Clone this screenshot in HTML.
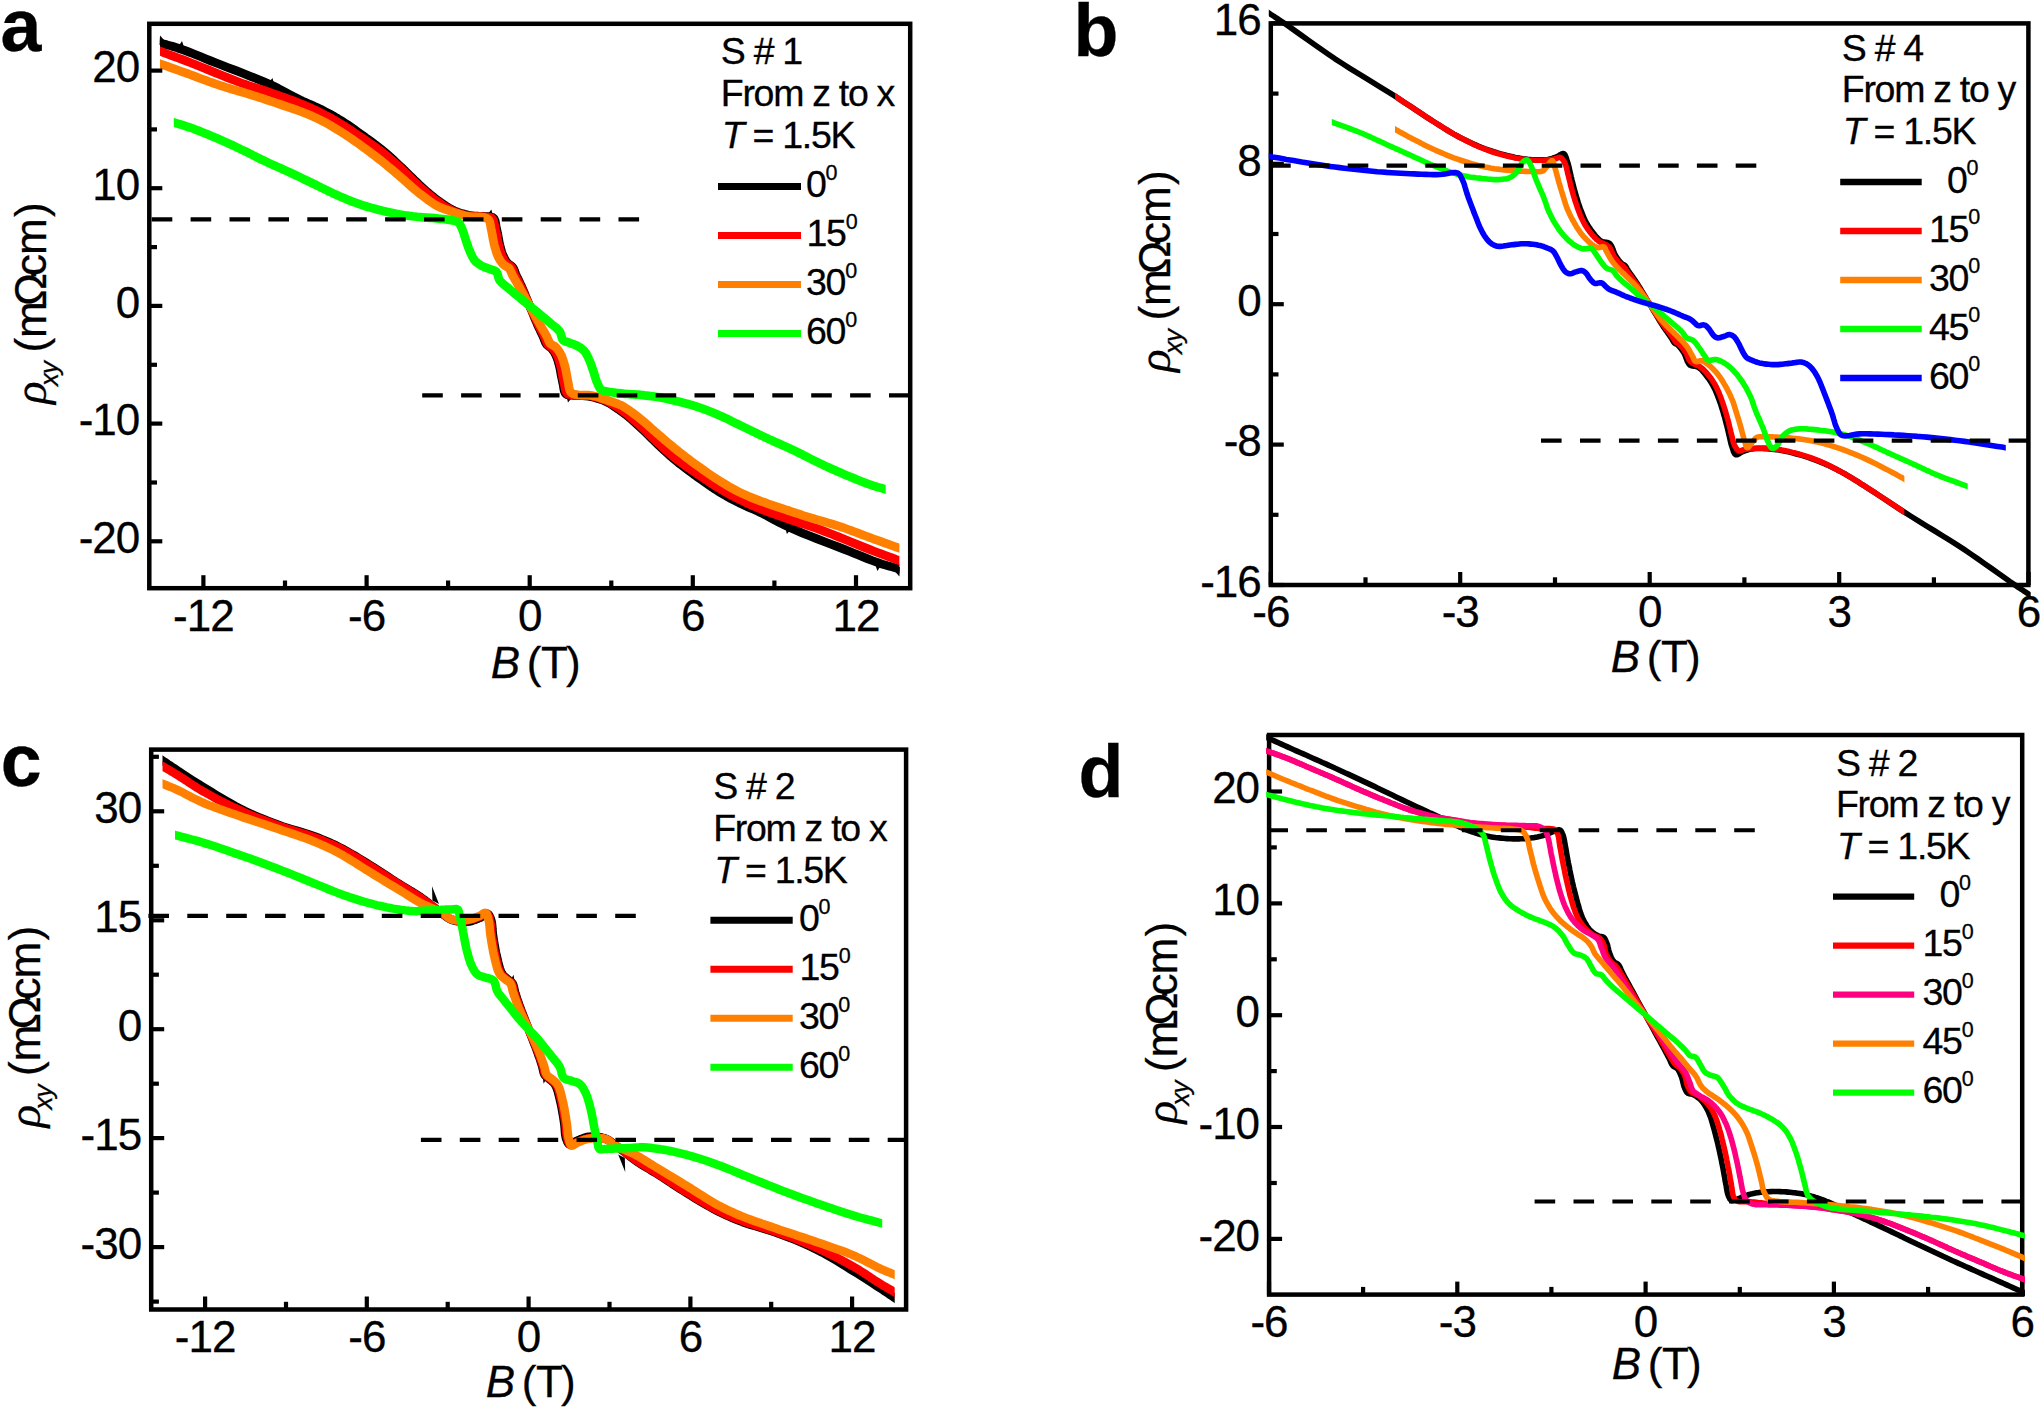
<!DOCTYPE html>
<html><head><meta charset="utf-8"><title>Hall resistivity</title>
<style>html,body{margin:0;padding:0;background:#fff;}svg{display:block;}text{font-family:'Liberation Sans', Arial, sans-serif;fill:#000;stroke:#000;stroke-width:0.3px;}</style>
</head><body>
<svg width="2040" height="1408" viewBox="0 0 2040 1408">
<rect width="2040" height="1408" fill="#fff"/>
<g>
<clipPath id="c1"><rect x="160.0" y="0" width="739.4" height="1408"/></clipPath>
<path clip-path="url(#c1)" d="M152.3,40.9 L160.0,43.0 L162.5,43.7 L164.9,44.3 L167.3,45.0 L169.7,45.6 L172.1,46.3 L174.6,47.0 L177.3,47.8 L180.0,48.8 L183.9,50.1 L187.9,51.6 L192.1,53.3 L196.4,55.0 L200.9,56.8 L205.5,58.7 L210.2,60.6 L215.0,62.5 L221.4,65.0 L228.3,67.7 L235.5,70.4 L242.8,73.3 L250.1,76.2 L257.2,79.0 L263.9,81.8 L270.0,84.5 L274.3,86.5 L278.3,88.5 L282.2,90.6 L286.0,92.6 L289.6,94.5 L293.1,96.4 L296.6,98.2 L300.0,99.9 L302.7,101.2 L305.3,102.3 L307.8,103.4 L310.3,104.5 L312.7,105.5 L315.1,106.6 L317.5,107.7 L320.0,108.9 L322.5,110.2 L325.0,111.5 L327.6,112.8 L330.1,114.1 L332.6,115.5 L335.0,117.0 L337.5,118.4 L340.0,119.9 L342.5,121.5 L345.0,123.1 L347.5,124.7 L350.0,126.4 L352.4,128.1 L354.9,129.9 L357.4,131.7 L360.0,133.5 L362.9,135.5 L365.8,137.7 L368.8,139.8 L371.8,142.0 L374.7,144.2 L377.6,146.5 L380.5,148.7 L383.2,150.9 L385.6,152.9 L387.9,154.9 L390.1,156.8 L392.3,158.8 L394.5,160.8 L396.6,162.8 L398.8,164.9 L401.0,166.9 L403.2,169.0 L405.4,171.2 L407.6,173.3 L409.8,175.5 L412.0,177.7 L414.2,179.9 L416.5,182.0 L418.7,184.1 L420.9,186.1 L423.1,188.1 L425.3,190.1 L427.5,192.1 L429.7,194.0 L432.0,195.9 L434.2,197.7 L436.5,199.4 L438.7,201.0 L440.9,202.6 L443.1,204.1 L445.3,205.6 L447.5,207.1 L449.7,208.4 L452.0,209.6 L454.2,210.7 L456.2,211.6 L458.3,212.4 L460.5,213.1 L462.6,213.7 L464.7,214.3 L466.7,214.8 L468.4,215.2 L470.0,215.5 L470.7,215.6 L471.4,215.8 L472.0,215.8 L472.6,215.9 L473.1,215.9 L473.7,216.0 L474.3,216.0 L475.0,216.1 L476.2,216.2 L477.5,216.2 L479.0,216.3 L480.4,216.3 L481.9,216.3 L483.4,216.4 L484.8,216.5 L486.1,216.6 L487.1,216.7 L488.1,216.7 L489.2,216.8 L490.1,216.8 L491.1,216.9 L491.9,217.1 L492.7,217.5 L493.4,218.0 L494.2,218.8 L494.7,220.0 L495.2,221.3 L495.5,222.8 L495.8,224.3 L496.0,226.0 L496.3,227.6 L496.7,229.2 L497.1,231.2 L497.5,233.3 L498.0,235.5 L498.4,237.8 L498.8,240.0 L499.2,242.2 L499.6,244.3 L500.1,246.3 L500.5,247.7 L500.9,249.1 L501.2,250.4 L501.6,251.7 L502.1,253.0 L502.5,254.2 L503.0,255.4 L503.5,256.5 L504.0,257.5 L504.4,258.4 L504.9,259.3 L505.5,260.2 L506.0,261.0 L506.6,261.8 L507.1,262.6 L507.8,263.3 L508.4,263.9 L509.0,264.5 L509.7,264.9 L510.4,265.4 L511.0,265.9 L511.7,266.4 L512.3,266.9 L512.9,267.6 L513.4,268.4 L513.9,269.2 L514.3,270.2 L514.7,271.1 L515.0,272.1 L515.4,273.1 L515.8,274.2 L516.3,275.3 L516.9,276.6 L517.6,278.0 L518.3,279.4 L519.0,280.9 L519.7,282.4 L520.4,283.9 L521.2,285.5 L521.9,287.2 L522.8,289.3 L523.8,291.6 L524.8,293.9 L525.7,296.3 L526.7,298.7 L527.7,301.2 L528.7,303.6 L529.7,305.9 L530.7,308.3 L531.7,310.7 L532.7,313.2 L533.7,315.6 L534.6,318.0 L535.6,320.3 L536.6,322.6 L537.5,324.7 L538.2,326.4 L539.0,328.0 L539.7,329.5 L540.4,331.0 L541.1,332.5 L541.8,333.9 L542.5,335.3 L543.1,336.6 L543.6,337.7 L544.0,338.8 L544.4,339.8 L544.7,340.8 L545.1,341.7 L545.5,342.7 L546.0,343.5 L546.5,344.3 L547.1,345.0 L547.7,345.5 L548.4,346.0 L549.0,346.5 L549.7,347.0 L550.4,347.4 L551.0,348.0 L551.6,348.6 L552.3,349.3 L552.8,350.1 L553.4,350.9 L553.9,351.7 L554.5,352.6 L555.0,353.5 L555.4,354.4 L555.9,355.4 L556.4,356.5 L556.9,357.7 L557.3,358.9 L557.8,360.2 L558.2,361.5 L558.5,362.8 L558.9,364.2 L559.3,365.6 L559.8,367.6 L560.2,369.7 L560.6,371.9 L561.0,374.1 L561.4,376.4 L561.9,378.6 L562.3,380.7 L562.7,382.7 L563.1,384.3 L563.4,385.9 L563.6,387.6 L563.9,389.1 L564.2,390.6 L564.7,391.9 L565.2,393.1 L566.0,393.9 L566.7,394.4 L567.5,394.8 L568.3,395.0 L569.3,395.1 L570.2,395.1 L571.3,395.2 L572.3,395.2 L573.3,395.3 L574.6,395.4 L576.0,395.5 L577.5,395.6 L579.0,395.6 L580.4,395.6 L581.9,395.7 L583.2,395.7 L584.4,395.8 L585.1,395.9 L585.7,395.9 L586.3,396.0 L586.8,396.0 L587.4,396.1 L588.0,396.1 L588.7,396.3 L589.4,396.4 L591.0,396.7 L592.7,397.1 L594.7,397.6 L596.8,398.2 L598.9,398.8 L601.1,399.5 L603.2,400.3 L605.2,401.2 L607.4,402.3 L609.7,403.5 L611.9,404.8 L614.1,406.3 L616.3,407.8 L618.5,409.3 L620.7,410.9 L622.9,412.5 L625.2,414.2 L627.4,416.0 L629.7,417.9 L631.9,419.8 L634.1,421.8 L636.3,423.8 L638.5,425.8 L640.7,427.8 L642.9,429.9 L645.2,432.0 L647.4,434.2 L649.6,436.4 L651.8,438.6 L654.0,440.7 L656.2,442.9 L658.4,445.0 L660.6,447.0 L662.8,449.1 L664.9,451.1 L667.1,453.1 L669.3,455.1 L671.5,457.0 L673.8,459.0 L676.2,461.0 L678.9,463.2 L681.8,465.4 L684.7,467.7 L687.6,469.9 L690.6,472.1 L693.6,474.2 L696.5,476.4 L699.4,478.4 L702.0,480.2 L704.5,482.0 L707.0,483.8 L709.4,485.5 L711.9,487.2 L714.4,488.8 L716.9,490.4 L719.4,492.0 L721.9,493.5 L724.4,494.9 L726.8,496.4 L729.3,497.8 L731.8,499.1 L734.4,500.4 L736.9,501.7 L739.4,503.0 L741.9,504.2 L744.3,505.3 L746.7,506.4 L749.1,507.4 L751.6,508.5 L754.1,509.6 L756.7,510.7 L759.4,512.0 L762.8,513.7 L766.3,515.5 L769.8,517.4 L773.4,519.3 L777.2,521.3 L781.1,523.4 L785.1,525.4 L789.4,527.4 L795.5,530.1 L802.2,532.9 L809.3,535.7 L816.6,538.6 L823.9,541.5 L831.1,544.2 L838.0,546.9 L844.4,549.4 L849.2,551.3 L853.9,553.2 L858.5,555.1 L863.0,556.9 L867.3,558.6 L871.5,560.3 L875.5,561.8 L879.4,563.2 L882.1,564.1 L884.8,564.9 L887.3,565.6 L889.7,566.3 L892.1,566.9 L894.5,567.6 L896.9,568.2 L899.4,568.9 L907.1,571.0" fill="none" stroke="#000000" stroke-width="8.70" stroke-linejoin="round" stroke-linecap="butt"/>
<polygon points="487.0,214.9 491.4,209.4 492.8,215.6" fill="#000000"/>
<polygon points="572.4,397.0 568.0,402.5 566.6,396.3" fill="#000000"/>
<polygon points="266.2,85.5 272.5,78.0 275.0,87.5" fill="#000000"/>
<polygon points="793.2,526.4 786.9,533.9 784.4,524.4" fill="#000000"/>
<polygon points="177.5,48.0 182.0,41.0 185.0,50.0" fill="#000000"/>
<polygon points="881.9,563.9 877.4,570.9 874.4,561.9" fill="#000000"/>
<polygon points="159.5,45.0 160.0,35.5 167.5,43.8" fill="#000000"/>
<polygon points="899.9,566.9 899.4,576.4 891.9,568.1" fill="#000000"/>
<clipPath id="c2"><rect x="160.0" y="0" width="739.4" height="1408"/></clipPath>
<path clip-path="url(#c2)" d="M152.5,48.5 L160.0,51.2 L163.7,52.6 L167.3,54.0 L170.9,55.3 L174.5,56.6 L178.2,58.0 L182.0,59.4 L185.9,60.9 L190.0,62.5 L195.7,64.8 L201.9,67.3 L208.4,69.9 L215.0,72.6 L221.6,75.3 L228.1,77.9 L234.3,80.3 L240.0,82.5 L244.1,84.0 L248.0,85.3 L251.8,86.6 L255.5,87.7 L259.1,88.9 L262.7,90.0 L266.3,91.2 L270.0,92.5 L273.8,93.8 L277.7,95.2 L281.5,96.5 L285.4,97.9 L289.2,99.3 L293.0,100.7 L296.6,102.0 L300.0,103.4 L302.7,104.5 L305.3,105.6 L307.8,106.7 L310.3,107.8 L312.7,108.9 L315.1,110.0 L317.5,111.2 L320.0,112.4 L322.5,113.7 L325.0,115.0 L327.5,116.3 L330.1,117.7 L332.6,119.1 L335.0,120.5 L337.5,121.9 L340.0,123.4 L342.5,124.9 L345.0,126.5 L347.5,128.1 L350.0,129.7 L352.4,131.4 L354.9,133.1 L357.4,134.8 L360.0,136.5 L362.9,138.4 L365.8,140.4 L368.8,142.5 L371.8,144.5 L374.7,146.6 L377.6,148.7 L380.5,150.8 L383.2,152.9 L385.6,154.8 L387.9,156.7 L390.1,158.7 L392.3,160.6 L394.5,162.5 L396.7,164.5 L398.8,166.5 L401.0,168.5 L403.2,170.6 L405.4,172.7 L407.6,174.9 L409.8,177.1 L412.0,179.3 L414.2,181.4 L416.5,183.5 L418.7,185.6 L420.9,187.6 L423.1,189.6 L425.3,191.5 L427.5,193.5 L429.7,195.4 L432.0,197.2 L434.2,199.0 L436.5,200.7 L438.7,202.2 L440.9,203.8 L443.1,205.3 L445.3,206.7 L447.5,208.0 L449.8,209.3 L452.0,210.5 L454.2,211.5 L456.2,212.3 L458.4,213.1 L460.5,213.8 L462.6,214.5 L464.7,215.0 L466.7,215.5 L468.4,215.9 L470.0,216.2 L470.7,216.3 L471.4,216.4 L472.0,216.4 L472.6,216.4 L473.1,216.4 L473.7,216.4 L474.3,216.4 L475.0,216.4 L476.1,216.5 L477.4,216.5 L478.7,216.5 L480.0,216.6 L481.4,216.6 L482.8,216.7 L484.1,216.8 L485.3,216.9 L486.2,217.0 L487.1,217.1 L488.1,217.1 L489.0,217.2 L489.8,217.3 L490.7,217.5 L491.4,217.8 L492.1,218.3 L492.8,219.2 L493.4,220.2 L493.8,221.5 L494.2,223.0 L494.5,224.5 L494.8,226.1 L495.1,227.7 L495.5,229.2 L495.9,231.2 L496.4,233.3 L496.8,235.5 L497.2,237.8 L497.6,240.0 L498.0,242.2 L498.4,244.3 L498.9,246.3 L499.3,247.7 L499.7,249.1 L500.1,250.4 L500.5,251.7 L500.9,253.0 L501.3,254.2 L501.8,255.4 L502.3,256.5 L502.8,257.5 L503.2,258.4 L503.7,259.3 L504.3,260.2 L504.8,261.0 L505.4,261.8 L506.0,262.6 L506.6,263.3 L507.2,263.9 L507.8,264.5 L508.5,264.9 L509.2,265.4 L509.9,265.9 L510.5,266.4 L511.1,266.9 L511.7,267.6 L512.2,268.4 L512.7,269.2 L513.1,270.2 L513.5,271.1 L513.8,272.1 L514.2,273.2 L514.6,274.2 L515.1,275.3 L515.7,276.6 L516.4,278.0 L517.2,279.4 L517.9,280.9 L518.7,282.4 L519.5,283.9 L520.3,285.5 L521.1,287.2 L522.1,289.3 L523.1,291.6 L524.2,293.9 L525.3,296.3 L526.4,298.7 L527.5,301.2 L528.6,303.6 L529.7,305.9 L530.8,308.3 L531.9,310.7 L533.0,313.2 L534.1,315.6 L535.2,318.0 L536.3,320.3 L537.3,322.6 L538.3,324.7 L539.1,326.4 L539.9,328.0 L540.7,329.5 L541.5,331.0 L542.2,332.5 L543.0,333.9 L543.7,335.3 L544.3,336.6 L544.8,337.7 L545.2,338.7 L545.6,339.8 L545.9,340.8 L546.3,341.7 L546.7,342.7 L547.2,343.5 L547.7,344.3 L548.3,345.0 L548.9,345.5 L549.5,346.0 L550.2,346.5 L550.9,347.0 L551.6,347.4 L552.2,348.0 L552.8,348.6 L553.4,349.3 L554.0,350.1 L554.6,350.9 L555.1,351.7 L555.7,352.6 L556.2,353.5 L556.6,354.4 L557.1,355.4 L557.6,356.5 L558.1,357.7 L558.5,358.9 L558.9,360.2 L559.3,361.5 L559.7,362.8 L560.1,364.2 L560.5,365.6 L561.0,367.6 L561.4,369.7 L561.8,371.9 L562.2,374.1 L562.6,376.4 L563.0,378.6 L563.5,380.7 L563.9,382.7 L564.3,384.2 L564.6,385.8 L564.9,387.4 L565.2,388.9 L565.6,390.4 L566.0,391.7 L566.6,392.7 L567.3,393.6 L568.0,394.1 L568.7,394.4 L569.6,394.6 L570.4,394.7 L571.3,394.8 L572.3,394.8 L573.2,394.9 L574.1,395.0 L575.3,395.1 L576.6,395.2 L578.0,395.3 L579.4,395.3 L580.7,395.4 L582.0,395.4 L583.3,395.4 L584.4,395.5 L585.1,395.5 L585.7,395.5 L586.3,395.5 L586.8,395.5 L587.4,395.5 L588.0,395.5 L588.7,395.6 L589.4,395.7 L591.0,396.0 L592.7,396.4 L594.7,396.9 L596.8,397.4 L598.9,398.1 L601.0,398.8 L603.2,399.6 L605.2,400.4 L607.4,401.4 L609.6,402.6 L611.9,403.9 L614.1,405.2 L616.3,406.6 L618.5,408.1 L620.7,409.7 L622.9,411.2 L625.2,412.9 L627.4,414.7 L629.7,416.5 L631.9,418.4 L634.1,420.4 L636.3,422.3 L638.5,424.3 L640.7,426.3 L642.9,428.4 L645.2,430.5 L647.4,432.6 L649.6,434.8 L651.8,437.0 L654.0,439.2 L656.2,441.3 L658.4,443.4 L660.6,445.4 L662.7,447.4 L664.9,449.4 L667.1,451.3 L669.3,453.2 L671.5,455.2 L673.8,457.1 L676.2,459.0 L678.9,461.1 L681.8,463.2 L684.7,465.3 L687.6,467.4 L690.6,469.4 L693.6,471.5 L696.5,473.5 L699.4,475.4 L702.0,477.1 L704.5,478.8 L707.0,480.5 L709.4,482.2 L711.9,483.8 L714.4,485.4 L716.9,487.0 L719.4,488.5 L721.9,490.0 L724.4,491.4 L726.8,492.8 L729.3,494.2 L731.9,495.6 L734.4,496.9 L736.9,498.2 L739.4,499.5 L741.9,500.7 L744.3,501.9 L746.7,503.0 L749.1,504.1 L751.6,505.2 L754.1,506.3 L756.7,507.4 L759.4,508.5 L762.8,509.9 L766.4,511.2 L770.2,512.6 L774.0,514.0 L777.9,515.4 L781.7,516.7 L785.6,518.1 L789.4,519.4 L793.1,520.7 L796.7,521.9 L800.3,523.0 L803.9,524.2 L807.6,525.3 L811.4,526.6 L815.3,527.9 L819.4,529.4 L825.1,531.6 L831.3,534.0 L837.8,536.6 L844.4,539.3 L851.0,542.0 L857.5,544.6 L863.7,547.1 L869.4,549.4 L873.5,551.0 L877.4,552.5 L881.2,553.9 L884.9,555.3 L888.5,556.6 L892.1,557.9 L895.7,559.3 L899.4,560.6 L906.9,563.4" fill="none" stroke="#ff0000" stroke-width="8.70" stroke-linejoin="round" stroke-linecap="butt"/>
<clipPath id="c3"><rect x="160.0" y="0" width="739.4" height="1408"/></clipPath>
<path clip-path="url(#c3)" d="M152.5,61.1 L160.0,63.8 L163.8,65.1 L167.5,66.4 L171.3,67.8 L175.0,69.1 L178.8,70.5 L182.5,71.8 L186.3,73.1 L190.0,74.5 L193.7,75.9 L197.5,77.3 L201.2,78.7 L205.0,80.1 L208.7,81.5 L212.5,82.9 L216.2,84.2 L220.0,85.5 L223.8,86.7 L227.5,87.9 L231.3,89.0 L235.1,90.1 L238.9,91.2 L242.7,92.3 L246.4,93.4 L250.0,94.5 L253.4,95.6 L256.7,96.6 L259.9,97.7 L263.2,98.7 L266.4,99.8 L269.6,100.9 L272.8,101.9 L276.0,103.0 L279.1,104.0 L282.1,105.0 L285.2,106.1 L288.2,107.1 L291.2,108.1 L294.2,109.2 L297.1,110.2 L300.0,111.3 L302.6,112.3 L305.2,113.3 L307.7,114.3 L310.2,115.3 L312.6,116.4 L315.1,117.5 L317.5,118.6 L320.0,119.8 L322.5,121.1 L325.1,122.4 L327.6,123.8 L330.1,125.2 L332.6,126.7 L335.0,128.2 L337.5,129.7 L340.0,131.2 L342.5,132.8 L345.0,134.4 L347.5,136.1 L350.0,137.7 L352.4,139.4 L354.9,141.2 L357.5,143.0 L360.0,144.8 L362.9,146.9 L365.8,149.0 L368.8,151.2 L371.7,153.5 L374.7,155.7 L377.6,158.0 L380.5,160.2 L383.2,162.4 L385.6,164.3 L387.8,166.2 L390.1,168.1 L392.3,169.9 L394.5,171.8 L396.6,173.6 L398.8,175.5 L401.0,177.4 L403.2,179.3 L405.4,181.3 L407.6,183.2 L409.8,185.2 L412.0,187.2 L414.2,189.1 L416.5,191.0 L418.7,192.8 L420.9,194.6 L423.2,196.3 L425.6,198.1 L427.9,199.9 L430.2,201.5 L432.4,203.0 L434.5,204.4 L436.5,205.6 L437.7,206.3 L438.9,206.8 L440.0,207.3 L441.1,207.8 L442.1,208.2 L443.2,208.6 L444.3,209.0 L445.4,209.4 L446.6,209.8 L447.7,210.2 L448.9,210.6 L450.1,211.0 L451.3,211.4 L452.5,211.8 L453.7,212.2 L455.0,212.6 L456.5,213.1 L458.1,213.6 L459.7,214.2 L461.4,214.7 L463.1,215.2 L464.8,215.7 L466.5,216.1 L468.2,216.4 L470.1,216.7 L472.1,216.8 L474.2,216.8 L476.3,216.8 L478.4,216.8 L480.3,216.9 L482.0,217.0 L483.5,217.3 L484.4,217.5 L485.1,217.7 L485.8,217.9 L486.5,218.2 L487.1,218.5 L487.7,218.9 L488.2,219.3 L488.7,219.8 L489.2,220.7 L489.6,221.6 L490.0,222.7 L490.2,223.9 L490.5,225.2 L490.7,226.5 L490.9,227.9 L491.2,229.2 L491.6,231.1 L492.0,233.2 L492.4,235.4 L492.8,237.6 L493.2,239.9 L493.7,242.1 L494.1,244.3 L494.6,246.3 L495.1,247.9 L495.6,249.5 L496.0,251.1 L496.5,252.6 L497.1,254.1 L497.6,255.6 L498.2,256.9 L498.9,258.2 L499.5,259.2 L500.0,260.2 L500.7,261.1 L501.3,262.0 L502.0,262.8 L502.6,263.6 L503.3,264.3 L504.0,265.0 L504.6,265.5 L505.3,266.0 L506.0,266.3 L506.6,266.7 L507.3,267.1 L508.0,267.4 L508.6,267.9 L509.1,268.4 L509.7,269.1 L510.1,269.9 L510.5,270.7 L510.9,271.5 L511.3,272.4 L511.6,273.3 L512.1,274.3 L512.5,275.3 L513.3,276.6 L514.0,277.9 L514.8,279.4 L515.7,280.8 L516.6,282.4 L517.5,283.9 L518.4,285.5 L519.4,287.2 L520.5,289.3 L521.8,291.6 L523.1,293.9 L524.4,296.3 L525.7,298.7 L527.1,301.2 L528.4,303.6 L529.7,305.9 L531.0,308.3 L532.3,310.7 L533.7,313.2 L535.0,315.6 L536.3,318.0 L537.6,320.3 L538.9,322.6 L540.0,324.7 L541.0,326.4 L541.9,328.0 L542.8,329.5 L543.7,331.1 L544.6,332.5 L545.4,334.0 L546.1,335.3 L546.9,336.6 L547.3,337.6 L547.8,338.6 L548.1,339.5 L548.5,340.4 L548.9,341.2 L549.3,342.0 L549.7,342.8 L550.3,343.5 L550.8,344.0 L551.4,344.5 L552.1,344.8 L552.8,345.2 L553.4,345.6 L554.1,345.9 L554.8,346.4 L555.4,346.9 L556.1,347.6 L556.8,348.3 L557.4,349.1 L558.1,349.9 L558.7,350.8 L559.4,351.7 L559.9,352.7 L560.5,353.7 L561.2,355.0 L561.8,356.3 L562.3,357.8 L562.9,359.3 L563.4,360.8 L563.8,362.4 L564.3,364.0 L564.8,365.6 L565.3,367.6 L565.7,369.8 L566.2,372.0 L566.6,374.3 L567.0,376.5 L567.4,378.7 L567.8,380.8 L568.2,382.7 L568.5,384.0 L568.7,385.4 L568.9,386.7 L569.2,388.0 L569.4,389.2 L569.8,390.3 L570.2,391.2 L570.7,392.1 L571.2,392.6 L571.7,393.0 L572.3,393.4 L572.9,393.7 L573.6,394.0 L574.3,394.2 L575.0,394.4 L575.9,394.6 L577.4,394.9 L579.1,395.0 L581.0,395.1 L583.1,395.1 L585.2,395.1 L587.3,395.1 L589.3,395.2 L591.2,395.5 L592.9,395.8 L594.6,396.2 L596.3,396.7 L598.0,397.2 L599.7,397.7 L601.3,398.3 L602.9,398.8 L604.4,399.3 L605.7,399.7 L606.9,400.1 L608.1,400.5 L609.3,400.9 L610.5,401.3 L611.7,401.7 L612.8,402.1 L614.0,402.5 L615.1,402.9 L616.2,403.3 L617.3,403.7 L618.3,404.1 L619.4,404.6 L620.5,405.1 L621.7,405.6 L622.9,406.3 L624.9,407.5 L627.0,408.9 L629.2,410.4 L631.5,412.0 L633.8,413.8 L636.2,415.6 L638.5,417.3 L640.7,419.1 L642.9,420.9 L645.2,422.8 L647.4,424.7 L649.6,426.7 L651.8,428.7 L654.0,430.6 L656.2,432.6 L658.4,434.5 L660.6,436.4 L662.8,438.3 L664.9,440.1 L667.1,442.0 L669.3,443.8 L671.6,445.7 L673.8,447.6 L676.2,449.5 L678.9,451.7 L681.8,453.9 L684.7,456.2 L687.7,458.4 L690.6,460.7 L693.6,462.9 L696.5,465.0 L699.4,467.1 L701.9,468.9 L704.5,470.7 L707.0,472.5 L709.4,474.2 L711.9,475.8 L714.4,477.5 L716.9,479.1 L719.4,480.7 L721.9,482.2 L724.4,483.7 L726.8,485.2 L729.3,486.7 L731.8,488.1 L734.3,489.5 L736.9,490.8 L739.4,492.1 L741.9,493.3 L744.3,494.4 L746.8,495.5 L749.2,496.6 L751.7,497.6 L754.2,498.6 L756.8,499.6 L759.4,500.6 L762.3,501.7 L765.2,502.7 L768.2,503.8 L771.2,504.8 L774.2,505.8 L777.3,506.9 L780.3,507.9 L783.4,508.9 L786.6,510.0 L789.8,511.0 L793.0,512.1 L796.2,513.2 L799.5,514.2 L802.7,515.3 L806.0,516.3 L809.4,517.4 L813.0,518.5 L816.7,519.6 L820.5,520.7 L824.3,521.8 L828.1,522.9 L831.9,524.0 L835.6,525.2 L839.4,526.4 L843.2,527.7 L846.9,529.0 L850.7,530.4 L854.4,531.8 L858.2,533.2 L861.9,534.6 L865.7,536.0 L869.4,537.4 L873.1,538.8 L876.9,540.1 L880.6,541.4 L884.4,542.8 L888.1,544.1 L891.9,545.5 L895.6,546.8 L899.4,548.1 L906.9,550.8" fill="none" stroke="#ff8000" stroke-width="8.70" stroke-linejoin="round" stroke-linecap="butt"/>
<clipPath id="c4"><rect x="173.8" y="0" width="711.9" height="1408"/></clipPath>
<path clip-path="url(#c4)" d="M166.1,120.2 L173.8,122.5 L175.8,123.1 L177.7,123.7 L179.7,124.3 L181.7,124.8 L183.7,125.4 L185.7,126.1 L187.8,126.8 L190.0,127.5 L192.9,128.5 L195.9,129.7 L199.0,130.9 L202.2,132.2 L205.4,133.5 L208.6,134.8 L211.9,136.2 L215.0,137.5 L218.1,138.8 L221.3,140.2 L224.4,141.6 L227.5,143.0 L230.7,144.4 L233.8,145.8 L236.9,147.3 L240.0,148.8 L243.1,150.3 L246.3,151.8 L249.4,153.4 L252.5,155.0 L255.6,156.6 L258.7,158.2 L261.9,159.7 L265.0,161.2 L268.1,162.7 L271.2,164.1 L274.4,165.5 L277.5,166.9 L280.6,168.3 L283.8,169.7 L286.9,171.1 L290.0,172.5 L293.1,174.0 L296.3,175.5 L299.4,176.9 L302.5,178.5 L305.6,180.0 L308.8,181.5 L311.9,183.0 L315.0,184.5 L318.1,186.0 L321.2,187.6 L324.4,189.1 L327.5,190.6 L330.6,192.2 L333.7,193.7 L336.9,195.1 L340.0,196.5 L343.1,197.8 L346.2,199.1 L349.3,200.4 L352.4,201.6 L355.6,202.8 L358.7,203.9 L361.9,205.0 L365.0,206.0 L368.2,207.0 L371.5,207.9 L374.8,208.8 L378.2,209.7 L381.4,210.5 L384.5,211.2 L387.4,211.9 L390.0,212.5 L391.4,212.8 L392.7,213.1 L394.0,213.4 L395.1,213.6 L396.2,213.9 L397.4,214.1 L398.6,214.3 L400.0,214.6 L401.9,214.9 L403.9,215.2 L406.1,215.5 L408.2,215.7 L410.5,216.0 L412.7,216.3 L414.9,216.5 L417.1,216.8 L419.2,217.0 L421.3,217.2 L423.4,217.3 L425.6,217.5 L427.7,217.6 L429.8,217.8 L432.0,217.9 L434.1,218.1 L436.3,218.3 L438.5,218.6 L440.8,218.8 L443.1,219.0 L445.3,219.3 L447.4,219.6 L449.4,219.9 L451.2,220.2 L452.2,220.4 L453.1,220.5 L454.1,220.7 L454.9,220.8 L455.8,221.0 L456.5,221.3 L457.3,221.6 L458.0,222.1 L458.7,222.7 L459.3,223.4 L459.9,224.3 L460.4,225.2 L460.9,226.2 L461.3,227.2 L461.8,228.2 L462.2,229.2 L462.7,230.4 L463.2,231.6 L463.6,232.9 L464.0,234.1 L464.4,235.5 L464.8,236.8 L465.2,238.1 L465.6,239.4 L466.1,240.9 L466.6,242.4 L467.1,243.9 L467.7,245.5 L468.2,247.0 L468.7,248.5 L469.3,250.0 L469.9,251.4 L470.5,252.7 L471.0,253.9 L471.6,255.2 L472.2,256.4 L472.9,257.6 L473.5,258.7 L474.2,259.8 L475.0,260.8 L475.8,261.6 L476.5,262.3 L477.4,263.0 L478.2,263.6 L479.1,264.2 L480.0,264.8 L480.9,265.3 L481.8,265.9 L482.8,266.4 L483.9,266.9 L485.0,267.3 L486.1,267.7 L487.2,268.1 L488.3,268.5 L489.4,268.9 L490.4,269.3 L491.2,269.6 L492.0,269.8 L492.8,270.1 L493.6,270.3 L494.4,270.6 L495.1,270.9 L495.7,271.3 L496.3,271.8 L496.9,272.6 L497.4,273.6 L497.7,274.7 L498.0,275.8 L498.3,277.0 L498.7,278.2 L499.1,279.3 L499.7,280.4 L500.6,281.5 L501.7,282.6 L502.8,283.7 L504.0,284.7 L505.3,285.8 L506.6,286.8 L507.9,287.8 L509.1,288.9 L510.4,290.0 L511.6,291.0 L512.9,292.1 L514.2,293.2 L515.5,294.2 L516.8,295.3 L518.1,296.4 L519.4,297.4 L520.6,298.5 L521.9,299.6 L523.2,300.6 L524.5,301.7 L525.8,302.8 L527.1,303.8 L528.4,304.9 L529.7,305.9 L531.0,307.0 L532.3,308.1 L533.6,309.1 L534.9,310.2 L536.2,311.3 L537.5,312.3 L538.8,313.4 L540.0,314.5 L541.3,315.5 L542.6,316.6 L543.9,317.7 L545.2,318.7 L546.5,319.8 L547.8,320.9 L549.0,321.9 L550.3,323.0 L551.5,324.1 L552.8,325.1 L554.1,326.1 L555.4,327.2 L556.6,328.2 L557.7,329.3 L558.8,330.4 L559.7,331.5 L560.3,332.6 L560.7,333.7 L561.1,334.9 L561.4,336.1 L561.7,337.2 L562.0,338.3 L562.5,339.3 L563.1,340.1 L563.7,340.6 L564.3,341.0 L565.0,341.3 L565.8,341.6 L566.6,341.8 L567.4,342.1 L568.2,342.3 L569.0,342.6 L570.0,343.0 L571.1,343.4 L572.2,343.8 L573.3,344.2 L574.4,344.6 L575.5,345.0 L576.6,345.5 L577.6,346.0 L578.5,346.6 L579.4,347.1 L580.3,347.7 L581.2,348.3 L582.0,348.9 L582.9,349.6 L583.6,350.3 L584.4,351.1 L585.2,352.1 L585.9,353.2 L586.5,354.3 L587.2,355.5 L587.8,356.7 L588.4,358.0 L588.9,359.2 L589.5,360.5 L590.1,361.9 L590.7,363.4 L591.2,364.9 L591.7,366.4 L592.3,368.0 L592.8,369.5 L593.3,371.0 L593.8,372.5 L594.2,373.8 L594.6,375.1 L595.0,376.4 L595.4,377.8 L595.8,379.0 L596.2,380.3 L596.7,381.5 L597.2,382.7 L597.6,383.7 L598.1,384.7 L598.5,385.7 L599.0,386.7 L599.5,387.6 L600.1,388.5 L600.7,389.2 L601.4,389.8 L602.1,390.3 L602.9,390.6 L603.6,390.9 L604.5,391.1 L605.3,391.2 L606.3,391.4 L607.2,391.5 L608.2,391.7 L610.0,392.0 L612.0,392.3 L614.1,392.6 L616.3,392.9 L618.6,393.1 L620.9,393.3 L623.1,393.6 L625.3,393.8 L627.4,394.0 L629.6,394.1 L631.7,394.3 L633.8,394.4 L636.0,394.6 L638.1,394.7 L640.2,394.9 L642.3,395.1 L644.5,395.4 L646.7,395.6 L648.9,395.9 L651.2,396.2 L653.3,396.4 L655.5,396.7 L657.5,397.0 L659.4,397.3 L660.8,397.6 L662.0,397.8 L663.2,398.0 L664.3,398.3 L665.4,398.5 L666.7,398.8 L668.0,399.1 L669.4,399.4 L672.0,400.0 L674.9,400.7 L678.0,401.4 L681.2,402.2 L684.6,403.1 L687.9,404.0 L691.2,404.9 L694.4,405.9 L697.5,406.9 L700.7,408.0 L703.8,409.1 L707.0,410.3 L710.1,411.5 L713.2,412.8 L716.3,414.1 L719.4,415.4 L722.5,416.8 L725.7,418.2 L728.8,419.7 L731.9,421.3 L735.0,422.8 L738.2,424.3 L741.3,425.9 L744.4,427.4 L747.5,428.9 L750.6,430.4 L753.8,431.9 L756.9,433.4 L760.0,435.0 L763.1,436.4 L766.3,437.9 L769.4,439.4 L772.5,440.8 L775.6,442.2 L778.8,443.6 L781.9,445.0 L785.0,446.4 L788.2,447.8 L791.3,449.2 L794.4,450.6 L797.5,452.2 L800.7,453.7 L803.8,455.3 L806.9,456.9 L810.0,458.5 L813.1,460.1 L816.3,461.6 L819.4,463.1 L822.5,464.6 L825.6,466.1 L828.7,467.5 L831.9,468.9 L835.0,470.3 L838.1,471.7 L841.3,473.1 L844.4,474.4 L847.5,475.7 L850.8,477.1 L854.0,478.4 L857.2,479.7 L860.4,481.0 L863.5,482.2 L866.5,483.4 L869.4,484.4 L871.6,485.1 L873.7,485.8 L875.7,486.5 L877.7,487.1 L879.7,487.6 L881.7,488.2 L883.6,488.8 L885.7,489.4 L893.3,491.7" fill="none" stroke="#00ff00" stroke-width="8.70" stroke-linejoin="round" stroke-linecap="butt"/>
<rect x="149.3" y="23.8" width="760.9" height="564.4" fill="none" stroke="#000" stroke-width="4.5"/>
<line x1="203.4" y1="588.2" x2="203.4" y2="575.2" stroke="#000" stroke-width="4.2"/>
<line x1="366.6" y1="588.2" x2="366.6" y2="575.2" stroke="#000" stroke-width="4.2"/>
<line x1="529.7" y1="588.2" x2="529.7" y2="575.2" stroke="#000" stroke-width="4.2"/>
<line x1="692.8" y1="588.2" x2="692.8" y2="575.2" stroke="#000" stroke-width="4.2"/>
<line x1="856.0" y1="588.2" x2="856.0" y2="575.2" stroke="#000" stroke-width="4.2"/>
<line x1="285.0" y1="588.2" x2="285.0" y2="580.5" stroke="#000" stroke-width="4.2"/>
<line x1="448.1" y1="588.2" x2="448.1" y2="580.5" stroke="#000" stroke-width="4.2"/>
<line x1="611.3" y1="588.2" x2="611.3" y2="580.5" stroke="#000" stroke-width="4.2"/>
<line x1="774.4" y1="588.2" x2="774.4" y2="580.5" stroke="#000" stroke-width="4.2"/>
<line x1="149.3" y1="541.3" x2="162.3" y2="541.3" stroke="#000" stroke-width="4.2"/>
<line x1="149.3" y1="423.6" x2="162.3" y2="423.6" stroke="#000" stroke-width="4.2"/>
<line x1="149.3" y1="305.9" x2="162.3" y2="305.9" stroke="#000" stroke-width="4.2"/>
<line x1="149.3" y1="188.2" x2="162.3" y2="188.2" stroke="#000" stroke-width="4.2"/>
<line x1="149.3" y1="70.6" x2="162.3" y2="70.6" stroke="#000" stroke-width="4.2"/>
<line x1="149.3" y1="482.5" x2="157.0" y2="482.5" stroke="#000" stroke-width="4.2"/>
<line x1="149.3" y1="364.8" x2="157.0" y2="364.8" stroke="#000" stroke-width="4.2"/>
<line x1="149.3" y1="247.1" x2="157.0" y2="247.1" stroke="#000" stroke-width="4.2"/>
<line x1="149.3" y1="129.4" x2="157.0" y2="129.4" stroke="#000" stroke-width="4.2"/>
<line x1="151.7" y1="219.4" x2="640.0" y2="219.4" stroke="#000" stroke-width="4.1" stroke-dasharray="20.6 18.30"/>
<line x1="422.2" y1="395.4" x2="910.0" y2="395.4" stroke="#000" stroke-width="4.1" stroke-dasharray="20.6 18.30"/>
<text x="203.4" y="631.2" font-size="44.0" text-anchor="middle" letter-spacing="-1">-12</text>
<text x="366.6" y="631.2" font-size="44.0" text-anchor="middle" letter-spacing="-1">-6</text>
<text x="529.7" y="631.2" font-size="44.0" text-anchor="middle" letter-spacing="-1">0</text>
<text x="692.8" y="631.2" font-size="44.0" text-anchor="middle" letter-spacing="-1">6</text>
<text x="856.0" y="631.2" font-size="44.0" text-anchor="middle" letter-spacing="-1">12</text>
<text x="139.3" y="553.0" font-size="44.0" text-anchor="end" letter-spacing="-1">-20</text>
<text x="139.3" y="435.3" font-size="44.0" text-anchor="end" letter-spacing="-1">-10</text>
<text x="139.3" y="317.6" font-size="44.0" text-anchor="end" letter-spacing="-1">0</text>
<text x="139.3" y="199.9" font-size="44.0" text-anchor="end" letter-spacing="-1">10</text>
<text x="139.3" y="82.3" font-size="44.0" text-anchor="end" letter-spacing="-1">20</text>
<text y="677.5" font-size="44"><tspan x="490.8" font-style="italic">B</tspan><tspan x="526.8">(</tspan><tspan x="541.0">T</tspan><tspan x="566.0">)</tspan></text>
<g transform="translate(45.8,407.0) rotate(-90)">
<text font-size="44" y="0"><tspan x="3" font-style="italic" font-family="Liberation Serif, serif" font-size="47">ρ</tspan><tspan x="21 33" dy="12" font-size="26" font-style="italic">xy</tspan><tspan dy="-12" x="54.5 69 101 125.5 131 152 190">(mΩ·cm)</tspan></text>
</g>
<text x="0.5" y="51.0" font-size="73.5" font-weight="bold" stroke-width="0">a</text>
<text font-size="37.5" letter-spacing="-1.3"><tspan x="720.8" y="64.3">S # 1</tspan><tspan x="720.8" y="106.3">From z to x</tspan><tspan x="721.8" y="148.3"><tspan font-style="italic">T</tspan> = 1.5K</tspan></text>
<line x1="718.0" y1="186.6" x2="801.0" y2="186.6" stroke="#000000" stroke-width="7.0"/>
<text x="806.0" y="197.4" font-size="37.5" letter-spacing="-1.3">0<tspan dy="-17.5" font-size="21.5">0</tspan></text>
<line x1="718.0" y1="235.6" x2="801.0" y2="235.6" stroke="#ff0000" stroke-width="7.0"/>
<text x="806.5" y="246.4" font-size="37.5" letter-spacing="-1.3">15<tspan dy="-17.5" font-size="21.5">0</tspan></text>
<line x1="718.0" y1="284.6" x2="801.0" y2="284.6" stroke="#ff8000" stroke-width="7.0"/>
<text x="806.0" y="295.4" font-size="37.5" letter-spacing="-1.3">30<tspan dy="-17.5" font-size="21.5">0</tspan></text>
<line x1="718.0" y1="333.6" x2="801.0" y2="333.6" stroke="#00ff00" stroke-width="7.0"/>
<text x="806.0" y="344.4" font-size="37.5" letter-spacing="-1.3">60<tspan dy="-17.5" font-size="21.5">0</tspan></text>
</g>
<g>
<rect x="1270.8" y="23.4" width="757.6" height="561.6" fill="none" stroke="#000" stroke-width="4.5"/>
<line x1="1270.8" y1="585.0" x2="1270.8" y2="572.0" stroke="#000" stroke-width="4.2"/>
<line x1="1460.2" y1="585.0" x2="1460.2" y2="572.0" stroke="#000" stroke-width="4.2"/>
<line x1="1649.7" y1="585.0" x2="1649.7" y2="572.0" stroke="#000" stroke-width="4.2"/>
<line x1="1839.2" y1="585.0" x2="1839.2" y2="572.0" stroke="#000" stroke-width="4.2"/>
<line x1="2028.6" y1="585.0" x2="2028.6" y2="572.0" stroke="#000" stroke-width="4.2"/>
<line x1="1365.5" y1="585.0" x2="1365.5" y2="577.3" stroke="#000" stroke-width="4.2"/>
<line x1="1555.0" y1="585.0" x2="1555.0" y2="577.3" stroke="#000" stroke-width="4.2"/>
<line x1="1744.4" y1="585.0" x2="1744.4" y2="577.3" stroke="#000" stroke-width="4.2"/>
<line x1="1933.9" y1="585.0" x2="1933.9" y2="577.3" stroke="#000" stroke-width="4.2"/>
<line x1="1270.8" y1="585.0" x2="1283.8" y2="585.0" stroke="#000" stroke-width="4.2"/>
<line x1="1270.8" y1="444.6" x2="1283.8" y2="444.6" stroke="#000" stroke-width="4.2"/>
<line x1="1270.8" y1="304.2" x2="1283.8" y2="304.2" stroke="#000" stroke-width="4.2"/>
<line x1="1270.8" y1="163.8" x2="1283.8" y2="163.8" stroke="#000" stroke-width="4.2"/>
<line x1="1270.8" y1="23.4" x2="1283.8" y2="23.4" stroke="#000" stroke-width="4.2"/>
<line x1="1270.8" y1="514.8" x2="1278.5" y2="514.8" stroke="#000" stroke-width="4.2"/>
<line x1="1270.8" y1="374.4" x2="1278.5" y2="374.4" stroke="#000" stroke-width="4.2"/>
<line x1="1270.8" y1="234.0" x2="1278.5" y2="234.0" stroke="#000" stroke-width="4.2"/>
<line x1="1270.8" y1="93.6" x2="1278.5" y2="93.6" stroke="#000" stroke-width="4.2"/>
<clipPath id="c5"><rect x="1268.8" y="0" width="761.9" height="1408"/></clipPath>
<path clip-path="url(#c5)" d="M1262.1,8.6 L1268.8,13.0 L1270.7,14.3 L1272.6,15.5 L1274.5,16.7 L1276.3,18.0 L1278.3,19.2 L1280.3,20.6 L1282.6,22.1 L1285.0,23.8 L1289.9,27.1 L1295.5,31.1 L1301.5,35.4 L1308.0,40.0 L1314.7,44.7 L1321.5,49.5 L1328.3,54.2 L1335.0,58.8 L1342.3,63.5 L1349.8,68.3 L1357.6,73.1 L1365.4,77.9 L1373.1,82.6 L1380.7,87.3 L1388.1,91.9 L1395.0,96.2 L1400.5,99.8 L1405.8,103.3 L1411.0,106.7 L1416.1,110.1 L1421.0,113.4 L1425.8,116.6 L1430.5,119.6 L1435.0,122.5 L1438.4,124.6 L1441.6,126.7 L1444.7,128.6 L1447.8,130.5 L1450.8,132.3 L1453.8,134.1 L1456.9,135.8 L1460.0,137.5 L1463.1,139.1 L1466.2,140.6 L1469.3,142.1 L1472.4,143.6 L1475.5,144.9 L1478.7,146.3 L1481.8,147.5 L1485.0,148.8 L1488.1,149.9 L1491.3,151.0 L1494.4,152.0 L1497.6,153.0 L1500.8,153.9 L1503.9,154.7 L1507.0,155.5 L1510.0,156.2 L1512.6,156.8 L1515.2,157.4 L1517.7,157.8 L1520.2,158.3 L1522.7,158.7 L1525.1,159.0 L1527.6,159.3 L1530.0,159.5 L1532.3,159.7 L1534.6,159.8 L1536.9,159.9 L1539.2,159.9 L1541.4,159.9 L1543.6,159.9 L1545.6,159.7 L1547.5,159.5 L1548.8,159.3 L1550.0,159.0 L1551.2,158.7 L1552.3,158.4 L1553.4,158.0 L1554.5,157.6 L1555.6,157.2 L1556.6,156.8 L1557.6,156.4 L1558.5,155.9 L1559.5,155.2 L1560.4,154.6 L1561.3,154.1 L1562.2,153.7 L1562.9,153.6 L1563.6,153.6 L1564.3,154.1 L1564.9,154.8 L1565.4,155.8 L1565.9,156.9 L1566.3,158.1 L1566.7,159.4 L1567.1,160.7 L1567.5,162.0 L1568.0,163.4 L1568.4,164.9 L1568.8,166.5 L1569.2,168.1 L1569.5,169.7 L1569.9,171.4 L1570.3,173.1 L1570.7,174.7 L1571.1,176.6 L1571.6,178.5 L1572.0,180.4 L1572.5,182.3 L1573.0,184.2 L1573.5,186.2 L1574.0,188.1 L1574.5,190.1 L1575.1,192.1 L1575.7,194.2 L1576.3,196.3 L1576.9,198.4 L1577.6,200.5 L1578.2,202.6 L1578.9,204.7 L1579.6,206.7 L1580.3,208.7 L1581.1,210.7 L1581.8,212.6 L1582.6,214.6 L1583.4,216.5 L1584.2,218.4 L1585.1,220.3 L1586.0,222.0 L1586.9,223.6 L1587.8,225.2 L1588.7,226.7 L1589.7,228.1 L1590.7,229.6 L1591.7,230.9 L1592.7,232.3 L1593.7,233.5 L1594.6,234.7 L1595.5,235.8 L1596.4,236.8 L1597.4,237.9 L1598.3,238.9 L1599.3,239.8 L1600.3,240.5 L1601.4,241.2 L1602.3,241.6 L1603.3,241.9 L1604.4,242.1 L1605.4,242.3 L1606.5,242.4 L1607.4,242.5 L1608.3,242.8 L1609.0,243.1 L1609.5,243.4 L1609.8,243.8 L1610.2,244.1 L1610.5,244.5 L1610.7,244.9 L1611.0,245.3 L1611.3,245.8 L1611.6,246.3 L1612.1,247.2 L1612.5,248.2 L1612.9,249.4 L1613.4,250.6 L1613.8,251.8 L1614.3,253.0 L1614.8,254.2 L1615.4,255.3 L1616.1,256.4 L1616.9,257.6 L1617.7,258.7 L1618.5,259.9 L1619.4,261.0 L1620.2,262.0 L1621.1,262.9 L1621.8,263.6 L1622.2,263.9 L1622.7,264.2 L1623.1,264.4 L1623.5,264.6 L1623.9,264.7 L1624.3,264.9 L1624.6,265.2 L1625.0,265.5 L1625.4,266.0 L1625.8,266.5 L1626.2,267.1 L1626.6,267.7 L1626.9,268.4 L1627.3,269.1 L1627.7,269.8 L1628.2,270.6 L1629.1,271.9 L1630.1,273.3 L1631.2,274.8 L1632.3,276.4 L1633.5,278.1 L1634.7,279.8 L1636.0,281.6 L1637.1,283.4 L1638.6,285.7 L1640.2,288.2 L1641.7,290.8 L1643.3,293.5 L1644.9,296.2 L1646.5,298.9 L1648.1,301.6 L1649.7,304.2 L1651.3,306.8 L1652.9,309.5 L1654.5,312.2 L1656.1,314.9 L1657.7,317.6 L1659.2,320.2 L1660.8,322.7 L1662.3,325.0 L1663.4,326.8 L1664.7,328.6 L1665.9,330.3 L1667.1,332.0 L1668.2,333.6 L1669.3,335.1 L1670.3,336.5 L1671.2,337.8 L1671.7,338.6 L1672.1,339.3 L1672.5,340.0 L1672.8,340.7 L1673.2,341.3 L1673.6,341.9 L1674.0,342.4 L1674.4,342.9 L1674.8,343.2 L1675.1,343.5 L1675.5,343.7 L1675.9,343.8 L1676.3,344.0 L1676.7,344.2 L1677.2,344.5 L1677.6,344.8 L1678.3,345.5 L1679.2,346.4 L1680.0,347.4 L1680.9,348.5 L1681.7,349.7 L1682.5,350.8 L1683.3,352.0 L1684.0,353.1 L1684.6,354.2 L1685.1,355.4 L1685.6,356.6 L1686.0,357.8 L1686.5,359.0 L1686.9,360.2 L1687.3,361.2 L1687.8,362.1 L1688.1,362.6 L1688.4,363.1 L1688.7,363.5 L1688.9,363.9 L1689.2,364.3 L1689.6,364.6 L1689.9,365.0 L1690.4,365.3 L1691.1,365.6 L1692.0,365.9 L1692.9,366.0 L1694.0,366.1 L1695.0,366.3 L1696.1,366.5 L1697.1,366.8 L1698.0,367.2 L1699.1,367.9 L1700.1,368.6 L1701.1,369.5 L1702.0,370.5 L1703.0,371.6 L1703.9,372.6 L1704.8,373.7 L1705.7,374.9 L1706.7,376.1 L1707.7,377.5 L1708.7,378.8 L1709.7,380.3 L1710.7,381.7 L1711.6,383.2 L1712.5,384.8 L1713.4,386.4 L1714.3,388.1 L1715.2,390.0 L1716.0,391.9 L1716.8,393.8 L1717.6,395.8 L1718.3,397.7 L1719.1,399.7 L1719.8,401.7 L1720.5,403.7 L1721.2,405.8 L1721.8,407.9 L1722.5,410.0 L1723.1,412.1 L1723.7,414.2 L1724.3,416.3 L1724.9,418.3 L1725.4,420.3 L1725.9,422.2 L1726.4,424.2 L1726.9,426.1 L1727.4,428.0 L1727.8,429.9 L1728.3,431.8 L1728.7,433.7 L1729.1,435.3 L1729.5,437.0 L1729.9,438.7 L1730.2,440.3 L1730.6,441.9 L1731.0,443.5 L1731.4,445.0 L1731.9,446.4 L1732.3,447.7 L1732.7,449.0 L1733.1,450.3 L1733.5,451.5 L1734.0,452.6 L1734.5,453.6 L1735.1,454.3 L1735.8,454.8 L1736.5,454.8 L1737.2,454.7 L1738.1,454.3 L1739.0,453.8 L1739.9,453.2 L1740.9,452.5 L1741.8,452.0 L1742.8,451.6 L1743.8,451.2 L1744.9,450.8 L1746.0,450.4 L1747.1,450.0 L1748.2,449.7 L1749.4,449.4 L1750.6,449.1 L1751.9,448.9 L1753.8,448.7 L1755.8,448.5 L1758.0,448.5 L1760.2,448.5 L1762.5,448.5 L1764.8,448.6 L1767.1,448.7 L1769.4,448.9 L1771.8,449.1 L1774.3,449.4 L1776.7,449.7 L1779.2,450.1 L1781.7,450.6 L1784.2,451.0 L1786.8,451.6 L1789.4,452.1 L1792.4,452.9 L1795.5,453.7 L1798.6,454.5 L1801.8,455.4 L1805.0,456.4 L1808.1,457.4 L1811.3,458.5 L1814.4,459.6 L1817.6,460.9 L1820.7,462.1 L1823.9,463.5 L1827.0,464.8 L1830.1,466.3 L1833.2,467.8 L1836.3,469.3 L1839.4,470.9 L1842.5,472.6 L1845.6,474.3 L1848.6,476.1 L1851.6,477.9 L1854.7,479.8 L1857.8,481.7 L1861.0,483.8 L1864.4,485.9 L1868.9,488.8 L1873.6,491.8 L1878.4,495.0 L1883.3,498.3 L1888.4,501.7 L1893.6,505.1 L1898.9,508.6 L1904.4,512.1 L1911.3,516.5 L1918.7,521.1 L1926.3,525.8 L1934.0,530.5 L1941.8,535.3 L1949.6,540.1 L1957.1,544.9 L1964.4,549.7 L1971.1,554.2 L1977.9,558.9 L1984.7,563.7 L1991.4,568.4 L1997.9,573.0 L2003.9,577.3 L2009.5,581.3 L2014.4,584.6 L2016.8,586.3 L2019.1,587.8 L2021.1,589.2 L2023.1,590.4 L2024.9,591.7 L2026.8,592.9 L2028.7,594.1 L2030.7,595.4 L2037.3,599.8" fill="none" stroke="#000000" stroke-width="5.60" stroke-linejoin="round" stroke-linecap="butt"/>
<clipPath id="c6"><rect x="1395.0" y="0" width="509.4" height="1408"/></clipPath>
<path clip-path="url(#c6)" d="M1388.3,91.8 L1395.0,96.2 L1400.1,99.6 L1405.2,103.0 L1410.4,106.4 L1415.6,109.9 L1420.7,113.2 L1425.6,116.5 L1430.4,119.6 L1435.0,122.5 L1438.4,124.6 L1441.6,126.7 L1444.7,128.6 L1447.8,130.5 L1450.8,132.3 L1453.8,134.1 L1456.9,135.8 L1460.0,137.5 L1463.1,139.1 L1466.2,140.7 L1469.3,142.3 L1472.4,143.8 L1475.5,145.3 L1478.7,146.7 L1481.8,148.0 L1485.0,149.2 L1488.1,150.4 L1491.3,151.5 L1494.4,152.5 L1497.6,153.5 L1500.8,154.4 L1503.9,155.3 L1507.0,156.0 L1510.0,156.8 L1512.6,157.3 L1515.2,157.9 L1517.7,158.3 L1520.2,158.8 L1522.7,159.2 L1525.1,159.5 L1527.6,159.8 L1530.0,160.0 L1532.3,160.2 L1534.6,160.3 L1536.9,160.3 L1539.3,160.3 L1541.5,160.3 L1543.6,160.2 L1545.7,160.1 L1547.5,160.0 L1548.6,159.9 L1549.7,159.8 L1550.7,159.6 L1551.7,159.5 L1552.7,159.3 L1553.6,159.1 L1554.5,158.9 L1555.3,158.8 L1556.0,158.6 L1556.7,158.3 L1557.4,158.1 L1558.0,157.8 L1558.7,157.6 L1559.3,157.4 L1559.9,157.4 L1560.5,157.5 L1561.1,157.8 L1561.7,158.3 L1562.3,158.9 L1562.9,159.7 L1563.4,160.5 L1564.0,161.4 L1564.5,162.3 L1564.9,163.2 L1565.5,164.4 L1565.9,165.7 L1566.3,167.1 L1566.7,168.6 L1567.0,170.1 L1567.4,171.6 L1567.7,173.2 L1568.1,174.7 L1568.6,176.5 L1569.0,178.4 L1569.5,180.3 L1570.0,182.2 L1570.4,184.2 L1570.9,186.2 L1571.4,188.1 L1572.0,190.1 L1572.5,192.1 L1573.1,194.2 L1573.7,196.3 L1574.4,198.4 L1575.0,200.5 L1575.7,202.6 L1576.4,204.7 L1577.1,206.7 L1577.8,208.7 L1578.5,210.7 L1579.3,212.6 L1580.0,214.6 L1580.8,216.5 L1581.7,218.4 L1582.6,220.3 L1583.5,222.0 L1584.3,223.6 L1585.2,225.2 L1586.2,226.7 L1587.1,228.1 L1588.1,229.6 L1589.1,230.9 L1590.1,232.3 L1591.1,233.5 L1592.0,234.6 L1593.0,235.7 L1593.9,236.7 L1594.9,237.7 L1595.8,238.7 L1596.8,239.6 L1597.8,240.4 L1598.8,241.2 L1599.7,241.8 L1600.7,242.4 L1601.8,242.9 L1602.8,243.3 L1603.8,243.7 L1604.8,244.2 L1605.7,244.6 L1606.5,245.0 L1607.0,245.4 L1607.4,245.6 L1607.8,245.9 L1608.2,246.2 L1608.6,246.5 L1608.9,246.8 L1609.3,247.2 L1609.7,247.6 L1610.2,248.4 L1610.8,249.4 L1611.3,250.6 L1611.8,251.8 L1612.3,253.0 L1612.9,254.3 L1613.5,255.5 L1614.1,256.5 L1614.9,257.6 L1615.6,258.7 L1616.5,259.7 L1617.3,260.8 L1618.2,261.8 L1619.0,262.7 L1619.8,263.5 L1620.5,264.2 L1621.0,264.6 L1621.4,264.9 L1621.8,265.2 L1622.2,265.4 L1622.6,265.6 L1623.0,265.9 L1623.4,266.2 L1623.7,266.5 L1624.1,267.0 L1624.5,267.5 L1624.9,268.0 L1625.3,268.6 L1625.6,269.2 L1626.0,269.9 L1626.4,270.5 L1626.9,271.3 L1627.9,272.5 L1628.9,273.9 L1630.1,275.5 L1631.3,277.1 L1632.6,278.7 L1633.9,280.5 L1635.2,282.2 L1636.5,284.0 L1638.1,286.3 L1639.7,288.7 L1641.3,291.2 L1643.0,293.8 L1644.7,296.4 L1646.4,299.0 L1648.0,301.6 L1649.7,304.2 L1651.4,306.8 L1653.0,309.4 L1654.7,312.0 L1656.4,314.6 L1658.1,317.2 L1659.7,319.7 L1661.3,322.1 L1662.9,324.4 L1664.2,326.2 L1665.5,327.9 L1666.8,329.7 L1668.1,331.3 L1669.3,332.9 L1670.5,334.5 L1671.5,335.9 L1672.5,337.1 L1673.0,337.9 L1673.4,338.5 L1673.8,339.2 L1674.1,339.8 L1674.5,340.4 L1674.9,340.9 L1675.3,341.4 L1675.7,341.9 L1676.0,342.2 L1676.4,342.5 L1676.8,342.8 L1677.2,343.0 L1677.6,343.2 L1678.0,343.5 L1678.4,343.8 L1678.9,344.2 L1679.6,344.9 L1680.4,345.7 L1681.2,346.6 L1682.1,347.6 L1682.9,348.7 L1683.8,349.7 L1684.5,350.8 L1685.3,351.9 L1685.9,352.9 L1686.5,354.1 L1687.1,355.4 L1687.6,356.6 L1688.1,357.8 L1688.6,359.0 L1689.2,360.0 L1689.7,360.8 L1690.1,361.2 L1690.5,361.6 L1690.8,361.9 L1691.2,362.2 L1691.6,362.5 L1692.0,362.8 L1692.4,363.0 L1692.9,363.4 L1693.7,363.8 L1694.6,364.2 L1695.6,364.7 L1696.6,365.1 L1697.6,365.5 L1698.7,366.0 L1699.7,366.6 L1700.6,367.2 L1701.6,368.0 L1702.6,368.8 L1703.6,369.7 L1704.5,370.7 L1705.5,371.7 L1706.4,372.7 L1707.4,373.8 L1708.3,374.9 L1709.3,376.1 L1710.3,377.5 L1711.3,378.8 L1712.3,380.3 L1713.2,381.7 L1714.2,383.2 L1715.1,384.8 L1715.9,386.4 L1716.8,388.1 L1717.7,390.0 L1718.6,391.9 L1719.4,393.8 L1720.1,395.8 L1720.9,397.7 L1721.6,399.7 L1722.3,401.7 L1723.0,403.7 L1723.7,405.8 L1724.4,407.9 L1725.0,410.0 L1725.7,412.1 L1726.3,414.2 L1726.9,416.3 L1727.4,418.3 L1728.0,420.3 L1728.5,422.2 L1729.0,424.2 L1729.4,426.2 L1729.9,428.1 L1730.4,430.0 L1730.8,431.9 L1731.3,433.7 L1731.7,435.2 L1732.0,436.8 L1732.4,438.3 L1732.7,439.8 L1733.1,441.3 L1733.5,442.7 L1733.9,444.0 L1734.5,445.2 L1734.9,446.1 L1735.4,447.0 L1736.0,447.9 L1736.5,448.7 L1737.1,449.5 L1737.7,450.1 L1738.3,450.6 L1738.9,450.9 L1739.5,451.0 L1740.1,451.0 L1740.7,450.8 L1741.4,450.6 L1742.0,450.3 L1742.7,450.1 L1743.4,449.8 L1744.1,449.6 L1744.9,449.5 L1745.8,449.3 L1746.7,449.1 L1747.7,448.9 L1748.7,448.8 L1749.7,448.6 L1750.8,448.5 L1751.9,448.4 L1753.7,448.3 L1755.8,448.2 L1757.9,448.1 L1760.1,448.1 L1762.5,448.1 L1764.8,448.1 L1767.1,448.2 L1769.4,448.4 L1771.8,448.6 L1774.3,448.9 L1776.7,449.2 L1779.2,449.6 L1781.7,450.1 L1784.2,450.5 L1786.8,451.1 L1789.4,451.6 L1792.4,452.4 L1795.5,453.1 L1798.6,454.0 L1801.8,454.9 L1805.0,455.9 L1808.1,456.9 L1811.3,458.0 L1814.4,459.1 L1817.6,460.4 L1820.7,461.7 L1823.9,463.1 L1827.0,464.6 L1830.1,466.1 L1833.2,467.7 L1836.3,469.3 L1839.4,470.9 L1842.5,472.6 L1845.6,474.3 L1848.6,476.1 L1851.6,477.9 L1854.7,479.8 L1857.8,481.7 L1861.0,483.8 L1864.4,485.9 L1869.0,488.8 L1873.8,491.9 L1878.7,495.2 L1883.8,498.5 L1889.0,502.0 L1894.2,505.4 L1899.3,508.8 L1904.4,512.1 L1911.1,516.6" fill="none" stroke="#ff0000" stroke-width="5.60" stroke-linejoin="round" stroke-linecap="butt"/>
<clipPath id="c7"><rect x="1395.0" y="0" width="509.4" height="1408"/></clipPath>
<path clip-path="url(#c7)" d="M1388.0,125.4 L1395.0,129.2 L1396.8,130.3 L1398.7,131.3 L1400.4,132.3 L1402.2,133.3 L1404.1,134.3 L1406.0,135.3 L1407.9,136.4 L1410.0,137.5 L1412.8,139.0 L1415.8,140.5 L1418.9,142.1 L1422.1,143.8 L1425.3,145.4 L1428.6,147.0 L1431.8,148.5 L1435.0,150.0 L1438.1,151.4 L1441.2,152.7 L1444.3,154.0 L1447.4,155.3 L1450.6,156.6 L1453.7,157.8 L1456.8,158.9 L1460.0,160.0 L1463.1,161.0 L1466.2,162.0 L1469.3,163.0 L1472.4,163.9 L1475.6,164.8 L1478.7,165.6 L1481.9,166.3 L1485.0,167.0 L1488.1,167.6 L1491.3,168.2 L1494.5,168.7 L1497.6,169.1 L1500.8,169.5 L1503.9,169.9 L1507.0,170.2 L1510.0,170.5 L1512.6,170.7 L1515.3,170.9 L1517.9,171.1 L1520.4,171.2 L1522.9,171.3 L1525.4,171.4 L1527.7,171.5 L1530.0,171.5 L1531.8,171.5 L1533.5,171.6 L1535.3,171.7 L1536.9,171.7 L1538.5,171.7 L1540.0,171.6 L1541.3,171.4 L1542.5,171.0 L1543.2,170.7 L1543.7,170.2 L1544.2,169.8 L1544.6,169.3 L1545.0,168.7 L1545.5,168.2 L1545.9,167.6 L1546.4,167.1 L1547.1,166.3 L1547.8,165.3 L1548.6,164.2 L1549.4,163.1 L1550.2,162.1 L1550.9,161.3 L1551.6,160.8 L1552.1,160.7 L1552.6,160.9 L1553.0,161.4 L1553.3,162.1 L1553.6,163.0 L1553.9,164.0 L1554.1,165.1 L1554.4,166.1 L1554.7,167.1 L1555.1,168.3 L1555.5,169.7 L1555.9,171.1 L1556.3,172.5 L1556.7,174.0 L1557.1,175.5 L1557.5,177.0 L1557.9,178.6 L1558.4,180.4 L1558.9,182.3 L1559.5,184.2 L1560.0,186.1 L1560.6,188.1 L1561.2,190.0 L1561.8,192.0 L1562.4,193.9 L1563.0,195.8 L1563.6,197.8 L1564.2,199.7 L1564.8,201.7 L1565.4,203.6 L1566.0,205.5 L1566.7,207.4 L1567.5,209.3 L1568.3,211.1 L1569.1,212.9 L1569.9,214.7 L1570.8,216.5 L1571.7,218.2 L1572.6,220.0 L1573.6,221.7 L1574.5,223.3 L1575.4,224.8 L1576.3,226.4 L1577.2,227.8 L1578.2,229.3 L1579.1,230.7 L1580.1,232.1 L1581.1,233.5 L1582.2,234.8 L1583.2,236.1 L1584.3,237.3 L1585.5,238.5 L1586.6,239.7 L1587.8,240.8 L1588.9,241.9 L1590.0,242.9 L1591.1,243.8 L1591.9,244.4 L1592.7,245.0 L1593.5,245.6 L1594.3,246.1 L1595.1,246.6 L1595.9,247.0 L1596.7,247.4 L1597.5,247.6 L1598.3,247.7 L1599.2,247.6 L1600.1,247.4 L1600.9,247.2 L1601.8,246.9 L1602.6,246.8 L1603.3,246.8 L1603.9,247.0 L1604.4,247.3 L1604.7,247.7 L1605.1,248.2 L1605.3,248.8 L1605.6,249.4 L1605.8,250.1 L1606.1,250.8 L1606.5,251.4 L1607.0,252.4 L1607.6,253.5 L1608.2,254.6 L1608.9,255.8 L1609.5,257.0 L1610.2,258.2 L1610.9,259.3 L1611.6,260.4 L1612.2,261.3 L1612.8,262.1 L1613.4,262.9 L1614.0,263.7 L1614.7,264.4 L1615.3,265.2 L1616.0,266.0 L1616.7,266.8 L1617.6,267.7 L1618.4,268.6 L1619.3,269.5 L1620.3,270.5 L1621.3,271.4 L1622.3,272.4 L1623.3,273.4 L1624.4,274.4 L1625.8,275.9 L1627.4,277.3 L1629.0,278.9 L1630.6,280.5 L1632.3,282.1 L1634.0,283.8 L1635.6,285.5 L1637.1,287.2 L1638.8,289.2 L1640.4,291.2 L1642.0,293.4 L1643.5,295.5 L1645.1,297.7 L1646.6,299.9 L1648.1,302.1 L1649.7,304.2 L1651.3,306.3 L1652.8,308.5 L1654.3,310.7 L1655.9,312.9 L1657.4,315.0 L1659.0,317.2 L1660.6,319.2 L1662.3,321.2 L1663.8,322.9 L1665.4,324.6 L1667.1,326.3 L1668.8,327.9 L1670.4,329.5 L1672.0,331.1 L1673.6,332.5 L1675.0,334.0 L1676.1,335.0 L1677.1,336.0 L1678.1,337.0 L1679.1,337.9 L1680.1,338.9 L1681.0,339.8 L1681.8,340.7 L1682.7,341.6 L1683.4,342.4 L1684.1,343.2 L1684.7,344.0 L1685.4,344.7 L1686.0,345.5 L1686.6,346.3 L1687.2,347.1 L1687.8,348.0 L1688.5,349.1 L1689.2,350.2 L1689.9,351.4 L1690.5,352.6 L1691.2,353.8 L1691.8,354.9 L1692.4,356.0 L1692.9,357.0 L1693.3,357.6 L1693.6,358.3 L1693.8,359.0 L1694.1,359.6 L1694.3,360.2 L1694.7,360.7 L1695.0,361.1 L1695.5,361.4 L1696.1,361.6 L1696.8,361.6 L1697.6,361.5 L1698.5,361.2 L1699.3,361.0 L1700.2,360.8 L1701.1,360.7 L1701.9,360.8 L1702.7,361.0 L1703.5,361.4 L1704.3,361.8 L1705.1,362.3 L1705.9,362.8 L1706.7,363.4 L1707.5,364.0 L1708.3,364.6 L1709.4,365.5 L1710.5,366.5 L1711.6,367.6 L1712.8,368.7 L1713.9,369.9 L1715.1,371.1 L1716.2,372.3 L1717.2,373.6 L1718.3,374.9 L1719.3,376.3 L1720.3,377.7 L1721.2,379.1 L1722.2,380.6 L1723.1,382.0 L1724.0,383.6 L1724.9,385.1 L1725.8,386.7 L1726.8,388.4 L1727.7,390.2 L1728.6,391.9 L1729.5,393.7 L1730.3,395.5 L1731.1,397.3 L1731.9,399.1 L1732.7,401.0 L1733.4,402.9 L1734.0,404.8 L1734.6,406.7 L1735.2,408.7 L1735.8,410.6 L1736.4,412.6 L1737.0,414.5 L1737.6,416.4 L1738.2,418.4 L1738.8,420.3 L1739.4,422.3 L1739.9,424.2 L1740.5,426.1 L1741.0,428.0 L1741.5,429.8 L1741.9,431.4 L1742.3,432.9 L1742.7,434.4 L1743.1,435.9 L1743.5,437.3 L1743.9,438.7 L1744.3,440.1 L1744.7,441.3 L1745.0,442.3 L1745.3,443.3 L1745.5,444.4 L1745.8,445.4 L1746.1,446.3 L1746.4,447.0 L1746.8,447.5 L1747.3,447.7 L1747.8,447.6 L1748.5,447.1 L1749.2,446.3 L1750.0,445.3 L1750.8,444.2 L1751.6,443.1 L1752.3,442.1 L1753.0,441.3 L1753.5,440.8 L1753.9,440.2 L1754.4,439.7 L1754.8,439.1 L1755.2,438.6 L1755.7,438.2 L1756.2,437.7 L1756.9,437.4 L1758.1,437.0 L1759.4,436.8 L1760.9,436.7 L1762.5,436.7 L1764.1,436.7 L1765.9,436.8 L1767.6,436.9 L1769.4,436.9 L1771.7,436.9 L1774.0,437.0 L1776.5,437.1 L1779.0,437.2 L1781.5,437.3 L1784.1,437.5 L1786.8,437.7 L1789.4,437.9 L1792.4,438.2 L1795.5,438.5 L1798.6,438.9 L1801.8,439.3 L1804.9,439.7 L1808.1,440.2 L1811.3,440.8 L1814.4,441.4 L1817.5,442.1 L1820.7,442.8 L1823.8,443.6 L1827.0,444.5 L1830.1,445.4 L1833.2,446.4 L1836.3,447.4 L1839.4,448.4 L1842.6,449.5 L1845.7,450.6 L1848.8,451.8 L1852.0,453.1 L1855.1,454.4 L1858.2,455.7 L1861.3,457.0 L1864.4,458.4 L1867.6,459.9 L1870.8,461.4 L1874.1,463.0 L1877.3,464.6 L1880.5,466.3 L1883.6,467.9 L1886.6,469.4 L1889.4,470.9 L1891.5,472.0 L1893.4,473.1 L1895.3,474.1 L1897.2,475.1 L1899.0,476.1 L1900.7,477.1 L1902.6,478.1 L1904.4,479.1 L1911.4,483.0" fill="none" stroke="#ff8000" stroke-width="5.60" stroke-linejoin="round" stroke-linecap="butt"/>
<clipPath id="c8"><rect x="1331.8" y="0" width="635.9" height="1408"/></clipPath>
<path clip-path="url(#c8)" d="M1324.2,119.3 L1331.8,122.0 L1335.3,123.3 L1338.9,124.6 L1342.4,125.9 L1346.0,127.2 L1349.6,128.5 L1353.1,129.8 L1356.6,131.1 L1360.0,132.5 L1363.2,133.8 L1366.4,135.2 L1369.5,136.6 L1372.6,138.0 L1375.7,139.5 L1378.8,140.9 L1381.9,142.3 L1385.0,143.8 L1388.1,145.2 L1391.2,146.6 L1394.4,148.0 L1397.5,149.4 L1400.6,150.8 L1403.8,152.2 L1406.9,153.6 L1410.0,155.0 L1413.1,156.4 L1416.2,157.9 L1419.4,159.3 L1422.5,160.8 L1425.6,162.2 L1428.7,163.6 L1431.9,165.0 L1435.0,166.2 L1438.1,167.5 L1441.2,168.7 L1444.3,169.9 L1447.4,171.1 L1450.6,172.2 L1453.7,173.2 L1456.8,174.2 L1460.0,175.0 L1463.1,175.7 L1466.4,176.3 L1469.6,176.9 L1472.9,177.4 L1476.1,177.8 L1479.2,178.1 L1482.2,178.5 L1485.0,178.8 L1487.1,179.0 L1489.1,179.2 L1491.0,179.3 L1492.9,179.5 L1494.8,179.6 L1496.6,179.6 L1498.3,179.6 L1500.0,179.5 L1501.4,179.4 L1502.7,179.3 L1504.0,179.1 L1505.3,178.9 L1506.5,178.7 L1507.7,178.4 L1508.9,178.0 L1510.0,177.5 L1511.1,176.9 L1512.1,176.3 L1513.1,175.6 L1514.1,174.8 L1515.0,174.0 L1515.9,173.1 L1516.7,172.2 L1517.5,171.2 L1518.2,170.2 L1518.9,169.1 L1519.5,167.9 L1520.1,166.6 L1520.6,165.4 L1521.2,164.3 L1521.8,163.3 L1522.5,162.5 L1523.0,162.0 L1523.6,161.5 L1524.2,161.0 L1524.8,160.6 L1525.3,160.3 L1525.9,160.1 L1526.5,160.0 L1527.0,160.0 L1527.6,160.3 L1528.2,160.8 L1528.7,161.5 L1529.2,162.3 L1529.8,163.2 L1530.3,164.2 L1530.8,165.3 L1531.2,166.2 L1531.9,167.7 L1532.5,169.2 L1533.1,170.9 L1533.7,172.7 L1534.3,174.5 L1534.9,176.3 L1535.6,178.2 L1536.2,180.0 L1537.1,182.1 L1538.1,184.3 L1539.0,186.6 L1540.0,188.9 L1541.0,191.1 L1542.0,193.4 L1543.0,195.6 L1543.8,197.7 L1544.5,199.6 L1545.2,201.4 L1545.8,203.1 L1546.3,204.9 L1546.9,206.6 L1547.5,208.4 L1548.2,210.1 L1548.9,211.8 L1549.8,213.6 L1550.7,215.4 L1551.6,217.2 L1552.5,219.0 L1553.5,220.8 L1554.5,222.5 L1555.6,224.2 L1556.6,225.9 L1557.7,227.4 L1558.7,229.0 L1559.8,230.5 L1560.9,231.9 L1562.1,233.4 L1563.2,234.8 L1564.4,236.1 L1565.6,237.4 L1566.6,238.5 L1567.7,239.6 L1568.8,240.6 L1569.9,241.6 L1571.1,242.5 L1572.2,243.4 L1573.3,244.3 L1574.5,245.0 L1575.6,245.7 L1576.7,246.3 L1577.8,246.9 L1579.0,247.5 L1580.1,247.9 L1581.2,248.3 L1582.4,248.7 L1583.5,248.9 L1584.5,248.9 L1585.5,248.8 L1586.5,248.7 L1587.5,248.4 L1588.5,248.2 L1589.5,248.1 L1590.3,248.1 L1591.1,248.2 L1591.7,248.6 L1592.3,249.0 L1592.8,249.5 L1593.2,250.1 L1593.6,250.7 L1594.1,251.4 L1594.5,252.1 L1595.0,252.7 L1595.6,253.6 L1596.2,254.5 L1596.8,255.4 L1597.4,256.4 L1598.1,257.4 L1598.7,258.4 L1599.4,259.4 L1600.1,260.4 L1600.8,261.4 L1601.6,262.4 L1602.3,263.5 L1603.1,264.6 L1603.9,265.6 L1604.7,266.5 L1605.6,267.3 L1606.5,268.1 L1607.2,268.5 L1608.1,268.9 L1608.9,269.1 L1609.8,269.4 L1610.6,269.6 L1611.4,269.9 L1612.2,270.2 L1612.9,270.6 L1613.4,271.1 L1614.0,271.7 L1614.4,272.4 L1614.9,273.0 L1615.3,273.7 L1615.7,274.4 L1616.2,275.1 L1616.7,275.7 L1617.3,276.4 L1617.9,277.0 L1618.5,277.7 L1619.1,278.3 L1619.8,278.9 L1620.4,279.5 L1621.1,280.2 L1621.8,280.8 L1622.7,281.6 L1623.6,282.4 L1624.5,283.2 L1625.5,283.9 L1626.5,284.7 L1627.4,285.5 L1628.5,286.4 L1629.5,287.2 L1630.7,288.3 L1631.9,289.4 L1633.2,290.5 L1634.5,291.6 L1635.8,292.8 L1637.1,294.0 L1638.4,295.1 L1639.7,296.2 L1641.0,297.2 L1642.2,298.2 L1643.4,299.2 L1644.7,300.2 L1645.9,301.2 L1647.2,302.2 L1648.5,303.2 L1649.7,304.2 L1650.9,305.2 L1652.2,306.2 L1653.5,307.2 L1654.7,308.2 L1656.0,309.2 L1657.2,310.2 L1658.4,311.2 L1659.7,312.2 L1661.0,313.3 L1662.3,314.4 L1663.6,315.6 L1664.9,316.8 L1666.2,317.9 L1667.5,319.0 L1668.7,320.1 L1669.9,321.2 L1670.9,322.0 L1672.0,322.9 L1672.9,323.7 L1673.9,324.5 L1674.9,325.2 L1675.8,326.0 L1676.7,326.8 L1677.6,327.6 L1678.3,328.2 L1679.0,328.9 L1679.6,329.5 L1680.3,330.1 L1680.9,330.7 L1681.5,331.4 L1682.1,332.0 L1682.7,332.7 L1683.2,333.3 L1683.7,334.0 L1684.1,334.7 L1684.5,335.4 L1685.0,336.0 L1685.4,336.7 L1686.0,337.3 L1686.5,337.8 L1687.2,338.2 L1688.0,338.5 L1688.8,338.8 L1689.6,339.0 L1690.5,339.3 L1691.3,339.5 L1692.2,339.9 L1692.9,340.3 L1693.8,341.1 L1694.7,341.9 L1695.5,342.8 L1696.3,343.8 L1697.1,344.9 L1697.8,346.0 L1698.6,347.0 L1699.3,348.0 L1700.0,349.0 L1700.7,350.0 L1701.3,351.0 L1702.0,352.0 L1702.6,353.0 L1703.2,353.9 L1703.8,354.8 L1704.4,355.7 L1704.9,356.3 L1705.3,357.0 L1705.8,357.7 L1706.2,358.3 L1706.6,358.9 L1707.1,359.4 L1707.7,359.8 L1708.3,360.2 L1709.1,360.3 L1709.9,360.3 L1710.9,360.2 L1711.9,360.0 L1712.9,359.7 L1713.9,359.6 L1714.9,359.5 L1715.9,359.5 L1717.0,359.7 L1718.2,360.1 L1719.3,360.5 L1720.4,360.9 L1721.6,361.5 L1722.7,362.1 L1723.8,362.7 L1724.9,363.4 L1726.1,364.1 L1727.2,365.0 L1728.3,365.9 L1729.5,366.8 L1730.6,367.8 L1731.7,368.8 L1732.8,369.9 L1733.8,371.0 L1735.0,372.3 L1736.2,373.6 L1737.3,375.0 L1738.5,376.5 L1739.6,377.9 L1740.7,379.4 L1741.7,381.0 L1742.8,382.5 L1743.8,384.2 L1744.9,385.9 L1745.9,387.6 L1746.9,389.4 L1747.8,391.2 L1748.7,393.0 L1749.6,394.8 L1750.5,396.6 L1751.2,398.3 L1751.9,400.0 L1752.5,401.8 L1753.1,403.5 L1753.6,405.3 L1754.2,407.0 L1754.9,408.8 L1755.6,410.7 L1756.4,412.8 L1757.4,415.0 L1758.4,417.3 L1759.4,419.5 L1760.4,421.8 L1761.3,424.1 L1762.3,426.3 L1763.2,428.4 L1763.8,430.2 L1764.5,432.1 L1765.1,433.9 L1765.7,435.7 L1766.3,437.5 L1766.9,439.2 L1767.5,440.7 L1768.2,442.1 L1768.6,443.1 L1769.1,444.2 L1769.6,445.2 L1770.2,446.1 L1770.7,446.9 L1771.2,447.6 L1771.8,448.1 L1772.4,448.4 L1772.9,448.4 L1773.5,448.3 L1774.1,448.1 L1774.6,447.8 L1775.2,447.4 L1775.8,446.9 L1776.4,446.4 L1776.9,445.9 L1777.6,445.1 L1778.2,444.1 L1778.8,443.0 L1779.3,441.8 L1779.9,440.5 L1780.5,439.3 L1781.2,438.2 L1781.9,437.1 L1782.7,436.2 L1783.5,435.3 L1784.4,434.4 L1785.3,433.6 L1786.3,432.8 L1787.3,432.1 L1788.3,431.5 L1789.4,430.9 L1790.5,430.4 L1791.7,430.0 L1792.9,429.7 L1794.1,429.5 L1795.4,429.3 L1796.7,429.1 L1798.0,429.0 L1799.4,428.9 L1801.1,428.8 L1802.8,428.8 L1804.6,428.8 L1806.5,428.9 L1808.4,429.1 L1810.3,429.2 L1812.3,429.4 L1814.4,429.6 L1817.2,429.9 L1820.2,430.3 L1823.3,430.6 L1826.5,431.0 L1829.8,431.5 L1833.0,432.1 L1836.3,432.7 L1839.4,433.4 L1842.6,434.2 L1845.7,435.2 L1848.8,436.2 L1852.0,437.3 L1855.1,438.5 L1858.2,439.7 L1861.3,440.9 L1864.4,442.1 L1867.5,443.4 L1870.7,444.8 L1873.8,446.2 L1876.9,447.6 L1880.0,449.1 L1883.2,450.5 L1886.3,452.0 L1889.4,453.4 L1892.5,454.8 L1895.7,456.2 L1898.8,457.6 L1901.9,459.0 L1905.0,460.4 L1908.2,461.8 L1911.3,463.2 L1914.4,464.6 L1917.5,466.1 L1920.6,467.5 L1923.7,468.9 L1926.8,470.4 L1929.9,471.8 L1933.0,473.2 L1936.2,474.6 L1939.4,475.9 L1942.8,477.3 L1946.3,478.6 L1949.8,479.9 L1953.4,481.2 L1957.0,482.5 L1960.5,483.8 L1964.1,485.1 L1967.7,486.4 L1975.2,489.1" fill="none" stroke="#00ff00" stroke-width="5.60" stroke-linejoin="round" stroke-linecap="butt"/>
<clipPath id="c9"><rect x="1268.8" y="0" width="737.0" height="1408"/></clipPath>
<path clip-path="url(#c9)" d="M1260.9,154.9 L1268.8,156.2 L1272.3,156.9 L1275.8,157.5 L1279.4,158.1 L1282.9,158.7 L1286.4,159.4 L1290.0,160.0 L1293.7,160.6 L1297.5,161.2 L1301.9,162.0 L1306.5,162.7 L1311.2,163.5 L1315.9,164.2 L1320.7,165.0 L1325.5,165.7 L1330.3,166.4 L1335.0,167.0 L1339.7,167.6 L1344.4,168.2 L1349.1,168.8 L1353.7,169.3 L1358.4,169.8 L1363.1,170.3 L1367.8,170.8 L1372.5,171.2 L1377.2,171.7 L1382.0,172.0 L1386.7,172.4 L1391.5,172.7 L1396.2,173.0 L1400.9,173.3 L1405.5,173.5 L1410.0,173.8 L1414.0,173.9 L1417.9,174.1 L1421.8,174.3 L1425.7,174.4 L1429.5,174.5 L1433.1,174.6 L1436.7,174.6 L1440.0,174.5 L1442.5,174.3 L1445.0,173.9 L1447.4,173.5 L1449.8,173.0 L1452.0,172.7 L1454.1,172.5 L1455.9,172.6 L1457.5,173.0 L1458.4,173.5 L1459.2,174.2 L1459.9,175.0 L1460.4,175.9 L1461.0,176.8 L1461.5,177.9 L1462.0,178.9 L1462.5,180.0 L1463.2,181.6 L1463.9,183.3 L1464.5,185.1 L1465.0,187.0 L1465.6,188.9 L1466.2,191.0 L1466.8,193.0 L1467.5,195.0 L1468.3,197.4 L1469.2,199.8 L1470.2,202.4 L1471.1,204.9 L1472.1,207.5 L1473.1,210.0 L1474.0,212.6 L1475.0,215.0 L1475.9,217.3 L1476.8,219.6 L1477.7,221.9 L1478.6,224.2 L1479.5,226.4 L1480.5,228.6 L1481.5,230.6 L1482.5,232.5 L1483.4,234.0 L1484.2,235.4 L1485.1,236.8 L1486.1,238.1 L1487.0,239.4 L1488.0,240.5 L1489.0,241.6 L1490.0,242.5 L1490.9,243.2 L1491.7,243.8 L1492.6,244.4 L1493.5,244.9 L1494.5,245.3 L1495.4,245.7 L1496.4,246.0 L1497.5,246.3 L1498.9,246.4 L1500.3,246.4 L1501.9,246.2 L1503.4,246.0 L1505.1,245.7 L1506.7,245.5 L1508.4,245.2 L1510.0,245.0 L1511.8,244.8 L1513.7,244.6 L1515.5,244.4 L1517.4,244.2 L1519.3,244.0 L1521.2,243.8 L1523.1,243.8 L1525.0,243.8 L1526.9,243.8 L1528.9,243.9 L1530.9,244.1 L1532.8,244.3 L1534.8,244.5 L1536.6,244.8 L1538.4,245.2 L1540.0,245.5 L1541.1,245.8 L1542.2,246.1 L1543.2,246.4 L1544.1,246.8 L1545.0,247.1 L1545.9,247.5 L1546.8,247.9 L1547.7,248.2 L1548.4,248.5 L1549.1,248.8 L1549.7,249.1 L1550.4,249.3 L1551.0,249.6 L1551.6,250.0 L1552.2,250.4 L1552.8,250.8 L1553.4,251.4 L1553.9,252.0 L1554.4,252.7 L1554.8,253.4 L1555.3,254.1 L1555.7,254.9 L1556.2,255.7 L1556.6,256.5 L1557.2,257.6 L1557.7,258.7 L1558.3,259.8 L1558.8,261.0 L1559.4,262.2 L1559.9,263.3 L1560.5,264.5 L1561.1,265.5 L1561.6,266.4 L1562.1,267.3 L1562.7,268.2 L1563.2,269.1 L1563.8,269.9 L1564.3,270.6 L1564.9,271.3 L1565.6,271.9 L1566.1,272.3 L1566.6,272.6 L1567.2,273.0 L1567.7,273.2 L1568.3,273.5 L1568.9,273.6 L1569.4,273.8 L1570.0,273.8 L1570.7,273.8 L1571.4,273.6 L1572.1,273.4 L1572.8,273.1 L1573.6,272.7 L1574.3,272.4 L1575.0,272.1 L1575.8,271.9 L1576.6,271.7 L1577.4,271.4 L1578.2,271.2 L1579.1,270.9 L1579.9,270.7 L1580.7,270.6 L1581.5,270.5 L1582.2,270.6 L1582.7,270.8 L1583.2,271.0 L1583.7,271.2 L1584.2,271.6 L1584.7,271.9 L1585.1,272.3 L1585.6,272.7 L1586.0,273.2 L1586.6,273.8 L1587.2,274.6 L1587.7,275.4 L1588.2,276.3 L1588.8,277.2 L1589.3,278.0 L1589.9,278.8 L1590.5,279.6 L1591.0,280.1 L1591.5,280.7 L1592.1,281.3 L1592.6,281.8 L1593.1,282.3 L1593.7,282.8 L1594.3,283.1 L1595.0,283.4 L1595.7,283.5 L1596.5,283.5 L1597.3,283.3 L1598.2,283.1 L1599.0,282.9 L1599.9,282.7 L1600.7,282.7 L1601.4,282.8 L1601.9,283.0 L1602.4,283.3 L1602.9,283.7 L1603.4,284.1 L1603.8,284.6 L1604.3,285.1 L1604.7,285.5 L1605.2,286.0 L1605.7,286.4 L1606.1,286.8 L1606.5,287.2 L1607.0,287.6 L1607.5,288.0 L1607.9,288.4 L1608.5,288.8 L1609.0,289.1 L1609.8,289.6 L1610.7,290.0 L1611.6,290.4 L1612.6,290.8 L1613.6,291.1 L1614.6,291.5 L1615.7,291.9 L1616.7,292.3 L1617.9,292.9 L1619.1,293.4 L1620.4,294.0 L1621.6,294.6 L1622.9,295.1 L1624.2,295.7 L1625.6,296.3 L1626.9,296.8 L1628.5,297.4 L1630.0,298.0 L1631.7,298.6 L1633.3,299.2 L1635.0,299.7 L1636.6,300.3 L1638.2,300.8 L1639.7,301.3 L1641.0,301.7 L1642.3,302.1 L1643.5,302.5 L1644.8,302.8 L1646.0,303.2 L1647.2,303.5 L1648.5,303.8 L1649.7,304.2 L1650.9,304.6 L1652.2,304.9 L1653.4,305.2 L1654.6,305.6 L1655.9,305.9 L1657.1,306.3 L1658.4,306.7 L1659.7,307.1 L1661.2,307.6 L1662.8,308.1 L1664.4,308.7 L1666.1,309.2 L1667.7,309.8 L1669.4,310.4 L1670.9,311.0 L1672.5,311.6 L1673.8,312.1 L1675.2,312.7 L1676.5,313.3 L1677.8,313.8 L1679.0,314.4 L1680.3,315.0 L1681.5,315.5 L1682.7,316.1 L1683.7,316.5 L1684.8,316.9 L1685.8,317.3 L1686.8,317.6 L1687.8,318.0 L1688.7,318.4 L1689.6,318.8 L1690.4,319.3 L1690.9,319.6 L1691.5,320.0 L1691.9,320.4 L1692.4,320.8 L1692.9,321.2 L1693.3,321.6 L1693.7,322.0 L1694.2,322.4 L1694.7,322.9 L1695.1,323.3 L1695.6,323.8 L1696.0,324.3 L1696.5,324.7 L1697.0,325.1 L1697.5,325.4 L1698.0,325.6 L1698.7,325.7 L1699.5,325.7 L1700.4,325.5 L1701.2,325.3 L1702.1,325.1 L1702.9,324.9 L1703.7,324.9 L1704.4,325.0 L1705.1,325.3 L1705.7,325.6 L1706.3,326.1 L1706.8,326.6 L1707.3,327.1 L1707.9,327.7 L1708.4,328.3 L1708.9,328.8 L1709.5,329.6 L1710.1,330.4 L1710.6,331.2 L1711.2,332.1 L1711.7,333.0 L1712.2,333.8 L1712.8,334.6 L1713.4,335.2 L1713.8,335.7 L1714.3,336.1 L1714.7,336.5 L1715.2,336.8 L1715.7,337.2 L1716.2,337.4 L1716.7,337.6 L1717.2,337.8 L1717.9,337.9 L1718.7,337.8 L1719.5,337.7 L1720.3,337.5 L1721.2,337.2 L1722.0,337.0 L1722.8,336.7 L1723.6,336.5 L1724.4,336.3 L1725.1,336.0 L1725.8,335.7 L1726.6,335.3 L1727.3,335.0 L1728.0,334.8 L1728.7,334.6 L1729.4,334.6 L1730.0,334.6 L1730.5,334.8 L1731.1,334.9 L1731.7,335.2 L1732.2,335.4 L1732.8,335.8 L1733.3,336.1 L1733.8,336.5 L1734.5,337.1 L1735.1,337.8 L1735.6,338.5 L1736.2,339.3 L1736.7,340.2 L1737.3,341.1 L1737.8,342.0 L1738.3,342.9 L1738.9,343.9 L1739.5,345.1 L1740.0,346.2 L1740.6,347.4 L1741.1,348.6 L1741.7,349.7 L1742.2,350.8 L1742.8,351.9 L1743.2,352.7 L1743.7,353.5 L1744.1,354.3 L1744.6,355.0 L1745.0,355.7 L1745.5,356.4 L1746.0,357.0 L1746.6,357.6 L1747.2,358.0 L1747.8,358.4 L1748.4,358.8 L1749.0,359.1 L1749.7,359.3 L1750.3,359.6 L1751.0,359.9 L1751.7,360.2 L1752.6,360.5 L1753.5,360.9 L1754.4,361.3 L1755.3,361.6 L1756.2,362.0 L1757.2,362.3 L1758.3,362.6 L1759.4,362.9 L1761.0,363.2 L1762.8,363.6 L1764.6,363.9 L1766.6,364.1 L1768.5,364.3 L1770.5,364.5 L1772.5,364.6 L1774.4,364.6 L1776.3,364.6 L1778.2,364.6 L1780.1,364.4 L1782.0,364.2 L1783.9,364.0 L1785.7,363.8 L1787.6,363.6 L1789.4,363.4 L1791.0,363.2 L1792.7,362.9 L1794.3,362.7 L1796.0,362.4 L1797.5,362.2 L1799.1,362.0 L1800.5,362.0 L1801.9,362.1 L1803.0,362.4 L1804.0,362.7 L1804.9,363.1 L1805.9,363.5 L1806.8,364.0 L1807.7,364.6 L1808.5,365.2 L1809.4,365.9 L1810.4,366.8 L1811.4,367.9 L1812.4,369.0 L1813.3,370.3 L1814.3,371.6 L1815.2,373.0 L1816.0,374.4 L1816.9,375.9 L1817.9,377.8 L1818.9,379.8 L1819.9,382.0 L1820.8,384.2 L1821.7,386.5 L1822.6,388.8 L1823.5,391.1 L1824.4,393.4 L1825.4,395.8 L1826.3,398.4 L1827.3,400.9 L1828.3,403.5 L1829.2,406.0 L1830.2,408.6 L1831.1,411.0 L1831.9,413.4 L1832.6,415.4 L1833.2,417.4 L1833.8,419.5 L1834.4,421.4 L1834.9,423.3 L1835.5,425.1 L1836.2,426.8 L1836.9,428.4 L1837.4,429.5 L1837.9,430.5 L1838.4,431.6 L1839.0,432.5 L1839.5,433.4 L1840.2,434.2 L1841.0,434.9 L1841.9,435.4 L1843.5,435.8 L1845.3,435.9 L1847.4,435.7 L1849.6,435.4 L1852.0,434.9 L1854.4,434.5 L1856.9,434.1 L1859.4,433.9 L1862.7,433.8 L1866.3,433.8 L1869.9,433.9 L1873.7,434.0 L1877.6,434.1 L1881.5,434.3 L1885.4,434.5 L1889.4,434.6 L1893.9,434.9 L1898.5,435.1 L1903.2,435.4 L1907.9,435.7 L1912.7,436.0 L1917.4,436.4 L1922.2,436.7 L1926.9,437.1 L1931.6,437.6 L1936.3,438.1 L1941.0,438.6 L1945.7,439.1 L1950.3,439.6 L1955.0,440.2 L1959.7,440.8 L1964.4,441.4 L1969.1,442.0 L1973.9,442.7 L1978.7,443.4 L1983.5,444.2 L1988.2,444.9 L1992.9,445.7 L1997.5,446.4 L2001.9,447.1 L2005.7,447.8 L2013.6,449.1" fill="none" stroke="#0000ff" stroke-width="5.60" stroke-linejoin="round" stroke-linecap="butt"/>
<line x1="1270.1" y1="165.6" x2="1757.0" y2="165.6" stroke="#000" stroke-width="4.1" stroke-dasharray="20.6 18.20"/>
<line x1="1541.0" y1="440.6" x2="2028.0" y2="440.6" stroke="#000" stroke-width="4.1" stroke-dasharray="20.6 18.37"/>
<text x="1270.8" y="627.2" font-size="44.0" text-anchor="middle" letter-spacing="-1">-6</text>
<text x="1460.2" y="627.2" font-size="44.0" text-anchor="middle" letter-spacing="-1">-3</text>
<text x="1649.7" y="627.2" font-size="44.0" text-anchor="middle" letter-spacing="-1">0</text>
<text x="1839.2" y="627.2" font-size="44.0" text-anchor="middle" letter-spacing="-1">3</text>
<text x="2028.6" y="627.2" font-size="44.0" text-anchor="middle" letter-spacing="-1">6</text>
<text x="1260.8" y="596.7" font-size="44.0" text-anchor="end" letter-spacing="-1">-16</text>
<text x="1260.8" y="456.3" font-size="44.0" text-anchor="end" letter-spacing="-1">-8</text>
<text x="1260.8" y="315.9" font-size="44.0" text-anchor="end" letter-spacing="-1">0</text>
<text x="1260.8" y="175.5" font-size="44.0" text-anchor="end" letter-spacing="-1">8</text>
<text x="1260.8" y="35.1" font-size="44.0" text-anchor="end" letter-spacing="-1">16</text>
<text y="671.8" font-size="44"><tspan x="1610.8" font-style="italic">B</tspan><tspan x="1646.8">(</tspan><tspan x="1661.0">T</tspan><tspan x="1686.0">)</tspan></text>
<g transform="translate(1169.5,375.0) rotate(-90)">
<text font-size="44" y="0"><tspan x="3" font-style="italic" font-family="Liberation Serif, serif" font-size="47">ρ</tspan><tspan x="21 33" dy="12" font-size="26" font-style="italic">xy</tspan><tspan dy="-12" x="54.5 69 101 125.5 131 152 190">(mΩ·cm)</tspan></text>
</g>
<text x="1073.4" y="55.5" font-size="73.5" font-weight="bold" stroke-width="0">b</text>
<text font-size="37.5" letter-spacing="-1.3"><tspan x="1841.8" y="60.9">S # 4</tspan><tspan x="1841.8" y="102.4">From z to y</tspan><tspan x="1842.8" y="143.9"><tspan font-style="italic">T</tspan> = 1.5K</tspan></text>
<line x1="1840.2" y1="182.0" x2="1921.7" y2="182.0" stroke="#000000" stroke-width="6.3"/>
<text x="1947.0" y="192.8" font-size="37.5" letter-spacing="-1.3">0<tspan dy="-17.5" font-size="21.5">0</tspan></text>
<line x1="1840.2" y1="231.0" x2="1921.7" y2="231.0" stroke="#ff0000" stroke-width="6.3"/>
<text x="1929.0" y="241.8" font-size="37.5" letter-spacing="-1.3">15<tspan dy="-17.5" font-size="21.5">0</tspan></text>
<line x1="1840.2" y1="280.0" x2="1921.7" y2="280.0" stroke="#ff8000" stroke-width="6.3"/>
<text x="1929.0" y="290.8" font-size="37.5" letter-spacing="-1.3">30<tspan dy="-17.5" font-size="21.5">0</tspan></text>
<line x1="1840.2" y1="329.0" x2="1921.7" y2="329.0" stroke="#00ff00" stroke-width="6.3"/>
<text x="1929.0" y="339.8" font-size="37.5" letter-spacing="-1.3">45<tspan dy="-17.5" font-size="21.5">0</tspan></text>
<line x1="1840.2" y1="378.0" x2="1921.7" y2="378.0" stroke="#0000ff" stroke-width="6.3"/>
<text x="1929.0" y="388.8" font-size="37.5" letter-spacing="-1.3">60<tspan dy="-17.5" font-size="21.5">0</tspan></text>
</g>
<g>
<clipPath id="c10"><rect x="162.5" y="0" width="732.2" height="1408"/></clipPath>
<path clip-path="url(#c10)" d="M155.9,756.0 L162.5,760.5 L164.3,761.7 L166.2,762.9 L168.0,764.2 L169.8,765.4 L171.6,766.6 L173.5,767.8 L175.4,769.1 L177.5,770.5 L180.3,772.3 L183.2,774.2 L186.2,776.2 L189.3,778.2 L192.4,780.2 L195.7,782.3 L199.1,784.4 L202.5,786.5 L206.8,789.1 L211.3,791.9 L215.9,794.8 L220.7,797.7 L225.5,800.5 L230.4,803.3 L235.2,806.0 L240.0,808.5 L244.6,810.8 L249.3,813.0 L253.9,815.1 L258.6,817.1 L263.3,819.0 L268.1,820.9 L272.8,822.7 L277.5,824.5 L282.2,826.2 L287.0,827.7 L291.9,829.2 L296.7,830.6 L301.5,832.1 L306.2,833.5 L310.7,835.0 L315.0,836.5 L318.4,837.8 L321.6,839.1 L324.7,840.4 L327.8,841.7 L330.8,843.0 L333.8,844.4 L336.8,845.9 L340.0,847.5 L343.7,849.4 L347.4,851.5 L351.1,853.6 L354.9,855.8 L358.7,858.1 L362.5,860.4 L366.3,862.7 L370.0,865.0 L373.8,867.4 L377.6,869.8 L381.4,872.3 L385.3,874.8 L389.0,877.3 L392.7,879.7 L396.3,882.1 L399.8,884.2 L402.4,885.9 L405.0,887.4 L407.5,888.9 L409.9,890.4 L412.4,891.8 L414.8,893.3 L417.2,894.8 L419.8,896.5 L422.7,898.6 L425.7,900.8 L428.8,903.2 L431.8,905.7 L434.9,908.0 L437.7,910.3 L440.4,912.3 L442.8,914.1 L444.0,915.0 L445.2,915.9 L446.2,916.7 L447.3,917.4 L448.3,918.1 L449.3,918.7 L450.5,919.3 L451.7,919.8 L453.5,920.4 L455.4,920.9 L457.4,921.3 L459.5,921.6 L461.6,921.8 L463.7,922.0 L465.7,922.0 L467.6,921.8 L469.4,921.6 L471.1,921.2 L472.8,920.6 L474.5,920.0 L476.1,919.4 L477.7,918.7 L479.2,918.1 L480.6,917.5 L481.6,916.9 L482.6,916.3 L483.5,915.7 L484.4,915.0 L485.3,914.5 L486.1,914.1 L486.8,913.8 L487.5,913.9 L488.1,914.2 L488.7,914.6 L489.2,915.3 L489.6,916.1 L490.0,916.9 L490.4,917.9 L490.8,918.9 L491.1,919.8 L491.5,921.4 L491.9,923.2 L492.1,925.1 L492.3,927.1 L492.4,929.2 L492.6,931.4 L492.8,933.6 L493.1,935.8 L493.5,938.4 L493.9,941.1 L494.4,943.9 L494.9,946.7 L495.4,949.6 L495.9,952.3 L496.5,955.1 L497.1,957.6 L497.6,959.8 L498.1,962.0 L498.7,964.2 L499.2,966.3 L499.8,968.3 L500.5,970.3 L501.2,972.0 L502.0,973.5 L502.7,974.5 L503.4,975.4 L504.2,976.2 L504.9,976.9 L505.7,977.6 L506.5,978.2 L507.3,978.9 L508.0,979.5 L508.6,980.0 L509.2,980.5 L509.9,980.9 L510.5,981.4 L511.1,981.8 L511.6,982.3 L512.1,982.9 L512.6,983.5 L513.1,984.5 L513.5,985.6 L513.8,986.7 L514.1,988.0 L514.4,989.3 L514.7,990.7 L515.0,992.1 L515.4,993.4 L516.0,995.2 L516.6,997.1 L517.2,999.1 L517.9,1001.1 L518.7,1003.1 L519.4,1005.2 L520.2,1007.3 L520.9,1009.4 L521.8,1011.7 L522.8,1014.2 L523.7,1016.6 L524.7,1019.1 L525.7,1021.7 L526.7,1024.2 L527.6,1026.7 L528.6,1029.2 L529.6,1031.7 L530.5,1034.2 L531.5,1036.7 L532.5,1039.3 L533.5,1041.8 L534.4,1044.2 L535.4,1046.7 L536.3,1049.0 L537.0,1051.1 L537.8,1053.2 L538.5,1055.3 L539.3,1057.3 L540.0,1059.3 L540.6,1061.3 L541.2,1063.2 L541.8,1065.0 L542.2,1066.3 L542.5,1067.7 L542.8,1069.1 L543.1,1070.4 L543.4,1071.7 L543.7,1072.8 L544.1,1073.9 L544.6,1074.9 L545.1,1075.5 L545.6,1076.1 L546.1,1076.6 L546.7,1077.0 L547.3,1077.5 L548.0,1077.9 L548.6,1078.4 L549.2,1078.9 L549.9,1079.5 L550.7,1080.2 L551.5,1080.8 L552.3,1081.5 L553.0,1082.2 L553.8,1083.0 L554.5,1083.9 L555.2,1084.9 L556.0,1086.4 L556.7,1088.1 L557.4,1090.1 L558.0,1092.1 L558.5,1094.2 L559.1,1096.4 L559.6,1098.6 L560.1,1100.8 L560.7,1103.3 L561.3,1106.1 L561.8,1108.8 L562.3,1111.7 L562.8,1114.5 L563.3,1117.3 L563.7,1120.0 L564.1,1122.6 L564.4,1124.8 L564.6,1127.0 L564.8,1129.2 L564.9,1131.3 L565.1,1133.3 L565.3,1135.2 L565.7,1137.0 L566.1,1138.6 L566.4,1139.5 L566.8,1140.5 L567.2,1141.5 L567.6,1142.3 L568.0,1143.1 L568.5,1143.8 L569.1,1144.2 L569.7,1144.5 L570.4,1144.6 L571.1,1144.3 L571.9,1143.9 L572.8,1143.4 L573.7,1142.7 L574.6,1142.1 L575.6,1141.5 L576.6,1140.9 L578.0,1140.3 L579.5,1139.7 L581.1,1139.0 L582.7,1138.4 L584.4,1137.8 L586.1,1137.2 L587.8,1136.8 L589.6,1136.6 L591.5,1136.4 L593.5,1136.4 L595.6,1136.6 L597.7,1136.8 L599.8,1137.1 L601.8,1137.5 L603.7,1138.0 L605.5,1138.6 L606.7,1139.1 L607.9,1139.7 L608.9,1140.3 L609.9,1141.0 L611.0,1141.7 L612.0,1142.5 L613.2,1143.4 L614.4,1144.3 L616.8,1146.1 L619.5,1148.1 L622.3,1150.4 L625.4,1152.7 L628.4,1155.2 L631.5,1157.6 L634.5,1159.8 L637.5,1161.9 L640.0,1163.6 L642.4,1165.1 L644.8,1166.6 L647.3,1168.0 L649.7,1169.5 L652.2,1171.0 L654.8,1172.5 L657.5,1174.2 L660.9,1176.3 L664.5,1178.7 L668.2,1181.1 L671.9,1183.6 L675.8,1186.1 L679.6,1188.6 L683.4,1191.0 L687.2,1193.4 L690.9,1195.7 L694.7,1198.0 L698.5,1200.3 L702.3,1202.6 L706.1,1204.8 L709.8,1206.9 L713.5,1209.0 L717.2,1210.9 L720.4,1212.5 L723.4,1214.0 L726.4,1215.4 L729.4,1216.7 L732.5,1218.0 L735.6,1219.3 L738.8,1220.6 L742.2,1221.9 L746.5,1223.4 L751.0,1224.9 L755.7,1226.3 L760.5,1227.8 L765.3,1229.2 L770.2,1230.7 L775.0,1232.2 L779.7,1233.9 L784.4,1235.7 L789.1,1237.5 L793.9,1239.4 L798.6,1241.3 L803.3,1243.3 L807.9,1245.4 L812.6,1247.6 L817.2,1249.9 L822.0,1252.4 L826.8,1255.1 L831.7,1257.9 L836.5,1260.7 L841.3,1263.6 L845.9,1266.5 L850.4,1269.3 L854.7,1271.9 L858.1,1274.0 L861.5,1276.1 L864.8,1278.2 L867.9,1280.2 L871.0,1282.2 L874.0,1284.2 L876.9,1286.1 L879.7,1287.9 L881.8,1289.3 L883.7,1290.6 L885.6,1291.8 L887.4,1293.0 L889.2,1294.2 L891.0,1295.5 L892.9,1296.7 L894.7,1297.9 L901.3,1302.4" fill="none" stroke="#000000" stroke-width="8.50" stroke-linejoin="round" stroke-linecap="butt"/>
<polygon points="432.0,886.3 432.4,900.5 439.0,904.0" fill="#000000"/>
<polygon points="625.2,1172.1 624.8,1157.9 618.2,1154.4" fill="#000000"/>
<polygon points="510.0,981.1 513.6,974.7 514.8,984.3" fill="#000000"/>
<polygon points="547.2,1077.3 543.6,1083.7 542.4,1074.1" fill="#000000"/>
<clipPath id="c11"><rect x="162.5" y="0" width="732.2" height="1408"/></clipPath>
<path clip-path="url(#c11)" d="M155.6,762.3 L162.5,766.2 L164.4,767.3 L166.2,768.4 L168.0,769.4 L169.8,770.4 L171.6,771.5 L173.5,772.6 L175.5,773.8 L177.5,775.0 L180.3,776.8 L183.2,778.6 L186.2,780.6 L189.2,782.7 L192.4,784.8 L195.7,786.9 L199.1,789.0 L202.5,791.0 L206.8,793.4 L211.3,795.9 L215.9,798.4 L220.7,800.9 L225.5,803.3 L230.4,805.7 L235.2,808.0 L240.0,810.2 L244.6,812.3 L249.3,814.3 L254.0,816.3 L258.7,818.2 L263.4,820.0 L268.1,821.8 L272.8,823.5 L277.5,825.2 L282.2,826.9 L287.0,828.5 L291.9,830.0 L296.7,831.5 L301.5,833.0 L306.2,834.4 L310.7,836.0 L315.0,837.5 L318.4,838.8 L321.6,840.0 L324.7,841.3 L327.8,842.6 L330.8,843.9 L333.8,845.2 L336.8,846.7 L340.0,848.2 L343.7,850.2 L347.4,852.2 L351.1,854.3 L354.9,856.6 L358.7,858.8 L362.5,861.1 L366.3,863.5 L370.0,865.8 L373.8,868.1 L377.6,870.5 L381.4,873.0 L385.3,875.4 L389.0,877.9 L392.7,880.3 L396.3,882.6 L399.8,884.8 L402.4,886.4 L405.0,888.0 L407.5,889.5 L409.9,891.0 L412.3,892.5 L414.8,894.0 L417.2,895.6 L419.8,897.2 L422.6,899.2 L425.7,901.4 L428.8,903.6 L431.8,905.8 L434.9,908.0 L437.7,910.1 L440.4,912.0 L442.8,913.7 L444.1,914.6 L445.2,915.5 L446.3,916.3 L447.3,917.0 L448.3,917.8 L449.3,918.4 L450.5,919.0 L451.7,919.4 L453.5,919.9 L455.4,920.2 L457.4,920.5 L459.5,920.6 L461.6,920.6 L463.7,920.6 L465.7,920.4 L467.6,920.2 L469.3,920.0 L470.9,919.6 L472.6,919.2 L474.2,918.6 L475.7,918.1 L477.2,917.5 L478.6,917.0 L480.0,916.5 L480.9,916.0 L481.8,915.5 L482.7,914.9 L483.6,914.3 L484.4,913.8 L485.2,913.4 L485.9,913.2 L486.5,913.3 L487.1,913.6 L487.6,914.1 L488.1,914.9 L488.5,915.7 L488.9,916.7 L489.3,917.7 L489.6,918.8 L489.9,919.8 L490.3,921.5 L490.6,923.2 L490.9,925.2 L491.1,927.2 L491.2,929.3 L491.4,931.4 L491.6,933.6 L491.9,935.8 L492.3,938.4 L492.7,941.1 L493.2,943.9 L493.7,946.7 L494.2,949.6 L494.7,952.3 L495.3,955.1 L495.9,957.6 L496.4,959.8 L496.9,962.0 L497.5,964.2 L498.0,966.3 L498.6,968.3 L499.3,970.3 L500.0,972.0 L500.9,973.5 L501.5,974.5 L502.2,975.4 L503.0,976.2 L503.7,976.9 L504.5,977.6 L505.3,978.2 L506.1,978.9 L506.8,979.5 L507.4,980.0 L508.1,980.5 L508.7,980.9 L509.4,981.4 L510.0,981.8 L510.6,982.3 L511.1,982.8 L511.6,983.5 L512.1,984.5 L512.6,985.5 L512.9,986.7 L513.2,988.0 L513.5,989.3 L513.8,990.7 L514.2,992.1 L514.6,993.4 L515.2,995.2 L515.8,997.1 L516.5,999.1 L517.2,1001.1 L518.0,1003.1 L518.8,1005.2 L519.5,1007.3 L520.4,1009.4 L521.3,1011.7 L522.3,1014.2 L523.3,1016.6 L524.4,1019.2 L525.4,1021.7 L526.5,1024.2 L527.6,1026.7 L528.6,1029.2 L529.6,1031.7 L530.7,1034.2 L531.8,1036.7 L532.8,1039.2 L533.9,1041.8 L534.9,1044.2 L535.9,1046.7 L536.8,1049.0 L537.7,1051.1 L538.4,1053.2 L539.2,1055.3 L540.0,1057.3 L540.7,1059.3 L541.4,1061.3 L542.0,1063.2 L542.6,1065.0 L543.0,1066.3 L543.4,1067.7 L543.7,1069.1 L544.0,1070.4 L544.3,1071.7 L544.6,1072.9 L545.1,1073.9 L545.6,1074.9 L546.1,1075.6 L546.6,1076.1 L547.2,1076.6 L547.8,1077.0 L548.5,1077.5 L549.1,1077.9 L549.8,1078.4 L550.4,1078.9 L551.1,1079.5 L551.9,1080.2 L552.7,1080.8 L553.5,1081.5 L554.2,1082.2 L555.0,1083.0 L555.7,1083.9 L556.3,1084.9 L557.2,1086.4 L557.9,1088.1 L558.6,1090.1 L559.2,1092.1 L559.7,1094.2 L560.3,1096.4 L560.8,1098.6 L561.3,1100.8 L561.9,1103.3 L562.5,1106.1 L563.0,1108.8 L563.5,1111.7 L564.0,1114.5 L564.5,1117.3 L564.9,1120.0 L565.3,1122.6 L565.6,1124.8 L565.8,1127.0 L566.0,1129.1 L566.1,1131.2 L566.3,1133.2 L566.6,1135.2 L566.9,1136.9 L567.3,1138.6 L567.6,1139.6 L567.9,1140.7 L568.3,1141.7 L568.7,1142.7 L569.1,1143.5 L569.6,1144.3 L570.1,1144.8 L570.7,1145.1 L571.3,1145.2 L572.0,1145.0 L572.8,1144.6 L573.6,1144.1 L574.5,1143.5 L575.4,1142.9 L576.3,1142.4 L577.2,1141.9 L578.6,1141.4 L580.0,1140.9 L581.5,1140.3 L583.0,1139.8 L584.6,1139.2 L586.3,1138.8 L587.9,1138.4 L589.6,1138.2 L591.5,1138.0 L593.5,1137.8 L595.6,1137.8 L597.7,1137.8 L599.8,1137.9 L601.8,1138.2 L603.7,1138.5 L605.5,1139.0 L606.7,1139.4 L607.9,1140.0 L608.9,1140.6 L609.9,1141.4 L610.9,1142.1 L612.0,1142.9 L613.1,1143.8 L614.4,1144.7 L616.8,1146.4 L619.5,1148.3 L622.3,1150.4 L625.4,1152.6 L628.4,1154.8 L631.5,1157.0 L634.6,1159.2 L637.5,1161.2 L640.0,1162.8 L642.4,1164.4 L644.9,1165.9 L647.3,1167.4 L649.7,1168.9 L652.2,1170.4 L654.8,1172.0 L657.5,1173.7 L660.9,1175.8 L664.5,1178.1 L668.2,1180.5 L671.9,1183.0 L675.8,1185.4 L679.6,1187.9 L683.4,1190.3 L687.2,1192.7 L690.9,1194.9 L694.7,1197.3 L698.5,1199.6 L702.3,1201.8 L706.1,1204.1 L709.8,1206.2 L713.5,1208.2 L717.2,1210.2 L720.4,1211.7 L723.4,1213.2 L726.4,1214.5 L729.4,1215.8 L732.5,1217.1 L735.6,1218.4 L738.8,1219.6 L742.2,1220.9 L746.5,1222.4 L751.0,1224.0 L755.7,1225.4 L760.5,1226.9 L765.3,1228.4 L770.2,1229.9 L775.0,1231.5 L779.7,1233.2 L784.4,1234.9 L789.1,1236.6 L793.8,1238.4 L798.5,1240.2 L803.2,1242.1 L807.9,1244.1 L812.6,1246.1 L817.2,1248.2 L822.0,1250.4 L826.8,1252.7 L831.7,1255.1 L836.5,1257.5 L841.3,1260.0 L845.9,1262.5 L850.4,1265.0 L854.7,1267.4 L858.1,1269.4 L861.5,1271.5 L864.8,1273.6 L868.0,1275.7 L871.0,1277.8 L874.0,1279.8 L876.9,1281.6 L879.7,1283.4 L881.7,1284.6 L883.7,1285.8 L885.6,1286.9 L887.4,1288.0 L889.2,1289.0 L891.0,1290.0 L892.8,1291.1 L894.7,1292.2 L901.6,1296.1" fill="none" stroke="#ff0000" stroke-width="8.50" stroke-linejoin="round" stroke-linecap="butt"/>
<clipPath id="c12"><rect x="162.5" y="0" width="732.2" height="1408"/></clipPath>
<path clip-path="url(#c12)" d="M155.1,780.7 L162.5,783.8 L164.4,784.5 L166.2,785.2 L168.0,786.0 L169.8,786.7 L171.6,787.4 L173.5,788.2 L175.5,789.1 L177.5,790.0 L180.3,791.3 L183.2,792.8 L186.2,794.4 L189.3,796.0 L192.4,797.7 L195.7,799.3 L199.1,800.9 L202.5,802.5 L206.8,804.3 L211.3,806.1 L215.9,807.8 L220.7,809.5 L225.6,811.2 L230.4,812.9 L235.2,814.6 L240.0,816.2 L244.7,817.9 L249.4,819.4 L254.1,821.0 L258.7,822.5 L263.4,824.1 L268.1,825.6 L272.8,827.2 L277.5,828.8 L282.2,830.4 L287.1,832.0 L291.9,833.6 L296.8,835.3 L301.5,836.9 L306.2,838.6 L310.7,840.3 L315.0,842.0 L318.4,843.4 L321.6,844.8 L324.7,846.2 L327.8,847.6 L330.8,849.0 L333.8,850.5 L336.8,852.1 L340.0,853.8 L343.7,855.8 L347.4,858.0 L351.1,860.3 L354.9,862.7 L358.7,865.1 L362.5,867.5 L366.2,869.9 L370.0,872.2 L373.8,874.5 L377.6,876.9 L381.4,879.2 L385.2,881.5 L389.0,883.8 L392.7,886.0 L396.3,888.2 L399.8,890.2 L402.4,891.9 L405.0,893.5 L407.5,895.1 L409.9,896.6 L412.3,898.1 L414.7,899.6 L417.2,901.1 L419.8,902.5 L422.6,904.0 L425.6,905.4 L428.7,906.8 L431.8,908.2 L434.9,909.6 L437.7,910.9 L440.4,912.2 L442.8,913.5 L444.1,914.3 L445.3,915.1 L446.3,916.0 L447.3,916.8 L448.3,917.6 L449.3,918.3 L450.5,918.9 L451.7,919.4 L453.5,919.9 L455.4,920.2 L457.4,920.4 L459.5,920.4 L461.6,920.4 L463.7,920.3 L465.7,920.1 L467.6,919.8 L469.3,919.5 L470.9,919.1 L472.5,918.7 L474.0,918.1 L475.5,917.5 L476.9,917.0 L478.3,916.4 L479.6,915.9 L480.4,915.4 L481.3,914.9 L482.1,914.3 L482.9,913.8 L483.6,913.3 L484.3,913.0 L485.0,912.8 L485.5,912.9 L486.1,913.2 L486.6,913.8 L487.0,914.6 L487.3,915.5 L487.7,916.5 L488.0,917.6 L488.2,918.7 L488.5,919.8 L488.9,921.5 L489.2,923.3 L489.4,925.2 L489.6,927.2 L489.8,929.3 L490.0,931.4 L490.2,933.6 L490.5,935.8 L490.9,938.4 L491.3,941.1 L491.8,943.9 L492.3,946.7 L492.8,949.6 L493.3,952.3 L493.9,955.1 L494.5,957.6 L495.0,959.8 L495.5,962.0 L496.1,964.2 L496.6,966.3 L497.2,968.3 L497.9,970.3 L498.6,972.0 L499.5,973.5 L500.1,974.5 L500.8,975.4 L501.6,976.2 L502.3,976.9 L503.1,977.6 L503.9,978.2 L504.7,978.9 L505.4,979.5 L506.1,980.0 L506.7,980.5 L507.4,980.9 L508.1,981.4 L508.7,981.8 L509.3,982.3 L509.9,982.8 L510.4,983.5 L510.9,984.5 L511.4,985.5 L511.7,986.7 L512.0,988.0 L512.3,989.3 L512.6,990.7 L513.0,992.1 L513.4,993.4 L514.0,995.2 L514.7,997.1 L515.4,999.1 L516.1,1001.1 L516.9,1003.1 L517.7,1005.2 L518.5,1007.3 L519.4,1009.4 L520.4,1011.7 L521.5,1014.2 L522.6,1016.7 L523.8,1019.2 L525.0,1021.7 L526.2,1024.2 L527.4,1026.7 L528.6,1029.2 L529.8,1031.7 L531.0,1034.2 L532.2,1036.7 L533.4,1039.2 L534.6,1041.7 L535.7,1044.2 L536.8,1046.7 L537.8,1049.0 L538.7,1051.1 L539.5,1053.2 L540.3,1055.3 L541.1,1057.3 L541.8,1059.3 L542.5,1061.3 L543.2,1063.2 L543.8,1065.0 L544.2,1066.3 L544.6,1067.7 L544.9,1069.1 L545.2,1070.4 L545.5,1071.7 L545.8,1072.9 L546.3,1073.9 L546.8,1074.9 L547.3,1075.6 L547.9,1076.1 L548.5,1076.6 L549.1,1077.0 L549.8,1077.5 L550.5,1077.9 L551.1,1078.4 L551.8,1078.9 L552.5,1079.5 L553.3,1080.2 L554.1,1080.8 L554.9,1081.5 L555.6,1082.2 L556.4,1083.0 L557.1,1083.9 L557.7,1084.9 L558.6,1086.4 L559.3,1088.1 L560.0,1090.1 L560.6,1092.1 L561.1,1094.2 L561.7,1096.4 L562.2,1098.6 L562.7,1100.8 L563.3,1103.3 L563.9,1106.1 L564.4,1108.8 L564.9,1111.7 L565.4,1114.5 L565.9,1117.3 L566.3,1120.0 L566.7,1122.6 L567.0,1124.8 L567.2,1127.0 L567.4,1129.1 L567.6,1131.2 L567.8,1133.2 L568.0,1135.1 L568.3,1136.9 L568.7,1138.6 L569.0,1139.7 L569.2,1140.8 L569.5,1141.9 L569.9,1142.9 L570.2,1143.8 L570.6,1144.6 L571.1,1145.2 L571.7,1145.5 L572.2,1145.6 L572.9,1145.4 L573.6,1145.1 L574.3,1144.6 L575.1,1144.1 L575.9,1143.5 L576.8,1143.0 L577.6,1142.5 L578.9,1142.0 L580.3,1141.4 L581.7,1140.9 L583.2,1140.3 L584.7,1139.7 L586.3,1139.3 L587.9,1138.9 L589.6,1138.6 L591.5,1138.3 L593.5,1138.1 L595.6,1138.0 L597.7,1138.0 L599.8,1138.0 L601.8,1138.2 L603.7,1138.5 L605.5,1139.0 L606.7,1139.5 L607.9,1140.1 L608.9,1140.8 L609.9,1141.6 L610.9,1142.4 L611.9,1143.3 L613.1,1144.1 L614.4,1144.9 L616.8,1146.2 L619.5,1147.5 L622.3,1148.8 L625.4,1150.2 L628.5,1151.6 L631.6,1153.0 L634.6,1154.4 L637.5,1155.9 L640.0,1157.3 L642.5,1158.8 L644.9,1160.3 L647.3,1161.8 L649.7,1163.3 L652.2,1164.9 L654.8,1166.5 L657.5,1168.2 L660.9,1170.2 L664.5,1172.4 L668.2,1174.6 L672.0,1176.9 L675.8,1179.2 L679.6,1181.5 L683.4,1183.9 L687.2,1186.2 L691.0,1188.5 L694.7,1190.9 L698.5,1193.3 L702.3,1195.7 L706.1,1198.1 L709.8,1200.4 L713.5,1202.6 L717.2,1204.7 L720.4,1206.3 L723.4,1207.9 L726.4,1209.4 L729.4,1210.8 L732.5,1212.2 L735.6,1213.6 L738.8,1215.0 L742.2,1216.4 L746.5,1218.1 L751.0,1219.8 L755.7,1221.5 L760.4,1223.1 L765.3,1224.8 L770.1,1226.4 L775.0,1228.0 L779.7,1229.7 L784.4,1231.2 L789.1,1232.8 L793.8,1234.3 L798.5,1235.9 L803.1,1237.4 L807.8,1239.0 L812.5,1240.5 L817.2,1242.2 L822.0,1243.8 L826.8,1245.5 L831.6,1247.2 L836.5,1248.9 L841.3,1250.6 L845.9,1252.3 L850.4,1254.1 L854.7,1255.9 L858.1,1257.5 L861.5,1259.1 L864.8,1260.7 L867.9,1262.4 L871.0,1264.0 L874.0,1265.6 L876.9,1267.1 L879.7,1268.4 L881.7,1269.3 L883.7,1270.2 L885.6,1271.0 L887.4,1271.7 L889.2,1272.4 L891.0,1273.2 L892.8,1273.9 L894.7,1274.7 L902.1,1277.7" fill="none" stroke="#ff8000" stroke-width="8.50" stroke-linejoin="round" stroke-linecap="butt"/>
<clipPath id="c13"><rect x="175.0" y="0" width="707.2" height="1408"/></clipPath>
<path clip-path="url(#c13)" d="M167.3,833.0 L175.0,835.0 L178.4,835.9 L181.8,836.8 L185.1,837.7 L188.5,838.6 L191.9,839.5 L195.3,840.4 L198.9,841.4 L202.5,842.5 L206.9,843.9 L211.5,845.3 L216.2,846.8 L220.9,848.4 L225.7,850.1 L230.5,851.7 L235.3,853.4 L240.0,855.0 L244.7,856.7 L249.4,858.3 L254.1,860.0 L258.8,861.7 L263.5,863.5 L268.1,865.2 L272.8,867.0 L277.5,868.8 L282.2,870.6 L287.1,872.5 L291.9,874.4 L296.7,876.4 L301.5,878.3 L306.2,880.2 L310.7,882.0 L315.0,883.8 L318.4,885.1 L321.6,886.4 L324.7,887.7 L327.8,889.0 L330.8,890.2 L333.8,891.4 L336.9,892.6 L340.0,893.8 L343.1,894.9 L346.2,896.0 L349.3,897.1 L352.5,898.1 L355.6,899.1 L358.7,900.1 L361.9,901.1 L365.0,902.0 L368.1,902.9 L371.2,903.7 L374.3,904.5 L377.5,905.3 L380.6,906.0 L383.7,906.7 L386.9,907.4 L390.0,908.0 L393.2,908.6 L396.7,909.1 L400.2,909.7 L403.7,910.1 L407.0,910.6 L410.1,910.9 L412.8,911.1 L415.0,911.2 L415.8,911.3 L416.4,911.2 L417.0,911.2 L417.5,911.1 L418.0,911.1 L418.5,911.0 L419.1,910.9 L419.9,910.9 L421.8,910.8 L424.0,910.7 L426.6,910.5 L429.3,910.4 L432.1,910.2 L434.9,910.1 L437.4,910.0 L439.8,909.9 L441.4,909.8 L443.1,909.8 L444.7,909.7 L446.2,909.6 L447.7,909.6 L449.1,909.6 L450.4,909.5 L451.7,909.5 L452.6,909.4 L453.4,909.3 L454.3,909.2 L455.1,909.1 L455.8,909.1 L456.5,909.1 L457.1,909.2 L457.7,909.5 L458.1,910.0 L458.5,910.6 L458.8,911.3 L459.0,912.1 L459.1,913.0 L459.3,913.9 L459.5,914.9 L459.7,915.9 L460.0,917.3 L460.4,918.9 L460.8,920.6 L461.1,922.3 L461.5,924.1 L461.9,926.0 L462.3,927.9 L462.7,929.8 L463.1,932.1 L463.6,934.6 L464.1,937.1 L464.5,939.7 L465.0,942.2 L465.5,944.8 L466.1,947.3 L466.6,949.7 L467.2,951.8 L467.7,953.9 L468.3,956.0 L468.9,958.1 L469.5,960.1 L470.1,962.0 L470.9,963.9 L471.6,965.6 L472.3,966.9 L472.9,968.2 L473.6,969.5 L474.3,970.7 L475.0,971.8 L475.8,972.8 L476.7,973.7 L477.6,974.5 L478.5,975.1 L479.4,975.6 L480.4,976.0 L481.4,976.3 L482.4,976.6 L483.5,976.9 L484.5,977.2 L485.5,977.5 L486.6,977.9 L487.6,978.1 L488.7,978.4 L489.8,978.7 L490.8,979.0 L491.8,979.4 L492.7,979.9 L493.5,980.5 L494.3,981.5 L494.8,982.7 L495.3,984.1 L495.7,985.6 L496.0,987.2 L496.4,988.7 L496.9,990.1 L497.5,991.5 L498.1,992.5 L498.8,993.6 L499.5,994.6 L500.3,995.5 L501.0,996.5 L501.8,997.4 L502.6,998.4 L503.4,999.4 L504.4,1000.6 L505.3,1001.8 L506.3,1003.1 L507.3,1004.3 L508.4,1005.6 L509.4,1006.8 L510.4,1008.1 L511.4,1009.4 L512.4,1010.6 L513.4,1011.9 L514.3,1013.1 L515.3,1014.3 L516.3,1015.6 L517.3,1016.8 L518.3,1018.1 L519.4,1019.3 L520.5,1020.6 L521.6,1021.8 L522.7,1023.0 L523.9,1024.3 L525.1,1025.5 L526.3,1026.7 L527.4,1028.0 L528.6,1029.2 L529.8,1030.4 L530.9,1031.7 L532.1,1032.9 L533.3,1034.1 L534.5,1035.4 L535.6,1036.6 L536.7,1037.8 L537.8,1039.1 L538.9,1040.3 L539.9,1041.6 L540.9,1042.8 L541.9,1044.1 L542.9,1045.3 L543.8,1046.5 L544.8,1047.8 L545.8,1049.0 L546.8,1050.3 L547.8,1051.6 L548.8,1052.8 L549.9,1054.1 L550.9,1055.3 L551.9,1056.6 L552.8,1057.8 L553.8,1059.0 L554.6,1060.0 L555.4,1061.0 L556.2,1061.9 L556.9,1062.9 L557.7,1063.8 L558.4,1064.8 L559.1,1065.9 L559.7,1066.9 L560.3,1068.3 L560.8,1069.7 L561.2,1071.2 L561.5,1072.8 L561.9,1074.3 L562.4,1075.7 L562.9,1076.9 L563.7,1077.9 L564.5,1078.5 L565.4,1079.0 L566.4,1079.4 L567.4,1079.7 L568.5,1080.0 L569.6,1080.3 L570.6,1080.5 L571.7,1080.9 L572.7,1081.2 L573.7,1081.5 L574.8,1081.8 L575.8,1082.1 L576.8,1082.4 L577.8,1082.8 L578.7,1083.3 L579.6,1083.9 L580.5,1084.7 L581.4,1085.6 L582.2,1086.6 L582.9,1087.7 L583.6,1088.9 L584.3,1090.2 L584.9,1091.5 L585.6,1092.8 L586.3,1094.5 L587.1,1096.4 L587.7,1098.3 L588.3,1100.3 L588.9,1102.4 L589.5,1104.5 L590.0,1106.6 L590.6,1108.7 L591.1,1111.1 L591.7,1113.6 L592.2,1116.2 L592.7,1118.7 L593.1,1121.3 L593.6,1123.8 L594.1,1126.3 L594.5,1128.6 L594.9,1130.5 L595.3,1132.4 L595.7,1134.3 L596.1,1136.1 L596.4,1137.8 L596.8,1139.5 L597.2,1141.1 L597.5,1142.5 L597.7,1143.5 L597.9,1144.5 L598.1,1145.4 L598.2,1146.3 L598.4,1147.1 L598.7,1147.8 L599.1,1148.4 L599.5,1148.9 L600.1,1149.2 L600.7,1149.3 L601.4,1149.3 L602.1,1149.3 L602.9,1149.2 L603.8,1149.1 L604.6,1149.0 L605.5,1148.9 L606.8,1148.9 L608.1,1148.8 L609.5,1148.8 L611.0,1148.8 L612.5,1148.7 L614.1,1148.6 L615.8,1148.6 L617.4,1148.5 L619.8,1148.4 L622.3,1148.3 L625.1,1148.2 L627.9,1148.0 L630.6,1147.9 L633.2,1147.7 L635.4,1147.6 L637.3,1147.5 L638.1,1147.5 L638.7,1147.4 L639.2,1147.3 L639.7,1147.3 L640.2,1147.2 L640.8,1147.2 L641.4,1147.1 L642.2,1147.2 L644.4,1147.3 L647.1,1147.5 L650.2,1147.8 L653.5,1148.3 L657.0,1148.7 L660.5,1149.3 L664.0,1149.8 L667.2,1150.4 L670.3,1151.0 L673.5,1151.7 L676.6,1152.4 L679.7,1153.1 L682.9,1153.9 L686.0,1154.7 L689.1,1155.5 L692.2,1156.4 L695.3,1157.3 L698.5,1158.3 L701.6,1159.3 L704.7,1160.3 L707.9,1161.3 L711.0,1162.4 L714.1,1163.5 L717.2,1164.7 L720.3,1165.8 L723.4,1167.0 L726.4,1168.2 L729.4,1169.4 L732.5,1170.7 L735.6,1172.0 L738.8,1173.3 L742.2,1174.7 L746.5,1176.4 L751.0,1178.2 L755.7,1180.1 L760.5,1182.0 L765.3,1184.0 L770.1,1185.9 L775.0,1187.8 L779.7,1189.7 L784.4,1191.4 L789.1,1193.2 L793.7,1194.9 L798.4,1196.7 L803.1,1198.4 L807.8,1200.1 L812.5,1201.7 L817.2,1203.4 L821.9,1205.0 L826.7,1206.7 L831.5,1208.3 L836.3,1210.0 L841.0,1211.6 L845.7,1213.1 L850.3,1214.5 L854.7,1215.9 L858.3,1217.0 L861.9,1218.0 L865.3,1218.9 L868.7,1219.8 L872.1,1220.7 L875.4,1221.6 L878.8,1222.5 L882.2,1223.4 L889.9,1225.4" fill="none" stroke="#00ff00" stroke-width="8.50" stroke-linejoin="round" stroke-linecap="butt"/>
<rect x="151.2" y="749.6" width="754.9" height="559.9" fill="none" stroke="#000" stroke-width="4.5"/>
<line x1="205.1" y1="1309.5" x2="205.1" y2="1296.5" stroke="#000" stroke-width="4.2"/>
<line x1="366.8" y1="1309.5" x2="366.8" y2="1296.5" stroke="#000" stroke-width="4.2"/>
<line x1="528.6" y1="1309.5" x2="528.6" y2="1296.5" stroke="#000" stroke-width="4.2"/>
<line x1="690.4" y1="1309.5" x2="690.4" y2="1296.5" stroke="#000" stroke-width="4.2"/>
<line x1="852.1" y1="1309.5" x2="852.1" y2="1296.5" stroke="#000" stroke-width="4.2"/>
<line x1="286.0" y1="1309.5" x2="286.0" y2="1301.8" stroke="#000" stroke-width="4.2"/>
<line x1="447.7" y1="1309.5" x2="447.7" y2="1301.8" stroke="#000" stroke-width="4.2"/>
<line x1="609.5" y1="1309.5" x2="609.5" y2="1301.8" stroke="#000" stroke-width="4.2"/>
<line x1="771.2" y1="1309.5" x2="771.2" y2="1301.8" stroke="#000" stroke-width="4.2"/>
<line x1="151.2" y1="1247.1" x2="164.2" y2="1247.1" stroke="#000" stroke-width="4.2"/>
<line x1="151.2" y1="1138.1" x2="164.2" y2="1138.1" stroke="#000" stroke-width="4.2"/>
<line x1="151.2" y1="1029.2" x2="164.2" y2="1029.2" stroke="#000" stroke-width="4.2"/>
<line x1="151.2" y1="920.3" x2="164.2" y2="920.3" stroke="#000" stroke-width="4.2"/>
<line x1="151.2" y1="811.3" x2="164.2" y2="811.3" stroke="#000" stroke-width="4.2"/>
<line x1="151.2" y1="1301.6" x2="158.9" y2="1301.6" stroke="#000" stroke-width="4.2"/>
<line x1="151.2" y1="1192.6" x2="158.9" y2="1192.6" stroke="#000" stroke-width="4.2"/>
<line x1="151.2" y1="1083.7" x2="158.9" y2="1083.7" stroke="#000" stroke-width="4.2"/>
<line x1="151.2" y1="974.7" x2="158.9" y2="974.7" stroke="#000" stroke-width="4.2"/>
<line x1="151.2" y1="865.8" x2="158.9" y2="865.8" stroke="#000" stroke-width="4.2"/>
<line x1="151.2" y1="756.8" x2="158.9" y2="756.8" stroke="#000" stroke-width="4.2"/>
<line x1="148.4" y1="915.9" x2="636.5" y2="915.9" stroke="#000" stroke-width="4.1" stroke-dasharray="20.6 18.30"/>
<line x1="420.9" y1="1139.9" x2="906.0" y2="1139.9" stroke="#000" stroke-width="4.1" stroke-dasharray="20.6 18.30"/>
<text x="205.1" y="1351.8" font-size="44.0" text-anchor="middle" letter-spacing="-1">-12</text>
<text x="366.8" y="1351.8" font-size="44.0" text-anchor="middle" letter-spacing="-1">-6</text>
<text x="528.6" y="1351.8" font-size="44.0" text-anchor="middle" letter-spacing="-1">0</text>
<text x="690.4" y="1351.8" font-size="44.0" text-anchor="middle" letter-spacing="-1">6</text>
<text x="852.1" y="1351.8" font-size="44.0" text-anchor="middle" letter-spacing="-1">12</text>
<text x="141.2" y="1258.8" font-size="44.0" text-anchor="end" letter-spacing="-1">-30</text>
<text x="141.2" y="1149.8" font-size="44.0" text-anchor="end" letter-spacing="-1">-15</text>
<text x="141.2" y="1040.9" font-size="44.0" text-anchor="end" letter-spacing="-1">0</text>
<text x="141.2" y="932.0" font-size="44.0" text-anchor="end" letter-spacing="-1">15</text>
<text x="141.2" y="823.0" font-size="44.0" text-anchor="end" letter-spacing="-1">30</text>
<text y="1397.0" font-size="44"><tspan x="485.8" font-style="italic">B</tspan><tspan x="521.8">(</tspan><tspan x="536.0">T</tspan><tspan x="561.0">)</tspan></text>
<g transform="translate(39.6,1130.5) rotate(-90)">
<text font-size="44" y="0"><tspan x="3" font-style="italic" font-family="Liberation Serif, serif" font-size="47">ρ</tspan><tspan x="21 33" dy="12" font-size="26" font-style="italic">xy</tspan><tspan dy="-12" x="54.5 69 101 125.5 131 152 190">(mΩ·cm)</tspan></text>
</g>
<text x="0.8" y="785.8" font-size="73.5" font-weight="bold" stroke-width="0">c</text>
<text font-size="37.5" letter-spacing="-1.3"><tspan x="713.2" y="799.3">S # 2</tspan><tspan x="713.2" y="841.0">From z to x</tspan><tspan x="714.2" y="882.7"><tspan font-style="italic">T</tspan> = 1.5K</tspan></text>
<line x1="710.4" y1="920.3" x2="792.7" y2="920.3" stroke="#000000" stroke-width="7.0"/>
<text x="799.0" y="931.1" font-size="37.5" letter-spacing="-1.3">0<tspan dy="-17.5" font-size="21.5">0</tspan></text>
<line x1="710.4" y1="969.3" x2="792.7" y2="969.3" stroke="#ff0000" stroke-width="7.0"/>
<text x="799.5" y="980.1" font-size="37.5" letter-spacing="-1.3">15<tspan dy="-17.5" font-size="21.5">0</tspan></text>
<line x1="710.4" y1="1018.3" x2="792.7" y2="1018.3" stroke="#ff8000" stroke-width="7.0"/>
<text x="799.0" y="1029.1" font-size="37.5" letter-spacing="-1.3">30<tspan dy="-17.5" font-size="21.5">0</tspan></text>
<line x1="710.4" y1="1067.3" x2="792.7" y2="1067.3" stroke="#00ff00" stroke-width="7.0"/>
<text x="799.0" y="1078.1" font-size="37.5" letter-spacing="-1.3">60<tspan dy="-17.5" font-size="21.5">0</tspan></text>
</g>
<g>
<rect x="1269.1" y="735.0" width="753.1" height="559.6" fill="none" stroke="#000" stroke-width="4.5"/>
<line x1="1269.0" y1="1294.6" x2="1269.0" y2="1281.6" stroke="#000" stroke-width="4.2"/>
<line x1="1457.3" y1="1294.6" x2="1457.3" y2="1281.6" stroke="#000" stroke-width="4.2"/>
<line x1="1645.6" y1="1294.6" x2="1645.6" y2="1281.6" stroke="#000" stroke-width="4.2"/>
<line x1="1833.9" y1="1294.6" x2="1833.9" y2="1281.6" stroke="#000" stroke-width="4.2"/>
<line x1="2022.2" y1="1294.6" x2="2022.2" y2="1281.6" stroke="#000" stroke-width="4.2"/>
<line x1="1363.1" y1="1294.6" x2="1363.1" y2="1286.9" stroke="#000" stroke-width="4.2"/>
<line x1="1551.4" y1="1294.6" x2="1551.4" y2="1286.9" stroke="#000" stroke-width="4.2"/>
<line x1="1739.8" y1="1294.6" x2="1739.8" y2="1286.9" stroke="#000" stroke-width="4.2"/>
<line x1="1928.1" y1="1294.6" x2="1928.1" y2="1286.9" stroke="#000" stroke-width="4.2"/>
<line x1="1269.1" y1="1238.9" x2="1282.1" y2="1238.9" stroke="#000" stroke-width="4.2"/>
<line x1="1269.1" y1="1127.0" x2="1282.1" y2="1127.0" stroke="#000" stroke-width="4.2"/>
<line x1="1269.1" y1="1015.2" x2="1282.1" y2="1015.2" stroke="#000" stroke-width="4.2"/>
<line x1="1269.1" y1="903.4" x2="1282.1" y2="903.4" stroke="#000" stroke-width="4.2"/>
<line x1="1269.1" y1="791.5" x2="1282.1" y2="791.5" stroke="#000" stroke-width="4.2"/>
<line x1="1269.1" y1="1183.0" x2="1276.8" y2="1183.0" stroke="#000" stroke-width="4.2"/>
<line x1="1269.1" y1="1071.1" x2="1276.8" y2="1071.1" stroke="#000" stroke-width="4.2"/>
<line x1="1269.1" y1="959.3" x2="1276.8" y2="959.3" stroke="#000" stroke-width="4.2"/>
<line x1="1269.1" y1="847.4" x2="1276.8" y2="847.4" stroke="#000" stroke-width="4.2"/>
<clipPath id="c14"><rect x="1266.2" y="0" width="758.8" height="1408"/></clipPath>
<path clip-path="url(#c14)" d="M1258.9,733.9 L1266.2,737.2 L1269.2,738.6 L1272.3,740.0 L1275.3,741.4 L1278.4,742.8 L1281.4,744.1 L1284.5,745.5 L1287.5,746.9 L1290.6,748.3 L1293.8,749.7 L1296.9,751.1 L1300.1,752.5 L1303.3,753.9 L1306.5,755.3 L1309.7,756.8 L1312.9,758.2 L1316.1,759.6 L1319.3,761.0 L1322.5,762.5 L1325.7,763.9 L1328.9,765.4 L1332.1,766.8 L1335.3,768.3 L1338.5,769.7 L1341.7,771.2 L1344.9,772.7 L1348.1,774.1 L1351.3,775.6 L1354.5,777.1 L1357.7,778.6 L1360.9,780.1 L1364.1,781.6 L1367.3,783.1 L1370.5,784.6 L1373.7,786.1 L1376.9,787.7 L1380.1,789.2 L1383.2,790.7 L1386.4,792.2 L1389.6,793.8 L1392.8,795.3 L1396.1,796.9 L1399.4,798.5 L1402.8,800.1 L1406.1,801.7 L1409.4,803.3 L1412.6,804.8 L1415.6,806.2 L1418.4,807.5 L1420.2,808.3 L1421.9,809.1 L1423.5,809.9 L1425.1,810.6 L1426.6,811.3 L1428.1,812.0 L1429.6,812.7 L1431.2,813.4 L1432.8,814.1 L1434.4,814.9 L1436.0,815.6 L1437.6,816.4 L1439.2,817.1 L1440.8,817.9 L1442.4,818.6 L1444.0,819.4 L1445.6,820.2 L1447.2,821.0 L1448.7,821.7 L1450.3,822.5 L1451.9,823.3 L1453.5,824.1 L1455.1,824.9 L1456.7,825.6 L1458.3,826.3 L1460.0,827.1 L1461.6,827.8 L1463.2,828.5 L1464.9,829.1 L1466.6,829.8 L1468.3,830.5 L1470.0,831.1 L1471.9,831.8 L1473.8,832.4 L1475.7,833.0 L1477.7,833.7 L1479.7,834.2 L1481.7,834.8 L1483.6,835.3 L1485.6,835.8 L1487.6,836.2 L1489.5,836.6 L1491.5,836.9 L1493.4,837.2 L1495.4,837.5 L1497.3,837.7 L1499.3,837.9 L1501.2,838.1 L1503.2,838.3 L1505.2,838.5 L1507.1,838.6 L1509.1,838.7 L1511.0,838.8 L1513.0,838.9 L1514.9,838.9 L1516.9,838.9 L1518.8,838.9 L1520.8,838.8 L1522.8,838.7 L1524.8,838.6 L1526.8,838.5 L1528.7,838.3 L1530.6,838.1 L1532.5,837.8 L1534.2,837.6 L1535.8,837.3 L1537.4,837.0 L1539.0,836.6 L1540.5,836.3 L1542.1,835.9 L1543.5,835.4 L1545.0,835.0 L1546.3,834.6 L1547.5,834.1 L1548.7,833.5 L1549.9,833.0 L1551.1,832.4 L1552.2,831.9 L1553.3,831.5 L1554.4,831.1 L1555.1,830.8 L1555.9,830.6 L1556.6,830.3 L1557.3,830.1 L1558.0,829.9 L1558.7,829.8 L1559.3,829.8 L1559.8,830.0 L1560.4,830.3 L1560.8,830.8 L1561.3,831.3 L1561.6,832.0 L1562.0,832.7 L1562.3,833.4 L1562.7,834.2 L1563.0,835.0 L1563.4,836.1 L1563.7,837.3 L1564.0,838.6 L1564.3,840.0 L1564.5,841.4 L1564.8,842.9 L1565.0,844.4 L1565.3,845.9 L1565.7,847.9 L1566.1,849.9 L1566.4,852.1 L1566.8,854.2 L1567.2,856.5 L1567.6,858.7 L1568.0,860.9 L1568.4,863.1 L1568.9,865.4 L1569.4,867.8 L1569.8,870.1 L1570.3,872.5 L1570.8,874.8 L1571.3,877.2 L1571.8,879.5 L1572.3,881.9 L1572.9,884.2 L1573.4,886.6 L1574.0,889.0 L1574.6,891.3 L1575.2,893.7 L1575.8,896.0 L1576.4,898.3 L1577.0,900.6 L1577.6,902.8 L1578.3,905.1 L1578.9,907.3 L1579.5,909.5 L1580.2,911.7 L1580.9,913.8 L1581.7,915.8 L1582.5,917.8 L1583.3,919.6 L1584.2,921.3 L1585.1,923.0 L1586.1,924.6 L1587.1,926.2 L1588.1,927.7 L1589.2,929.1 L1590.3,930.3 L1591.2,931.2 L1592.2,932.1 L1593.2,932.8 L1594.2,933.5 L1595.2,934.2 L1596.2,934.8 L1597.2,935.3 L1598.1,935.8 L1598.8,936.1 L1599.6,936.3 L1600.3,936.4 L1601.0,936.5 L1601.7,936.6 L1602.4,936.8 L1603.0,937.0 L1603.6,937.3 L1604.1,937.8 L1604.6,938.4 L1605.0,939.0 L1605.4,939.7 L1605.7,940.4 L1606.0,941.2 L1606.4,942.0 L1606.7,942.8 L1607.2,944.0 L1607.6,945.3 L1607.9,946.7 L1608.3,948.2 L1608.6,949.6 L1609.0,951.1 L1609.4,952.5 L1609.8,953.8 L1610.3,954.8 L1610.7,955.9 L1611.1,957.0 L1611.6,958.0 L1612.1,959.0 L1612.6,960.0 L1613.2,960.8 L1613.8,961.6 L1614.3,962.1 L1614.9,962.5 L1615.5,962.8 L1616.1,963.1 L1616.7,963.4 L1617.3,963.8 L1617.9,964.2 L1618.4,964.7 L1619.0,965.4 L1619.5,966.3 L1620.0,967.2 L1620.4,968.1 L1620.8,969.1 L1621.3,970.2 L1621.8,971.3 L1622.3,972.5 L1623.4,974.4 L1624.5,976.6 L1625.7,978.8 L1627.0,981.2 L1628.4,983.7 L1629.8,986.2 L1631.1,988.7 L1632.5,991.2 L1634.1,994.1 L1635.7,997.0 L1637.3,1000.0 L1638.9,1003.0 L1640.6,1006.1 L1642.3,1009.1 L1644.0,1012.2 L1645.6,1015.2 L1647.2,1018.2 L1648.9,1021.3 L1650.6,1024.3 L1652.3,1027.4 L1653.9,1030.4 L1655.5,1033.4 L1657.1,1036.3 L1658.7,1039.2 L1660.1,1041.7 L1661.4,1044.2 L1662.8,1046.7 L1664.2,1049.2 L1665.5,1051.6 L1666.7,1053.8 L1667.8,1056.0 L1668.9,1057.9 L1669.4,1059.1 L1669.9,1060.2 L1670.4,1061.3 L1670.8,1062.3 L1671.2,1063.2 L1671.7,1064.1 L1672.2,1065.0 L1672.8,1065.7 L1673.3,1066.2 L1673.9,1066.6 L1674.5,1067.0 L1675.1,1067.3 L1675.7,1067.6 L1676.3,1067.9 L1676.9,1068.3 L1677.4,1068.8 L1678.0,1069.6 L1678.6,1070.4 L1679.1,1071.4 L1679.6,1072.4 L1680.1,1073.4 L1680.5,1074.5 L1680.9,1075.6 L1681.4,1076.7 L1681.8,1077.9 L1682.2,1079.3 L1682.6,1080.8 L1682.9,1082.2 L1683.3,1083.7 L1683.6,1085.1 L1684.0,1086.4 L1684.5,1087.6 L1684.8,1088.4 L1685.2,1089.2 L1685.5,1090.0 L1685.8,1090.7 L1686.2,1091.4 L1686.6,1092.0 L1687.1,1092.6 L1687.6,1093.1 L1688.2,1093.4 L1688.8,1093.6 L1689.5,1093.8 L1690.2,1093.9 L1690.9,1094.0 L1691.6,1094.1 L1692.4,1094.3 L1693.1,1094.6 L1694.0,1095.1 L1695.0,1095.6 L1696.0,1096.2 L1697.0,1096.9 L1698.0,1097.6 L1699.0,1098.3 L1700.0,1099.2 L1700.9,1100.1 L1702.0,1101.3 L1703.1,1102.7 L1704.1,1104.2 L1705.1,1105.8 L1706.1,1107.4 L1707.0,1109.1 L1707.9,1110.8 L1708.7,1112.6 L1709.5,1114.6 L1710.3,1116.6 L1711.0,1118.7 L1711.7,1120.9 L1712.3,1123.1 L1712.9,1125.3 L1713.6,1127.6 L1714.2,1129.8 L1714.8,1132.1 L1715.4,1134.4 L1716.0,1136.7 L1716.6,1139.1 L1717.2,1141.4 L1717.8,1143.8 L1718.3,1146.2 L1718.9,1148.5 L1719.4,1150.9 L1719.9,1153.2 L1720.4,1155.6 L1720.9,1157.9 L1721.4,1160.3 L1721.8,1162.6 L1722.3,1165.0 L1722.8,1167.3 L1723.2,1169.5 L1723.6,1171.7 L1724.0,1173.9 L1724.4,1176.2 L1724.8,1178.3 L1725.1,1180.5 L1725.5,1182.5 L1725.9,1184.5 L1726.2,1186.0 L1726.4,1187.5 L1726.7,1189.0 L1726.9,1190.4 L1727.2,1191.8 L1727.5,1193.1 L1727.8,1194.3 L1728.2,1195.4 L1728.5,1196.2 L1728.9,1197.0 L1729.2,1197.7 L1729.6,1198.4 L1729.9,1199.1 L1730.4,1199.6 L1730.8,1200.1 L1731.4,1200.4 L1731.9,1200.6 L1732.5,1200.6 L1733.2,1200.5 L1733.9,1200.3 L1734.6,1200.1 L1735.3,1199.8 L1736.1,1199.6 L1736.8,1199.3 L1737.9,1198.9 L1739.0,1198.5 L1740.1,1198.0 L1741.3,1197.4 L1742.5,1196.9 L1743.7,1196.3 L1744.9,1195.8 L1746.2,1195.4 L1747.7,1195.0 L1749.1,1194.5 L1750.7,1194.1 L1752.2,1193.8 L1753.8,1193.4 L1755.4,1193.1 L1757.0,1192.8 L1758.7,1192.6 L1760.6,1192.3 L1762.5,1192.1 L1764.4,1191.9 L1766.4,1191.8 L1768.4,1191.7 L1770.4,1191.6 L1772.4,1191.5 L1774.3,1191.5 L1776.3,1191.5 L1778.2,1191.5 L1780.2,1191.6 L1782.1,1191.7 L1784.1,1191.8 L1786.0,1191.9 L1788.0,1192.1 L1789.9,1192.3 L1791.9,1192.5 L1793.9,1192.7 L1795.8,1192.9 L1797.8,1193.2 L1799.7,1193.5 L1801.7,1193.8 L1803.6,1194.2 L1805.6,1194.6 L1807.6,1195.1 L1809.5,1195.6 L1811.5,1196.2 L1813.5,1196.7 L1815.5,1197.4 L1817.4,1198.0 L1819.3,1198.6 L1821.2,1199.3 L1822.9,1199.9 L1824.6,1200.6 L1826.3,1201.3 L1828.0,1201.9 L1829.6,1202.6 L1831.2,1203.3 L1832.9,1204.1 L1834.5,1204.8 L1836.1,1205.5 L1837.7,1206.3 L1839.3,1207.1 L1840.9,1207.9 L1842.5,1208.7 L1844.0,1209.4 L1845.6,1210.2 L1847.2,1211.0 L1848.8,1211.8 L1850.4,1212.5 L1852.0,1213.3 L1853.6,1214.0 L1855.2,1214.8 L1856.8,1215.5 L1858.4,1216.3 L1860.0,1217.0 L1861.6,1217.7 L1863.1,1218.4 L1864.6,1219.1 L1866.1,1219.8 L1867.7,1220.5 L1869.3,1221.3 L1871.0,1222.1 L1872.8,1222.9 L1875.6,1224.2 L1878.6,1225.6 L1881.8,1227.1 L1885.1,1228.7 L1888.4,1230.3 L1891.8,1231.9 L1895.1,1233.5 L1898.4,1235.1 L1901.6,1236.6 L1904.8,1238.2 L1908.0,1239.7 L1911.1,1241.2 L1914.3,1242.7 L1917.5,1244.3 L1920.7,1245.8 L1923.9,1247.3 L1927.1,1248.8 L1930.3,1250.3 L1933.5,1251.8 L1936.7,1253.3 L1939.9,1254.8 L1943.1,1256.3 L1946.3,1257.7 L1949.5,1259.2 L1952.7,1260.7 L1955.9,1262.1 L1959.1,1263.6 L1962.3,1265.0 L1965.5,1266.5 L1968.7,1267.9 L1971.9,1269.4 L1975.1,1270.8 L1978.3,1272.2 L1981.5,1273.6 L1984.7,1275.1 L1987.9,1276.5 L1991.1,1277.9 L1994.3,1279.3 L1997.4,1280.7 L2000.6,1282.1 L2003.7,1283.5 L2006.7,1284.9 L2009.8,1286.3 L2012.8,1287.6 L2015.9,1289.0 L2018.9,1290.4 L2022.0,1291.8 L2025.0,1293.2 L2032.3,1296.5" fill="none" stroke="#000000" stroke-width="5.60" stroke-linejoin="round" stroke-linecap="butt"/>
<clipPath id="c15"><rect x="1266.2" y="0" width="758.7" height="1408"/></clipPath>
<path clip-path="url(#c15)" d="M1258.7,748.1 L1266.2,750.8 L1268.6,751.6 L1270.9,752.4 L1273.2,753.2 L1275.5,754.0 L1277.8,754.8 L1280.1,755.7 L1282.5,756.6 L1285.0,757.5 L1288.0,758.7 L1291.0,759.9 L1294.1,761.2 L1297.3,762.6 L1300.5,763.9 L1303.7,765.3 L1306.9,766.7 L1310.0,768.0 L1313.1,769.3 L1316.3,770.7 L1319.4,772.0 L1322.5,773.3 L1325.6,774.7 L1328.8,776.0 L1331.9,777.4 L1335.0,778.8 L1338.1,780.1 L1341.3,781.5 L1344.4,783.0 L1347.5,784.4 L1350.6,785.8 L1353.7,787.2 L1356.9,788.6 L1360.0,790.0 L1363.1,791.4 L1366.2,792.7 L1369.4,794.0 L1372.5,795.4 L1375.6,796.7 L1378.7,798.0 L1381.9,799.2 L1385.0,800.5 L1388.1,801.7 L1391.2,803.0 L1394.3,804.2 L1397.5,805.5 L1400.6,806.7 L1403.7,807.8 L1406.9,808.9 L1410.0,810.0 L1413.1,811.0 L1416.2,811.9 L1419.3,812.8 L1422.5,813.7 L1425.6,814.5 L1428.7,815.3 L1431.9,816.0 L1435.0,816.8 L1438.2,817.4 L1441.5,818.0 L1444.9,818.6 L1448.2,819.1 L1451.4,819.6 L1454.5,820.1 L1457.4,820.6 L1460.0,821.0 L1461.4,821.3 L1462.7,821.5 L1463.8,821.7 L1464.9,822.0 L1466.0,822.2 L1467.2,822.4 L1468.5,822.6 L1470.0,822.8 L1473.1,823.2 L1476.7,823.5 L1480.6,823.8 L1484.8,824.2 L1489.1,824.5 L1493.3,824.8 L1497.4,825.0 L1501.2,825.3 L1504.4,825.5 L1507.5,825.7 L1510.5,825.9 L1513.6,826.1 L1516.5,826.3 L1519.3,826.5 L1522.1,826.7 L1524.7,826.9 L1526.6,827.1 L1528.4,827.3 L1530.2,827.5 L1531.9,827.7 L1533.6,827.9 L1535.3,828.1 L1537.0,828.3 L1538.8,828.4 L1540.8,828.6 L1542.9,828.6 L1545.1,828.6 L1547.3,828.6 L1549.4,828.6 L1551.4,828.7 L1553.0,829.0 L1554.4,829.5 L1555.0,829.9 L1555.5,830.3 L1555.9,830.7 L1556.3,831.1 L1556.6,831.6 L1556.9,832.2 L1557.2,832.8 L1557.5,833.4 L1557.9,834.6 L1558.3,836.0 L1558.6,837.5 L1558.9,839.1 L1559.1,840.8 L1559.3,842.5 L1559.6,844.2 L1559.8,845.9 L1560.2,848.0 L1560.6,850.0 L1561.0,852.2 L1561.3,854.3 L1561.7,856.5 L1562.1,858.7 L1562.5,860.9 L1563.0,863.1 L1563.4,865.4 L1563.9,867.8 L1564.4,870.1 L1564.8,872.5 L1565.3,874.8 L1565.8,877.2 L1566.3,879.5 L1566.9,881.9 L1567.4,884.2 L1568.0,886.6 L1568.5,889.0 L1569.1,891.3 L1569.6,893.7 L1570.2,896.0 L1570.9,898.3 L1571.6,900.6 L1572.2,902.9 L1572.9,905.1 L1573.6,907.4 L1574.4,909.6 L1575.2,911.8 L1576.0,913.9 L1576.9,915.9 L1577.8,917.8 L1578.7,919.4 L1579.6,920.9 L1580.5,922.3 L1581.5,923.7 L1582.5,925.1 L1583.5,926.4 L1584.6,927.6 L1585.6,928.8 L1586.6,929.7 L1587.5,930.6 L1588.5,931.4 L1589.5,932.2 L1590.5,933.0 L1591.5,933.7 L1592.5,934.4 L1593.4,935.0 L1594.2,935.5 L1595.1,935.8 L1595.9,936.2 L1596.7,936.5 L1597.5,936.8 L1598.3,937.2 L1599.0,937.6 L1599.7,938.1 L1600.3,938.7 L1600.9,939.4 L1601.4,940.1 L1601.9,940.9 L1602.3,941.7 L1602.8,942.6 L1603.2,943.5 L1603.6,944.4 L1604.1,945.6 L1604.5,946.9 L1604.8,948.4 L1605.1,949.8 L1605.4,951.3 L1605.8,952.7 L1606.2,954.1 L1606.7,955.3 L1607.2,956.3 L1607.7,957.3 L1608.3,958.2 L1608.9,959.1 L1609.5,960.0 L1610.1,960.8 L1610.8,961.6 L1611.4,962.3 L1612.0,962.9 L1612.5,963.4 L1613.1,963.9 L1613.8,964.3 L1614.4,964.7 L1615.0,965.2 L1615.5,965.7 L1616.1,966.2 L1616.7,967.0 L1617.3,967.7 L1617.8,968.5 L1618.4,969.4 L1618.9,970.3 L1619.5,971.2 L1620.1,972.2 L1620.8,973.3 L1621.9,975.2 L1623.2,977.3 L1624.5,979.6 L1625.9,982.0 L1627.3,984.5 L1628.8,987.0 L1630.3,989.5 L1631.7,992.0 L1633.4,994.8 L1635.1,997.7 L1636.8,1000.5 L1638.5,1003.5 L1640.3,1006.4 L1642.1,1009.4 L1643.9,1012.3 L1645.6,1015.2 L1647.3,1018.1 L1649.1,1021.0 L1650.9,1024.0 L1652.7,1026.9 L1654.4,1029.9 L1656.1,1032.7 L1657.8,1035.6 L1659.5,1038.4 L1660.9,1040.9 L1662.4,1043.4 L1663.9,1045.9 L1665.3,1048.4 L1666.7,1050.8 L1668.0,1053.1 L1669.3,1055.2 L1670.4,1057.1 L1671.1,1058.2 L1671.7,1059.2 L1672.3,1060.1 L1672.8,1061.0 L1673.4,1061.9 L1673.9,1062.7 L1674.5,1063.4 L1675.1,1064.2 L1675.7,1064.7 L1676.2,1065.2 L1676.8,1065.7 L1677.4,1066.1 L1678.1,1066.5 L1678.7,1067.0 L1679.2,1067.5 L1679.8,1068.1 L1680.4,1068.8 L1681.1,1069.6 L1681.7,1070.4 L1682.3,1071.3 L1682.9,1072.2 L1683.5,1073.1 L1684.0,1074.1 L1684.5,1075.1 L1685.0,1076.3 L1685.4,1077.7 L1685.8,1079.1 L1686.1,1080.6 L1686.4,1082.0 L1686.7,1083.5 L1687.1,1084.8 L1687.6,1086.0 L1688.0,1086.9 L1688.4,1087.8 L1688.9,1088.7 L1689.3,1089.5 L1689.8,1090.3 L1690.3,1091.0 L1690.9,1091.7 L1691.5,1092.3 L1692.2,1092.8 L1692.9,1093.2 L1693.7,1093.6 L1694.5,1093.9 L1695.3,1094.2 L1696.1,1094.6 L1697.0,1094.9 L1697.8,1095.4 L1698.7,1096.0 L1699.7,1096.7 L1700.7,1097.4 L1701.7,1098.2 L1702.7,1099.0 L1703.7,1099.8 L1704.6,1100.7 L1705.6,1101.7 L1706.6,1102.8 L1707.7,1104.0 L1708.7,1105.3 L1709.7,1106.7 L1710.7,1108.1 L1711.6,1109.5 L1712.5,1111.0 L1713.4,1112.6 L1714.3,1114.5 L1715.2,1116.5 L1716.0,1118.6 L1716.8,1120.8 L1717.6,1123.0 L1718.3,1125.3 L1719.0,1127.5 L1719.6,1129.8 L1720.3,1132.1 L1721.0,1134.4 L1721.6,1136.7 L1722.1,1139.1 L1722.7,1141.4 L1723.2,1143.8 L1723.8,1146.2 L1724.3,1148.5 L1724.9,1150.9 L1725.4,1153.2 L1725.9,1155.6 L1726.4,1157.9 L1726.8,1160.3 L1727.3,1162.6 L1727.8,1165.0 L1728.2,1167.3 L1728.7,1169.5 L1729.1,1171.7 L1729.5,1173.9 L1729.9,1176.1 L1730.2,1178.2 L1730.6,1180.4 L1731.0,1182.4 L1731.4,1184.5 L1731.6,1186.2 L1731.9,1187.9 L1732.1,1189.6 L1732.3,1191.3 L1732.6,1192.9 L1732.9,1194.4 L1733.3,1195.8 L1733.7,1197.0 L1734.0,1197.6 L1734.3,1198.2 L1734.6,1198.8 L1734.9,1199.3 L1735.3,1199.7 L1735.7,1200.1 L1736.2,1200.5 L1736.8,1200.9 L1738.2,1201.4 L1739.8,1201.7 L1741.8,1201.8 L1743.9,1201.8 L1746.1,1201.8 L1748.3,1201.8 L1750.4,1201.8 L1752.4,1202.0 L1754.2,1202.1 L1755.9,1202.3 L1757.6,1202.5 L1759.3,1202.7 L1761.0,1202.9 L1762.8,1203.1 L1764.6,1203.3 L1766.5,1203.5 L1769.1,1203.7 L1771.9,1203.9 L1774.7,1204.1 L1777.6,1204.3 L1780.7,1204.5 L1783.7,1204.7 L1786.8,1204.9 L1789.9,1205.1 L1793.8,1205.4 L1797.9,1205.6 L1802.1,1205.9 L1806.4,1206.2 L1810.6,1206.6 L1814.5,1206.9 L1818.1,1207.2 L1821.2,1207.6 L1822.7,1207.8 L1824.0,1208.0 L1825.2,1208.2 L1826.3,1208.4 L1827.4,1208.7 L1828.5,1208.9 L1829.8,1209.1 L1831.2,1209.4 L1833.8,1209.8 L1836.7,1210.3 L1839.8,1210.8 L1843.0,1211.3 L1846.3,1211.8 L1849.7,1212.4 L1853.0,1213.0 L1856.2,1213.7 L1859.3,1214.4 L1862.5,1215.1 L1865.6,1215.9 L1868.7,1216.7 L1871.9,1217.6 L1875.0,1218.5 L1878.1,1219.4 L1881.2,1220.4 L1884.3,1221.5 L1887.5,1222.6 L1890.6,1223.7 L1893.7,1224.9 L1896.9,1226.2 L1900.0,1227.4 L1903.1,1228.7 L1906.2,1229.9 L1909.3,1231.2 L1912.5,1232.4 L1915.6,1233.7 L1918.7,1235.0 L1921.8,1236.4 L1925.0,1237.7 L1928.1,1239.0 L1931.2,1240.4 L1934.3,1241.8 L1937.5,1243.2 L1940.6,1244.6 L1943.7,1246.0 L1946.8,1247.4 L1949.9,1248.9 L1953.1,1250.3 L1956.2,1251.7 L1959.3,1253.0 L1962.4,1254.4 L1965.6,1255.7 L1968.7,1257.1 L1971.8,1258.4 L1974.9,1259.7 L1978.1,1261.1 L1981.2,1262.4 L1984.3,1263.7 L1987.5,1265.1 L1990.7,1266.5 L1993.9,1267.8 L1997.1,1269.2 L2000.2,1270.5 L2003.2,1271.7 L2006.2,1272.9 L2008.7,1273.8 L2011.1,1274.7 L2013.4,1275.6 L2015.7,1276.4 L2018.0,1277.2 L2020.3,1278.0 L2022.6,1278.8 L2024.9,1279.7 L2032.5,1282.3" fill="none" stroke="#ff0000" stroke-width="5.60" stroke-linejoin="round" stroke-linecap="butt"/>
<clipPath id="c16"><rect x="1266.2" y="0" width="758.7" height="1408"/></clipPath>
<path clip-path="url(#c16)" d="M1258.7,748.1 L1266.2,750.8 L1268.6,751.6 L1270.9,752.4 L1273.2,753.2 L1275.5,754.0 L1277.8,754.8 L1280.1,755.7 L1282.5,756.6 L1285.0,757.5 L1288.0,758.7 L1291.0,759.9 L1294.1,761.2 L1297.3,762.6 L1300.5,763.9 L1303.7,765.3 L1306.9,766.7 L1310.0,768.0 L1313.1,769.3 L1316.3,770.7 L1319.4,772.0 L1322.5,773.3 L1325.6,774.7 L1328.8,776.0 L1331.9,777.4 L1335.0,778.8 L1338.1,780.1 L1341.3,781.5 L1344.4,783.0 L1347.5,784.4 L1350.6,785.8 L1353.7,787.2 L1356.9,788.6 L1360.0,790.0 L1363.1,791.4 L1366.2,792.7 L1369.4,794.0 L1372.5,795.4 L1375.6,796.7 L1378.7,798.0 L1381.9,799.2 L1385.0,800.5 L1388.1,801.7 L1391.2,803.0 L1394.3,804.2 L1397.5,805.5 L1400.6,806.7 L1403.7,807.8 L1406.9,808.9 L1410.0,810.0 L1413.1,811.0 L1416.2,811.9 L1419.3,812.8 L1422.5,813.7 L1425.6,814.5 L1428.7,815.3 L1431.9,816.0 L1435.0,816.8 L1438.2,817.4 L1441.5,818.0 L1444.8,818.6 L1448.2,819.2 L1451.4,819.7 L1454.5,820.2 L1457.4,820.6 L1460.0,821.0 L1461.4,821.2 L1462.7,821.4 L1463.8,821.6 L1464.9,821.8 L1466.0,822.0 L1467.2,822.2 L1468.5,822.3 L1470.0,822.5 L1473.1,822.8 L1476.7,823.2 L1480.6,823.5 L1484.8,823.9 L1489.1,824.2 L1493.3,824.5 L1497.4,824.8 L1501.2,825.0 L1504.4,825.1 L1507.5,825.2 L1510.5,825.3 L1513.5,825.4 L1516.5,825.4 L1519.3,825.5 L1522.1,825.5 L1524.7,825.6 L1526.7,825.7 L1528.6,825.7 L1530.5,825.7 L1532.3,825.7 L1534.1,825.7 L1535.8,825.8 L1537.3,826.1 L1538.8,826.4 L1539.7,826.7 L1540.6,827.1 L1541.5,827.5 L1542.3,828.0 L1543.0,828.5 L1543.7,829.0 L1544.4,829.6 L1545.0,830.3 L1545.6,831.1 L1546.1,831.9 L1546.5,832.8 L1546.8,833.8 L1547.2,834.8 L1547.5,835.9 L1547.8,837.0 L1548.1,838.1 L1548.6,839.8 L1549.0,841.6 L1549.4,843.5 L1549.7,845.5 L1550.1,847.5 L1550.5,849.6 L1550.8,851.7 L1551.2,853.8 L1551.7,856.0 L1552.2,858.3 L1552.6,860.7 L1553.1,863.0 L1553.6,865.4 L1554.1,867.8 L1554.6,870.1 L1555.2,872.5 L1555.7,874.9 L1556.2,877.2 L1556.8,879.6 L1557.4,882.0 L1558.0,884.4 L1558.6,886.7 L1559.2,889.0 L1559.8,891.2 L1560.5,893.3 L1561.1,895.3 L1561.7,897.3 L1562.4,899.3 L1563.1,901.3 L1563.8,903.2 L1564.5,905.0 L1565.3,906.9 L1566.1,908.5 L1566.9,910.2 L1567.7,911.8 L1568.5,913.4 L1569.4,914.9 L1570.3,916.5 L1571.3,917.9 L1572.3,919.4 L1573.5,920.8 L1574.6,922.2 L1575.9,923.5 L1577.2,924.9 L1578.5,926.1 L1579.8,927.3 L1581.2,928.5 L1582.5,929.5 L1583.7,930.4 L1584.9,931.1 L1586.1,931.8 L1587.3,932.5 L1588.5,933.1 L1589.7,933.7 L1590.8,934.3 L1591.9,935.0 L1592.8,935.6 L1593.6,936.1 L1594.5,936.6 L1595.3,937.2 L1596.1,937.7 L1596.8,938.3 L1597.5,939.0 L1598.1,939.7 L1598.7,940.5 L1599.1,941.4 L1599.5,942.3 L1599.9,943.3 L1600.2,944.3 L1600.5,945.4 L1600.8,946.4 L1601.2,947.5 L1601.8,948.8 L1602.3,950.1 L1602.8,951.5 L1603.3,953.0 L1603.9,954.4 L1604.5,955.8 L1605.2,957.1 L1605.9,958.4 L1606.8,959.7 L1607.7,960.8 L1608.6,962.0 L1609.6,963.1 L1610.7,964.2 L1611.7,965.3 L1612.7,966.5 L1613.8,967.8 L1614.9,969.4 L1616.1,971.1 L1617.2,972.8 L1618.4,974.5 L1619.6,976.3 L1620.7,978.2 L1621.9,980.0 L1623.1,981.9 L1624.5,983.9 L1625.8,986.1 L1627.1,988.2 L1628.5,990.4 L1629.9,992.6 L1631.3,994.8 L1632.7,996.9 L1634.1,999.1 L1635.5,1001.1 L1636.9,1003.2 L1638.3,1005.2 L1639.8,1007.2 L1641.2,1009.2 L1642.7,1011.2 L1644.2,1013.2 L1645.6,1015.2 L1647.0,1017.2 L1648.5,1019.2 L1650.0,1021.2 L1651.4,1023.2 L1652.9,1025.2 L1654.3,1027.2 L1655.7,1029.3 L1657.1,1031.3 L1658.5,1033.5 L1659.9,1035.6 L1661.3,1037.8 L1662.7,1040.0 L1664.1,1042.2 L1665.4,1044.3 L1666.7,1046.5 L1668.1,1048.5 L1669.3,1050.4 L1670.5,1052.2 L1671.6,1054.1 L1672.8,1055.9 L1674.0,1057.6 L1675.1,1059.3 L1676.3,1061.0 L1677.4,1062.6 L1678.5,1063.9 L1679.5,1065.1 L1680.5,1066.2 L1681.6,1067.3 L1682.6,1068.4 L1683.5,1069.6 L1684.4,1070.7 L1685.3,1072.0 L1686.0,1073.3 L1686.7,1074.6 L1687.3,1076.0 L1687.9,1077.4 L1688.4,1078.9 L1688.9,1080.3 L1689.4,1081.6 L1689.9,1082.9 L1690.4,1084.0 L1690.7,1085.0 L1691.0,1086.1 L1691.3,1087.1 L1691.7,1088.1 L1692.1,1089.0 L1692.5,1089.9 L1693.1,1090.7 L1693.7,1091.4 L1694.4,1092.1 L1695.1,1092.7 L1695.9,1093.2 L1696.7,1093.8 L1697.6,1094.3 L1698.4,1094.8 L1699.3,1095.4 L1700.4,1096.1 L1701.5,1096.7 L1702.7,1097.3 L1703.9,1097.9 L1705.1,1098.6 L1706.3,1099.3 L1707.5,1100.0 L1708.7,1100.9 L1710.0,1101.9 L1711.4,1103.1 L1712.7,1104.3 L1714.0,1105.5 L1715.3,1106.9 L1716.6,1108.2 L1717.7,1109.6 L1718.9,1111.0 L1719.9,1112.5 L1720.9,1113.9 L1721.8,1115.5 L1722.7,1117.0 L1723.5,1118.6 L1724.3,1120.2 L1725.1,1121.9 L1725.9,1123.5 L1726.7,1125.4 L1727.4,1127.2 L1728.1,1129.1 L1728.8,1131.1 L1729.5,1133.1 L1730.1,1135.1 L1730.7,1137.1 L1731.4,1139.2 L1732.0,1141.4 L1732.6,1143.7 L1733.2,1146.0 L1733.8,1148.4 L1734.4,1150.8 L1735.0,1153.2 L1735.5,1155.5 L1736.0,1157.9 L1736.6,1160.3 L1737.1,1162.6 L1737.6,1165.0 L1738.1,1167.4 L1738.6,1169.7 L1739.0,1172.1 L1739.5,1174.4 L1739.9,1176.7 L1740.4,1178.7 L1740.7,1180.8 L1741.1,1182.9 L1741.5,1184.9 L1741.8,1186.9 L1742.2,1188.8 L1742.6,1190.6 L1743.1,1192.3 L1743.4,1193.4 L1743.7,1194.5 L1744.0,1195.6 L1744.4,1196.6 L1744.7,1197.6 L1745.1,1198.5 L1745.6,1199.3 L1746.2,1200.1 L1746.8,1200.8 L1747.5,1201.4 L1748.2,1201.9 L1748.9,1202.4 L1749.7,1202.9 L1750.6,1203.3 L1751.5,1203.7 L1752.4,1204.0 L1753.9,1204.3 L1755.4,1204.6 L1757.1,1204.7 L1758.9,1204.7 L1760.7,1204.7 L1762.6,1204.7 L1764.5,1204.7 L1766.5,1204.8 L1769.1,1204.9 L1771.9,1204.9 L1774.7,1205.0 L1777.7,1205.0 L1780.7,1205.1 L1783.7,1205.2 L1786.8,1205.3 L1789.9,1205.4 L1793.8,1205.6 L1797.9,1205.9 L1802.1,1206.2 L1806.4,1206.5 L1810.6,1206.9 L1814.5,1207.2 L1818.1,1207.6 L1821.2,1207.9 L1822.7,1208.1 L1824.0,1208.2 L1825.2,1208.4 L1826.3,1208.6 L1827.4,1208.8 L1828.5,1209.0 L1829.8,1209.2 L1831.2,1209.4 L1833.8,1209.8 L1836.7,1210.2 L1839.8,1210.7 L1843.0,1211.2 L1846.4,1211.8 L1849.7,1212.4 L1853.0,1213.0 L1856.2,1213.7 L1859.3,1214.4 L1862.5,1215.1 L1865.6,1215.9 L1868.7,1216.7 L1871.9,1217.6 L1875.0,1218.5 L1878.1,1219.4 L1881.2,1220.4 L1884.3,1221.5 L1887.5,1222.6 L1890.6,1223.7 L1893.7,1224.9 L1896.9,1226.2 L1900.0,1227.4 L1903.1,1228.7 L1906.2,1229.9 L1909.3,1231.2 L1912.5,1232.4 L1915.6,1233.7 L1918.7,1235.0 L1921.8,1236.4 L1925.0,1237.7 L1928.1,1239.0 L1931.2,1240.4 L1934.3,1241.8 L1937.5,1243.2 L1940.6,1244.6 L1943.7,1246.0 L1946.8,1247.4 L1949.9,1248.9 L1953.1,1250.3 L1956.2,1251.7 L1959.3,1253.0 L1962.4,1254.4 L1965.6,1255.7 L1968.7,1257.1 L1971.8,1258.4 L1974.9,1259.7 L1978.1,1261.1 L1981.2,1262.4 L1984.3,1263.7 L1987.5,1265.1 L1990.7,1266.5 L1993.9,1267.8 L1997.1,1269.2 L2000.2,1270.5 L2003.2,1271.7 L2006.2,1272.9 L2008.7,1273.8 L2011.1,1274.7 L2013.4,1275.6 L2015.7,1276.4 L2018.0,1277.2 L2020.3,1278.0 L2022.6,1278.8 L2024.9,1279.7 L2032.5,1282.3" fill="none" stroke="#ff0080" stroke-width="5.60" stroke-linejoin="round" stroke-linecap="butt"/>
<clipPath id="c17"><rect x="1266.2" y="0" width="758.7" height="1408"/></clipPath>
<path clip-path="url(#c17)" d="M1258.9,768.8 L1266.2,772.0 L1268.6,773.0 L1270.9,774.0 L1273.2,775.0 L1275.5,776.0 L1277.8,777.0 L1280.1,778.0 L1282.5,779.0 L1285.0,780.0 L1287.9,781.2 L1291.0,782.5 L1294.1,783.7 L1297.3,785.0 L1300.5,786.2 L1303.7,787.5 L1306.8,788.8 L1310.0,790.0 L1313.1,791.2 L1316.2,792.4 L1319.4,793.7 L1322.5,794.9 L1325.6,796.1 L1328.7,797.2 L1331.9,798.4 L1335.0,799.5 L1338.1,800.6 L1341.2,801.6 L1344.4,802.6 L1347.5,803.6 L1350.6,804.6 L1353.7,805.6 L1356.9,806.6 L1360.0,807.5 L1363.1,808.4 L1366.2,809.4 L1369.4,810.3 L1372.5,811.2 L1375.6,812.1 L1378.7,812.9 L1381.9,813.7 L1385.0,814.5 L1388.1,815.2 L1391.2,815.9 L1394.4,816.6 L1397.5,817.2 L1400.6,817.8 L1403.7,818.4 L1406.9,819.0 L1410.0,819.5 L1413.1,820.0 L1416.2,820.5 L1419.4,821.0 L1422.5,821.4 L1425.6,821.8 L1428.7,822.2 L1431.9,822.6 L1435.0,823.0 L1438.2,823.4 L1441.5,823.7 L1444.9,824.1 L1448.2,824.4 L1451.4,824.7 L1454.5,825.0 L1457.4,825.3 L1460.0,825.5 L1461.4,825.6 L1462.7,825.8 L1463.9,825.9 L1465.0,826.0 L1466.1,826.1 L1467.3,826.2 L1468.6,826.3 L1470.0,826.4 L1472.5,826.6 L1475.2,826.8 L1478.1,827.0 L1481.2,827.2 L1484.3,827.4 L1487.5,827.6 L1490.5,827.8 L1493.4,828.0 L1496.1,828.1 L1498.8,828.2 L1501.5,828.3 L1504.2,828.4 L1506.8,828.5 L1509.3,828.6 L1511.6,828.8 L1513.8,829.1 L1515.0,829.2 L1516.3,829.4 L1517.4,829.5 L1518.5,829.7 L1519.6,829.9 L1520.6,830.2 L1521.5,830.6 L1522.3,831.1 L1523.1,831.7 L1523.8,832.4 L1524.5,833.2 L1525.0,834.1 L1525.6,835.1 L1526.1,836.1 L1526.6,837.1 L1527.0,838.1 L1527.6,839.5 L1528.0,840.9 L1528.4,842.4 L1528.8,844.0 L1529.1,845.7 L1529.4,847.3 L1529.8,849.0 L1530.2,850.6 L1530.6,852.5 L1531.1,854.4 L1531.6,856.4 L1532.0,858.3 L1532.5,860.3 L1533.0,862.3 L1533.5,864.3 L1534.1,866.2 L1534.6,868.2 L1535.2,870.2 L1535.7,872.1 L1536.3,874.1 L1536.9,876.0 L1537.5,878.0 L1538.1,879.9 L1538.8,881.9 L1539.4,883.8 L1540.0,885.8 L1540.7,887.8 L1541.3,889.8 L1542.0,891.8 L1542.7,893.8 L1543.4,895.7 L1544.2,897.5 L1545.0,899.2 L1545.8,900.8 L1546.6,902.4 L1547.5,904.0 L1548.4,905.5 L1549.3,907.0 L1550.2,908.5 L1551.2,910.0 L1552.3,911.5 L1553.4,912.9 L1554.5,914.3 L1555.6,915.6 L1556.8,917.0 L1558.1,918.3 L1559.3,919.6 L1560.6,920.9 L1562.1,922.3 L1563.6,923.6 L1565.1,924.9 L1566.7,926.2 L1568.3,927.4 L1569.9,928.7 L1571.5,929.9 L1573.1,931.1 L1574.7,932.2 L1576.4,933.3 L1578.0,934.4 L1579.7,935.5 L1581.4,936.5 L1582.9,937.6 L1584.3,938.6 L1585.6,939.7 L1586.5,940.5 L1587.3,941.2 L1588.0,942.0 L1588.7,942.7 L1589.3,943.5 L1589.9,944.3 L1590.5,945.1 L1591.1,945.9 L1591.6,946.8 L1592.1,947.8 L1592.6,948.8 L1593.0,949.7 L1593.4,950.7 L1593.9,951.8 L1594.4,952.8 L1595.0,953.8 L1595.8,954.9 L1596.7,956.1 L1597.7,957.3 L1598.7,958.4 L1599.7,959.6 L1600.8,960.8 L1601.8,962.0 L1602.8,963.1 L1603.8,964.3 L1604.7,965.5 L1605.7,966.6 L1606.7,967.8 L1607.6,968.9 L1608.6,970.1 L1609.6,971.3 L1610.6,972.5 L1611.7,973.8 L1612.9,975.1 L1614.0,976.5 L1615.2,977.8 L1616.4,979.1 L1617.6,980.5 L1618.8,982.0 L1620.0,983.4 L1621.5,985.2 L1623.0,987.1 L1624.6,989.1 L1626.1,991.1 L1627.7,993.1 L1629.3,995.1 L1630.9,997.1 L1632.5,999.1 L1634.1,1001.1 L1635.7,1003.1 L1637.4,1005.1 L1639.0,1007.1 L1640.7,1009.1 L1642.3,1011.2 L1644.0,1013.2 L1645.6,1015.2 L1647.2,1017.2 L1648.9,1019.2 L1650.5,1021.3 L1652.2,1023.3 L1653.8,1025.3 L1655.5,1027.3 L1657.1,1029.3 L1658.7,1031.3 L1660.3,1033.3 L1661.9,1035.3 L1663.5,1037.3 L1665.1,1039.3 L1666.6,1041.3 L1668.2,1043.3 L1669.7,1045.2 L1671.2,1047.0 L1672.4,1048.4 L1673.6,1049.9 L1674.8,1051.3 L1676.0,1052.6 L1677.2,1053.9 L1678.3,1055.3 L1679.5,1056.6 L1680.6,1057.9 L1681.6,1059.1 L1682.6,1060.3 L1683.6,1061.5 L1684.5,1062.6 L1685.5,1063.8 L1686.5,1064.9 L1687.4,1066.1 L1688.4,1067.3 L1689.4,1068.4 L1690.4,1069.6 L1691.5,1070.8 L1692.5,1072.0 L1693.5,1073.1 L1694.5,1074.3 L1695.4,1075.5 L1696.2,1076.7 L1696.8,1077.6 L1697.3,1078.6 L1697.8,1079.7 L1698.2,1080.7 L1698.6,1081.6 L1699.1,1082.6 L1699.6,1083.6 L1700.1,1084.5 L1700.7,1085.3 L1701.3,1086.1 L1701.9,1086.9 L1702.5,1087.7 L1703.2,1088.4 L1703.9,1089.2 L1704.7,1089.9 L1705.6,1090.7 L1706.9,1091.8 L1708.3,1092.8 L1709.8,1093.9 L1711.5,1094.9 L1713.2,1096.0 L1714.8,1097.1 L1716.5,1098.2 L1718.1,1099.3 L1719.7,1100.5 L1721.3,1101.7 L1722.9,1103.0 L1724.5,1104.2 L1726.1,1105.5 L1727.6,1106.8 L1729.1,1108.1 L1730.6,1109.5 L1731.9,1110.8 L1733.1,1112.1 L1734.4,1113.4 L1735.6,1114.8 L1736.7,1116.1 L1737.8,1117.5 L1738.9,1118.9 L1739.9,1120.4 L1741.0,1121.9 L1741.9,1123.4 L1742.8,1124.9 L1743.7,1126.4 L1744.6,1128.0 L1745.4,1129.6 L1746.2,1131.2 L1747.0,1132.9 L1747.8,1134.7 L1748.5,1136.6 L1749.2,1138.6 L1749.9,1140.6 L1750.5,1142.6 L1751.2,1144.6 L1751.8,1146.6 L1752.4,1148.5 L1753.1,1150.5 L1753.7,1152.4 L1754.3,1154.4 L1754.9,1156.3 L1755.5,1158.3 L1756.0,1160.2 L1756.6,1162.2 L1757.1,1164.2 L1757.7,1166.1 L1758.2,1168.1 L1758.7,1170.1 L1759.2,1172.1 L1759.6,1174.0 L1760.1,1176.0 L1760.6,1177.9 L1761.0,1179.8 L1761.4,1181.4 L1761.8,1183.1 L1762.1,1184.7 L1762.4,1186.4 L1762.8,1188.0 L1763.2,1189.5 L1763.6,1190.9 L1764.2,1192.3 L1764.6,1193.3 L1765.1,1194.3 L1765.6,1195.3 L1766.2,1196.3 L1766.7,1197.2 L1767.4,1198.0 L1768.1,1198.7 L1768.9,1199.3 L1769.7,1199.8 L1770.6,1200.2 L1771.6,1200.5 L1772.7,1200.7 L1773.8,1200.9 L1774.9,1201.0 L1776.2,1201.2 L1777.4,1201.3 L1779.6,1201.6 L1781.9,1201.8 L1784.4,1201.9 L1787.0,1202.0 L1789.7,1202.1 L1792.4,1202.2 L1795.1,1202.3 L1797.8,1202.4 L1800.7,1202.6 L1803.7,1202.8 L1806.9,1203.0 L1810.0,1203.2 L1813.1,1203.4 L1816.0,1203.6 L1818.7,1203.8 L1821.2,1204.0 L1822.6,1204.1 L1823.9,1204.2 L1825.1,1204.3 L1826.2,1204.4 L1827.3,1204.5 L1828.5,1204.6 L1829.8,1204.8 L1831.2,1204.9 L1833.8,1205.1 L1836.7,1205.4 L1839.8,1205.7 L1843.0,1206.0 L1846.3,1206.3 L1849.7,1206.7 L1853.0,1207.0 L1856.2,1207.4 L1859.3,1207.8 L1862.5,1208.2 L1865.6,1208.6 L1868.7,1209.0 L1871.8,1209.4 L1875.0,1209.9 L1878.1,1210.4 L1881.2,1210.9 L1884.3,1211.4 L1887.5,1212.0 L1890.6,1212.6 L1893.7,1213.2 L1896.8,1213.8 L1900.0,1214.5 L1903.1,1215.2 L1906.2,1215.9 L1909.3,1216.7 L1912.5,1217.5 L1915.6,1218.3 L1918.7,1219.2 L1921.8,1220.1 L1925.0,1221.0 L1928.1,1222.0 L1931.2,1222.9 L1934.3,1223.8 L1937.5,1224.8 L1940.6,1225.8 L1943.7,1226.8 L1946.8,1227.8 L1950.0,1228.8 L1953.1,1229.8 L1956.2,1230.9 L1959.3,1232.0 L1962.5,1233.2 L1965.6,1234.3 L1968.7,1235.5 L1971.8,1236.7 L1975.0,1238.0 L1978.1,1239.2 L1981.2,1240.4 L1984.4,1241.6 L1987.5,1242.9 L1990.7,1244.2 L1993.9,1245.4 L1997.1,1246.7 L2000.2,1247.9 L2003.3,1249.2 L2006.2,1250.4 L2008.7,1251.4 L2011.1,1252.4 L2013.4,1253.4 L2015.7,1254.4 L2018.0,1255.4 L2020.3,1256.4 L2022.6,1257.4 L2024.9,1258.4 L2032.3,1261.6" fill="none" stroke="#ff8000" stroke-width="5.60" stroke-linejoin="round" stroke-linecap="butt"/>
<clipPath id="c18"><rect x="1266.2" y="0" width="758.7" height="1408"/></clipPath>
<path clip-path="url(#c18)" d="M1258.5,792.4 L1266.2,794.5 L1268.6,795.1 L1270.9,795.7 L1273.2,796.4 L1275.5,797.0 L1277.8,797.6 L1280.1,798.2 L1282.5,798.9 L1285.0,799.5 L1287.9,800.2 L1291.0,801.0 L1294.1,801.8 L1297.3,802.6 L1300.5,803.3 L1303.7,804.1 L1306.8,804.8 L1310.0,805.5 L1313.1,806.1 L1316.2,806.8 L1319.4,807.3 L1322.5,807.9 L1325.6,808.5 L1328.7,809.0 L1331.9,809.5 L1335.0,810.0 L1338.1,810.5 L1341.2,810.9 L1344.4,811.3 L1347.5,811.7 L1350.6,812.1 L1353.7,812.5 L1356.9,812.9 L1360.0,813.2 L1363.1,813.6 L1366.2,813.9 L1369.4,814.3 L1372.5,814.6 L1375.6,814.9 L1378.7,815.2 L1381.9,815.5 L1385.0,815.8 L1388.1,816.0 L1391.2,816.3 L1394.4,816.6 L1397.5,816.9 L1400.6,817.2 L1403.7,817.5 L1406.9,817.7 L1410.0,818.0 L1413.1,818.3 L1416.2,818.5 L1419.4,818.7 L1422.5,819.0 L1425.6,819.2 L1428.8,819.5 L1431.9,819.7 L1435.0,820.0 L1438.2,820.3 L1441.5,820.5 L1444.9,820.8 L1448.2,821.0 L1451.5,821.3 L1454.6,821.7 L1457.4,822.0 L1460.0,822.5 L1461.5,822.8 L1462.9,823.2 L1464.2,823.5 L1465.4,823.9 L1466.6,824.3 L1467.7,824.7 L1468.9,825.2 L1470.0,825.6 L1471.1,826.1 L1472.1,826.5 L1473.1,826.9 L1474.1,827.4 L1475.1,827.9 L1476.0,828.4 L1476.9,828.9 L1477.8,829.5 L1478.6,830.1 L1479.4,830.7 L1480.1,831.3 L1480.8,832.0 L1481.5,832.6 L1482.1,833.4 L1482.7,834.2 L1483.3,835.0 L1483.9,836.1 L1484.3,837.4 L1484.7,838.7 L1485.1,840.0 L1485.4,841.5 L1485.7,843.0 L1486.0,844.4 L1486.4,845.9 L1486.9,847.8 L1487.4,849.6 L1487.8,851.6 L1488.3,853.6 L1488.8,855.6 L1489.3,857.6 L1489.8,859.6 L1490.3,861.6 L1490.9,863.5 L1491.4,865.5 L1492.0,867.4 L1492.5,869.4 L1493.1,871.4 L1493.7,873.3 L1494.3,875.2 L1495.0,877.2 L1495.7,879.2 L1496.4,881.2 L1497.1,883.2 L1497.9,885.2 L1498.6,887.2 L1499.5,889.2 L1500.3,891.0 L1501.2,892.8 L1502.1,894.3 L1503.0,895.8 L1503.9,897.3 L1504.8,898.7 L1505.8,900.0 L1506.8,901.3 L1507.9,902.6 L1509.1,903.8 L1510.3,904.9 L1511.5,906.0 L1512.9,907.0 L1514.3,908.0 L1515.7,908.9 L1517.1,909.8 L1518.5,910.7 L1520.0,911.6 L1521.5,912.4 L1523.0,913.3 L1524.6,914.1 L1526.1,914.9 L1527.7,915.7 L1529.3,916.4 L1530.9,917.1 L1532.5,917.8 L1534.1,918.5 L1535.7,919.1 L1537.3,919.6 L1538.9,920.2 L1540.4,920.8 L1542.0,921.3 L1543.5,921.9 L1545.0,922.5 L1546.3,923.0 L1547.5,923.6 L1548.7,924.1 L1549.9,924.6 L1551.1,925.2 L1552.2,925.8 L1553.3,926.5 L1554.4,927.2 L1555.5,928.0 L1556.5,928.9 L1557.5,929.8 L1558.5,930.8 L1559.5,931.8 L1560.4,932.9 L1561.3,933.9 L1562.2,935.0 L1563.0,936.1 L1563.7,937.2 L1564.4,938.4 L1565.0,939.6 L1565.6,940.8 L1566.3,942.0 L1566.9,943.2 L1567.7,944.4 L1568.4,945.5 L1569.1,946.7 L1569.8,947.9 L1570.6,949.1 L1571.4,950.2 L1572.2,951.3 L1573.0,952.2 L1573.9,953.0 L1574.7,953.5 L1575.6,953.8 L1576.5,954.1 L1577.4,954.3 L1578.3,954.5 L1579.2,954.8 L1580.1,955.0 L1580.9,955.3 L1581.7,955.6 L1582.4,956.0 L1583.1,956.3 L1583.8,956.6 L1584.5,957.0 L1585.2,957.4 L1585.8,957.9 L1586.4,958.4 L1587.1,959.2 L1587.7,960.1 L1588.3,961.1 L1588.9,962.1 L1589.4,963.2 L1590.0,964.2 L1590.5,965.3 L1591.1,966.2 L1591.7,967.2 L1592.2,968.2 L1592.7,969.2 L1593.3,970.1 L1593.9,971.1 L1594.5,971.9 L1595.1,972.7 L1595.8,973.3 L1596.4,973.6 L1597.1,973.9 L1597.8,974.0 L1598.5,974.1 L1599.2,974.2 L1599.9,974.3 L1600.6,974.5 L1601.2,974.8 L1601.9,975.3 L1602.5,975.9 L1603.1,976.6 L1603.6,977.3 L1604.2,978.1 L1604.7,978.8 L1605.3,979.6 L1605.9,980.3 L1606.7,981.1 L1607.4,981.8 L1608.1,982.6 L1608.9,983.4 L1609.6,984.1 L1610.5,984.9 L1611.3,985.7 L1612.2,986.6 L1613.4,987.7 L1614.7,988.8 L1616.0,990.0 L1617.4,991.2 L1618.9,992.4 L1620.3,993.6 L1621.7,994.8 L1623.1,995.9 L1624.5,997.1 L1625.9,998.3 L1627.2,999.4 L1628.6,1000.6 L1629.9,1001.8 L1631.3,1003.0 L1632.7,1004.1 L1634.1,1005.3 L1635.5,1006.5 L1636.9,1007.8 L1638.4,1009.0 L1639.8,1010.2 L1641.3,1011.5 L1642.7,1012.7 L1644.2,1014.0 L1645.6,1015.2 L1647.0,1016.4 L1648.5,1017.7 L1649.9,1018.9 L1651.4,1020.2 L1652.8,1021.4 L1654.3,1022.6 L1655.7,1023.9 L1657.1,1025.1 L1658.5,1026.3 L1659.9,1027.4 L1661.3,1028.6 L1662.6,1029.8 L1664.0,1031.0 L1665.3,1032.1 L1666.7,1033.3 L1668.1,1034.5 L1669.5,1035.6 L1670.9,1036.8 L1672.3,1038.0 L1673.8,1039.2 L1675.2,1040.4 L1676.5,1041.6 L1677.8,1042.7 L1679.0,1043.8 L1679.9,1044.7 L1680.7,1045.5 L1681.6,1046.3 L1682.3,1047.0 L1683.1,1047.8 L1683.8,1048.6 L1684.5,1049.3 L1685.3,1050.1 L1685.9,1050.8 L1686.5,1051.6 L1687.0,1052.3 L1687.6,1053.1 L1688.1,1053.8 L1688.7,1054.5 L1689.3,1055.1 L1689.9,1055.6 L1690.6,1055.9 L1691.3,1056.1 L1692.0,1056.2 L1692.7,1056.3 L1693.4,1056.4 L1694.1,1056.5 L1694.8,1056.8 L1695.4,1057.1 L1696.1,1057.7 L1696.7,1058.5 L1697.3,1059.3 L1697.9,1060.3 L1698.5,1061.2 L1699.0,1062.2 L1699.5,1063.2 L1700.1,1064.2 L1700.7,1065.1 L1701.2,1066.2 L1701.8,1067.2 L1702.3,1068.3 L1702.9,1069.3 L1703.5,1070.3 L1704.1,1071.2 L1704.8,1072.0 L1705.4,1072.5 L1706.0,1073.0 L1706.7,1073.4 L1707.4,1073.8 L1708.1,1074.1 L1708.8,1074.4 L1709.5,1074.8 L1710.3,1075.1 L1711.1,1075.4 L1712.0,1075.6 L1712.9,1075.9 L1713.8,1076.1 L1714.7,1076.3 L1715.6,1076.6 L1716.5,1076.9 L1717.3,1077.4 L1718.2,1078.2 L1719.0,1079.1 L1719.8,1080.2 L1720.6,1081.3 L1721.4,1082.5 L1722.1,1083.7 L1722.8,1084.9 L1723.5,1086.0 L1724.3,1087.2 L1724.9,1088.4 L1725.6,1089.6 L1726.2,1090.8 L1726.8,1092.0 L1727.5,1093.2 L1728.2,1094.3 L1729.0,1095.4 L1729.9,1096.5 L1730.8,1097.5 L1731.7,1098.6 L1732.7,1099.6 L1733.7,1100.6 L1734.7,1101.5 L1735.7,1102.4 L1736.8,1103.2 L1737.9,1103.9 L1739.0,1104.6 L1740.1,1105.2 L1741.3,1105.8 L1742.5,1106.3 L1743.7,1106.8 L1744.9,1107.4 L1746.2,1107.9 L1747.7,1108.5 L1749.2,1109.1 L1750.8,1109.6 L1752.3,1110.2 L1753.9,1110.8 L1755.5,1111.3 L1757.1,1111.9 L1758.7,1112.6 L1760.3,1113.3 L1761.9,1114.0 L1763.5,1114.7 L1765.1,1115.5 L1766.6,1116.3 L1768.2,1117.1 L1769.7,1118.0 L1771.2,1118.8 L1772.7,1119.7 L1774.1,1120.6 L1775.5,1121.5 L1776.9,1122.4 L1778.3,1123.4 L1779.7,1124.4 L1780.9,1125.5 L1782.1,1126.7 L1783.3,1127.8 L1784.4,1129.1 L1785.4,1130.4 L1786.4,1131.7 L1787.3,1133.1 L1788.2,1134.6 L1789.1,1136.1 L1789.9,1137.6 L1790.9,1139.4 L1791.7,1141.2 L1792.6,1143.2 L1793.3,1145.2 L1794.1,1147.2 L1794.8,1149.2 L1795.5,1151.2 L1796.2,1153.2 L1796.9,1155.2 L1797.5,1157.1 L1798.1,1159.0 L1798.7,1161.0 L1799.2,1163.0 L1799.8,1164.9 L1800.3,1166.9 L1800.9,1168.8 L1801.4,1170.8 L1801.9,1172.8 L1802.4,1174.8 L1802.9,1176.8 L1803.4,1178.8 L1803.8,1180.8 L1804.3,1182.6 L1804.8,1184.5 L1805.2,1186.0 L1805.5,1187.4 L1805.8,1188.9 L1806.1,1190.4 L1806.5,1191.7 L1806.9,1193.0 L1807.3,1194.3 L1807.9,1195.4 L1808.5,1196.2 L1809.1,1197.0 L1809.7,1197.8 L1810.4,1198.4 L1811.1,1199.1 L1811.8,1199.7 L1812.6,1200.3 L1813.4,1200.9 L1814.3,1201.5 L1815.2,1202.0 L1816.1,1202.5 L1817.1,1203.0 L1818.1,1203.5 L1819.1,1203.9 L1820.1,1204.3 L1821.2,1204.8 L1822.3,1205.2 L1823.5,1205.7 L1824.6,1206.1 L1825.8,1206.5 L1827.0,1206.9 L1828.3,1207.2 L1829.7,1207.6 L1831.2,1207.9 L1833.8,1208.4 L1836.6,1208.7 L1839.7,1209.1 L1843.0,1209.4 L1846.3,1209.6 L1849.7,1209.9 L1853.0,1210.1 L1856.2,1210.4 L1859.3,1210.7 L1862.4,1210.9 L1865.6,1211.2 L1868.7,1211.4 L1871.8,1211.7 L1875.0,1211.9 L1878.1,1212.1 L1881.2,1212.4 L1884.3,1212.7 L1887.5,1212.9 L1890.6,1213.2 L1893.7,1213.5 L1896.8,1213.8 L1900.0,1214.1 L1903.1,1214.4 L1906.2,1214.7 L1909.3,1214.9 L1912.5,1215.2 L1915.6,1215.5 L1918.7,1215.8 L1921.8,1216.1 L1925.0,1216.5 L1928.1,1216.8 L1931.2,1217.2 L1934.3,1217.5 L1937.5,1217.9 L1940.6,1218.3 L1943.7,1218.7 L1946.8,1219.1 L1950.0,1219.5 L1953.1,1219.9 L1956.2,1220.4 L1959.3,1220.9 L1962.5,1221.4 L1965.6,1221.9 L1968.7,1222.5 L1971.8,1223.1 L1975.0,1223.6 L1978.1,1224.3 L1981.2,1224.9 L1984.4,1225.6 L1987.5,1226.3 L1990.7,1227.1 L1993.9,1227.8 L1997.1,1228.6 L2000.2,1229.4 L2003.3,1230.2 L2006.2,1230.9 L2008.7,1231.5 L2011.1,1232.2 L2013.4,1232.8 L2015.7,1233.4 L2018.0,1234.0 L2020.3,1234.7 L2022.6,1235.3 L2024.9,1235.9 L2032.7,1238.0" fill="none" stroke="#00ff00" stroke-width="5.60" stroke-linejoin="round" stroke-linecap="butt"/>
<line x1="1267.4" y1="830.2" x2="1755.0" y2="830.2" stroke="#000" stroke-width="4.1" stroke-dasharray="20.6 18.30"/>
<line x1="1534.6" y1="1201.5" x2="2022.0" y2="1201.5" stroke="#000" stroke-width="4.1" stroke-dasharray="20.6 18.30"/>
<text x="1269.0" y="1336.9" font-size="44.0" text-anchor="middle" letter-spacing="-1">-6</text>
<text x="1457.3" y="1336.9" font-size="44.0" text-anchor="middle" letter-spacing="-1">-3</text>
<text x="1645.6" y="1336.9" font-size="44.0" text-anchor="middle" letter-spacing="-1">0</text>
<text x="1833.9" y="1336.9" font-size="44.0" text-anchor="middle" letter-spacing="-1">3</text>
<text x="2022.2" y="1336.9" font-size="44.0" text-anchor="middle" letter-spacing="-1">6</text>
<text x="1259.1" y="1250.6" font-size="44.0" text-anchor="end" letter-spacing="-1">-20</text>
<text x="1259.1" y="1138.8" font-size="44.0" text-anchor="end" letter-spacing="-1">-10</text>
<text x="1259.1" y="1026.9" font-size="44.0" text-anchor="end" letter-spacing="-1">0</text>
<text x="1259.1" y="915.1" font-size="44.0" text-anchor="end" letter-spacing="-1">10</text>
<text x="1259.1" y="803.2" font-size="44.0" text-anchor="end" letter-spacing="-1">20</text>
<text y="1378.6" font-size="44"><tspan x="1611.7" font-style="italic">B</tspan><tspan x="1647.7">(</tspan><tspan x="1661.9">T</tspan><tspan x="1686.9">)</tspan></text>
<g transform="translate(1177.2,1126.6) rotate(-90)">
<text font-size="44" y="0"><tspan x="3" font-style="italic" font-family="Liberation Serif, serif" font-size="47">ρ</tspan><tspan x="21 33" dy="12" font-size="26" font-style="italic">xy</tspan><tspan dy="-12" x="54.5 69 101 125.5 131 152 190">(mΩ·cm)</tspan></text>
</g>
<text x="1078.6" y="796.6" font-size="73.5" font-weight="bold" stroke-width="0">d</text>
<text font-size="37.5" letter-spacing="-1.3"><tspan x="1835.9" y="775.9">S # 2</tspan><tspan x="1835.9" y="817.4">From z to y</tspan><tspan x="1836.9" y="858.9"><tspan font-style="italic">T</tspan> = 1.5K</tspan></text>
<line x1="1833.0" y1="896.6" x2="1914.2" y2="896.6" stroke="#000000" stroke-width="6.3"/>
<text x="1939.5" y="907.4" font-size="37.5" letter-spacing="-1.3">0<tspan dy="-17.5" font-size="21.5">0</tspan></text>
<line x1="1833.0" y1="945.6" x2="1914.2" y2="945.6" stroke="#ff0000" stroke-width="6.3"/>
<text x="1922.5" y="956.4" font-size="37.5" letter-spacing="-1.3">15<tspan dy="-17.5" font-size="21.5">0</tspan></text>
<line x1="1833.0" y1="994.6" x2="1914.2" y2="994.6" stroke="#ff0080" stroke-width="6.3"/>
<text x="1922.5" y="1005.4" font-size="37.5" letter-spacing="-1.3">30<tspan dy="-17.5" font-size="21.5">0</tspan></text>
<line x1="1833.0" y1="1043.6" x2="1914.2" y2="1043.6" stroke="#ff8000" stroke-width="6.3"/>
<text x="1922.5" y="1054.4" font-size="37.5" letter-spacing="-1.3">45<tspan dy="-17.5" font-size="21.5">0</tspan></text>
<line x1="1833.0" y1="1092.6" x2="1914.2" y2="1092.6" stroke="#00ff00" stroke-width="6.3"/>
<text x="1922.5" y="1103.4" font-size="37.5" letter-spacing="-1.3">60<tspan dy="-17.5" font-size="21.5">0</tspan></text>
</g>
</svg></body></html>
